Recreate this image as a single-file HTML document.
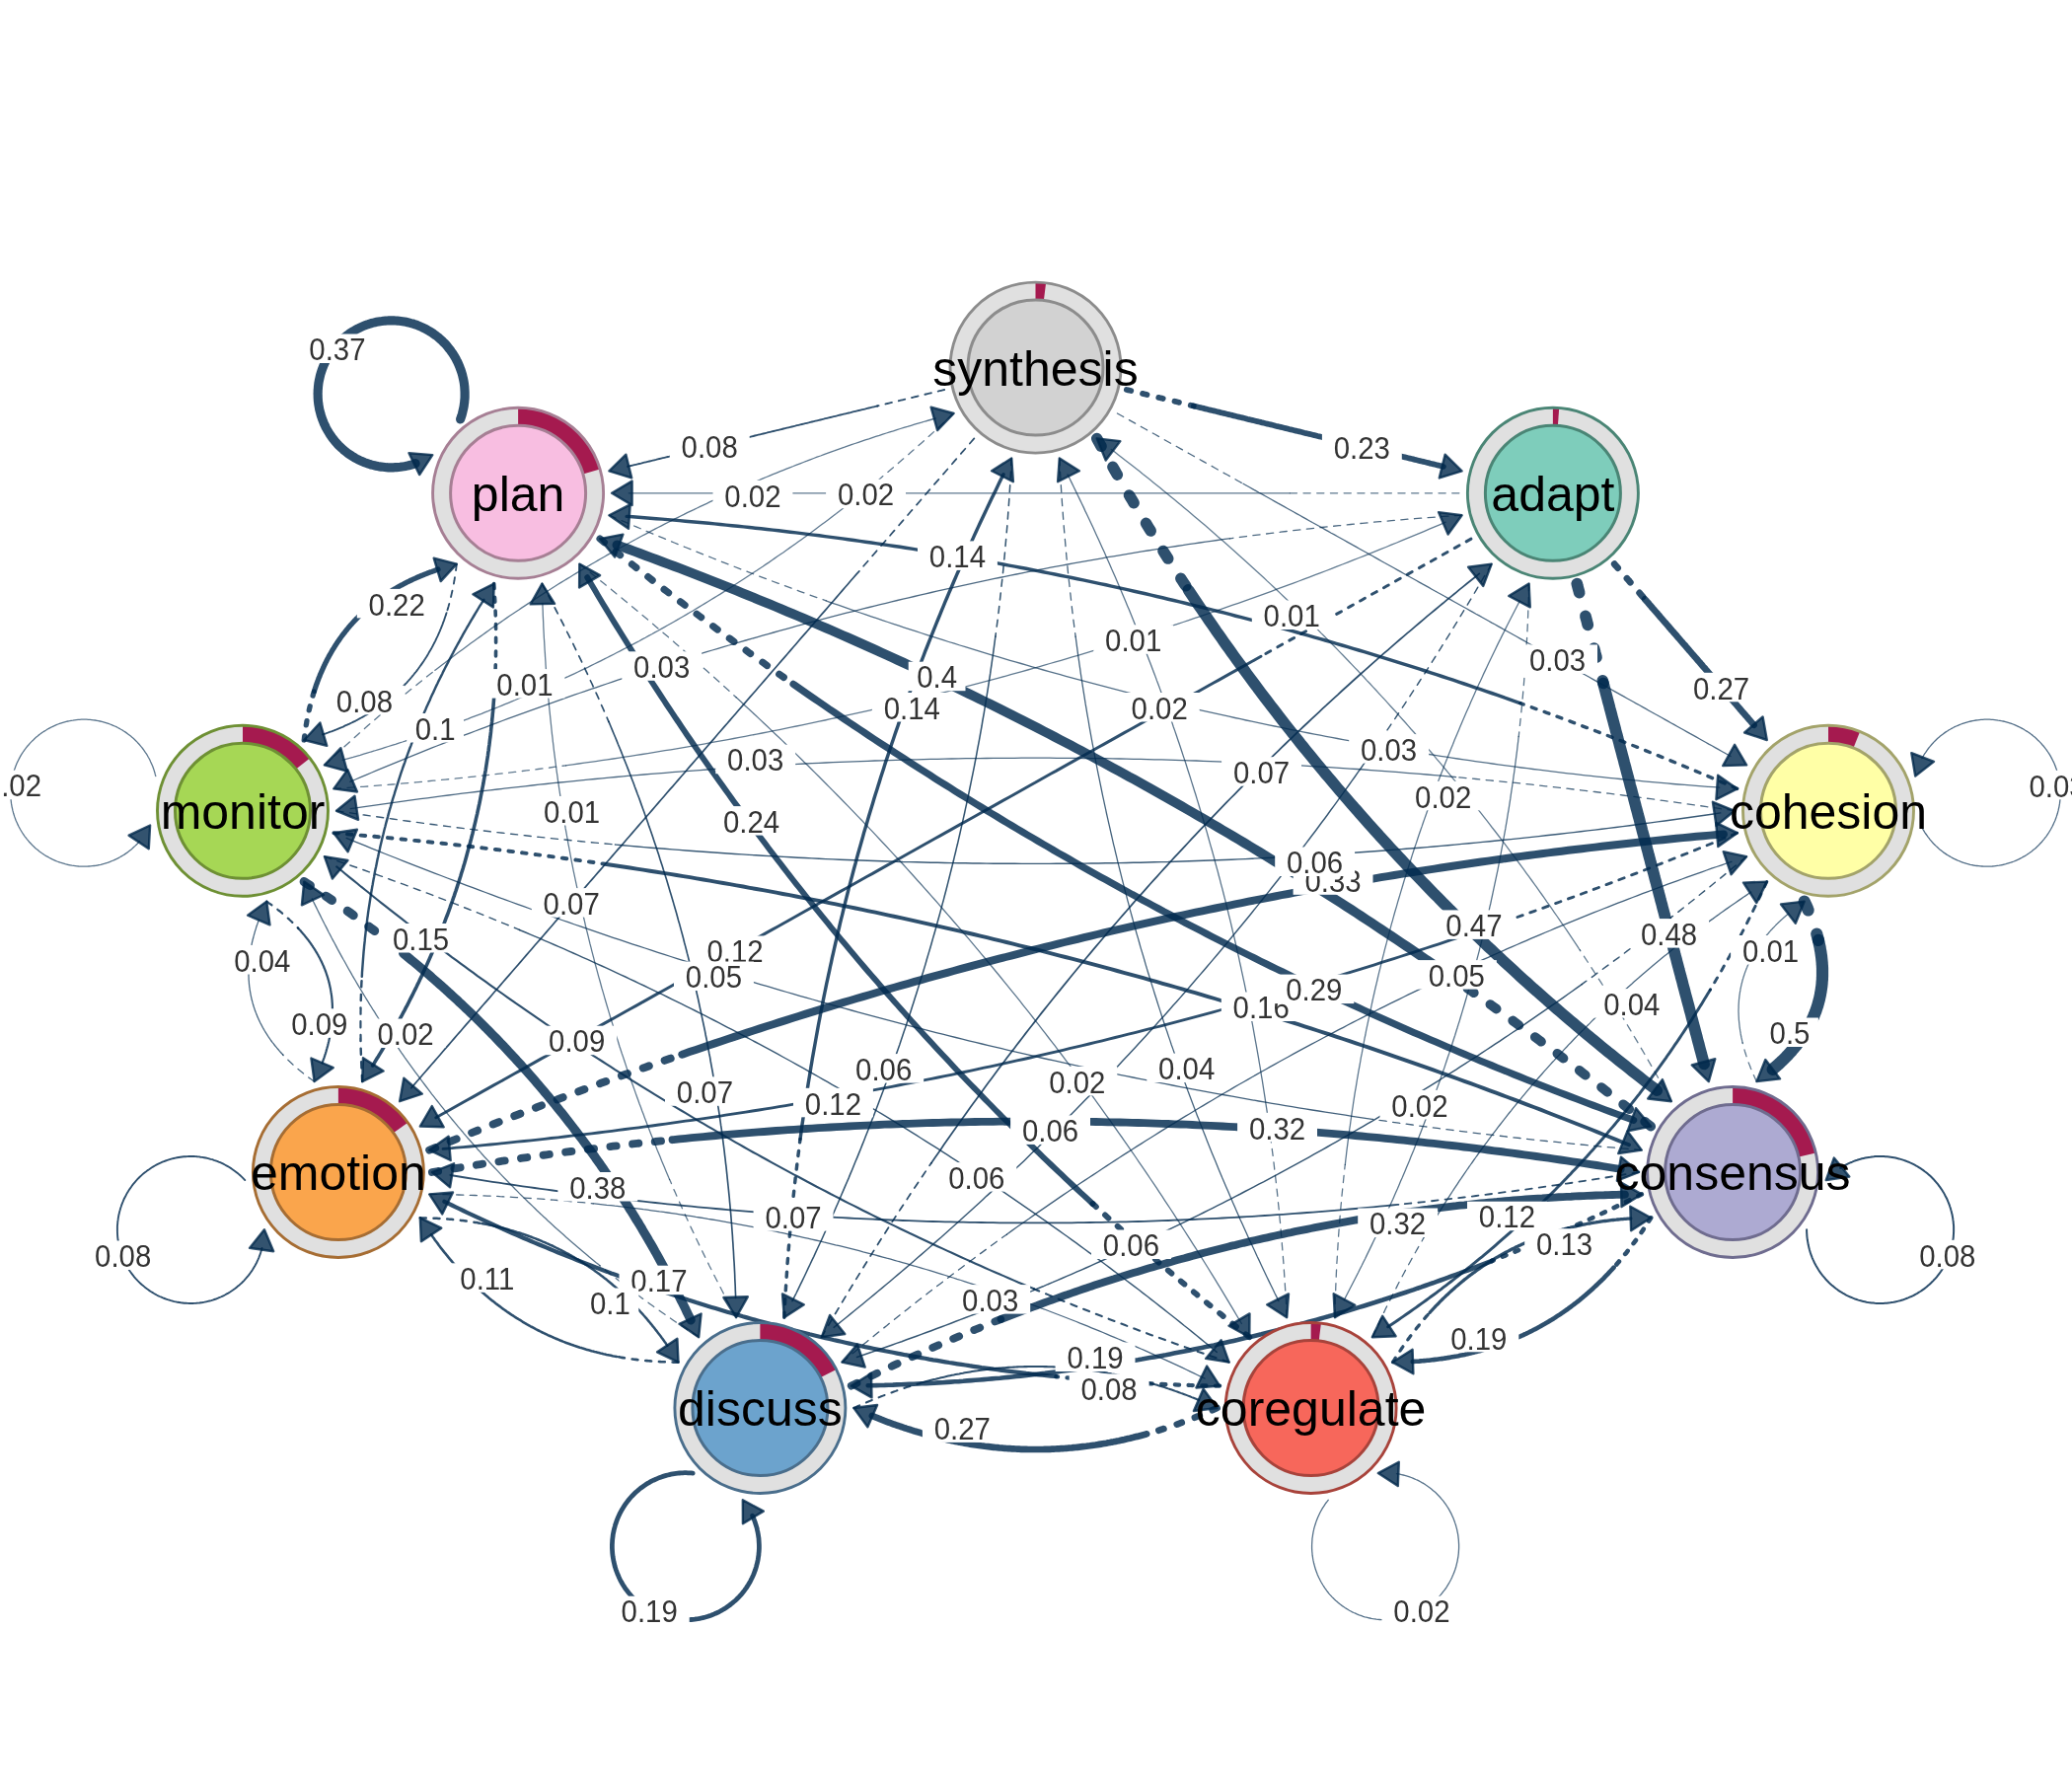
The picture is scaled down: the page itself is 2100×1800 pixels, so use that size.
<!DOCTYPE html>
<html><head><meta charset="utf-8"><title>TNA network</title>
<style>
html,body{margin:0;padding:0;background:#fff;width:2100px;height:1800px;overflow:hidden}
svg{display:block;will-change:transform}
.nl{font-family:"Liberation Sans",sans-serif;font-size:50px;fill:#000}
.el{font-family:"Liberation Sans",sans-serif;font-size:30px;fill:#333}
</style></head><body>
<svg xmlns="http://www.w3.org/2000/svg" width="2100" height="1800" viewBox="0 0 2100 1800"><rect width="100%" height="100%" fill="#fff"/><path d="M1693.9,1116.2 L1691.7,1112.2 L1689.5,1108.2 L1687.3,1104.3 L1685.1,1100.3 L1682.8,1096.3 L1680.6,1092.4 L1678.4,1088.5 L1676.1,1084.5 L1673.9,1080.6 L1671.6,1076.7 L1669.4,1072.7 L1667.1,1068.8 L1664.8,1064.9 L1662.5,1061.0 L1660.2,1057.1 L1657.9,1053.2 L1655.6,1049.4 L1653.3,1045.5 L1651.0,1041.6 L1648.7,1037.7 L1646.3,1033.9 L1644.0,1030.0 L1641.6,1026.2 L1639.3,1022.4 L1636.9,1018.5 L1634.5,1014.7 L1632.1,1010.9 L1629.8,1007.1 L1627.4,1003.3 L1625.0,999.5 L1622.6,995.7 L1620.1,991.9 L1617.7,988.1 L1615.3,984.3 L1612.8,980.6 L1610.4,976.8 L1607.9,973.0 L1605.5,969.3 L1603.0,965.5 L1601.3,962.9" fill="none" stroke="rgba(0,42,78,0.607)" stroke-width="1.30" stroke-linecap="round" stroke-dasharray="7.2 6.5"/><path d="M1601.3,962.9 L1600.5,961.8 L1598.1,958.1 L1595.6,954.4 L1593.1,950.6 L1590.6,946.9 L1588.1,943.2 L1585.6,939.5 L1583.0,935.8 L1580.5,932.1 L1578.0,928.5 L1575.4,924.8 L1572.9,921.1 L1570.3,917.4 L1567.7,913.8 L1565.2,910.1 L1562.6,906.5 L1560.0,902.9 L1557.4,899.2 L1554.8,895.6 L1552.2,892.0 L1549.6,888.4 L1546.9,884.8 L1544.3,881.2 L1541.7,877.6 L1539.0,874.0 L1536.4,870.4 L1533.7,866.8 L1531.0,863.3 L1528.3,859.7 L1525.7,856.1 L1523.0,852.6 L1520.3,849.0 L1517.6,845.5 L1514.9,842.0 L1512.1,838.5 L1509.4,834.9 L1506.7,831.4 L1503.9,827.9 L1501.2,824.4 L1498.4,820.9 L1495.7,817.4 L1492.9,814.0 L1490.1,810.5 L1487.3,807.0 L1484.5,803.5 L1481.7,800.1 L1478.9,796.6 L1476.1,793.2 L1473.3,789.8 L1470.5,786.3 L1467.6,782.9 L1464.8,779.5 L1462.0,776.1 L1459.1,772.7 L1456.2,769.3 L1453.4,765.9 L1450.5,762.5 L1447.6,759.1 L1444.7,755.7 L1441.8,752.4 L1438.9,749.0 L1436.0,745.6 L1433.1,742.3 L1430.1,739.0 L1427.2,735.6 L1424.3,732.3 L1421.3,729.0 L1418.3,725.6 L1415.4,722.3 L1412.4,719.0 L1409.4,715.7 L1406.4,712.4 L1403.5,709.1 L1400.4,705.9 L1397.4,702.6 L1394.4,699.3 L1391.4,696.1 L1388.4,692.8 L1385.3,689.6 L1382.3,686.3 L1379.2,683.1 L1376.2,679.8 L1373.1,676.6 L1370.0,673.4 L1367.0,670.2 L1363.9,667.0 L1360.8,663.8 L1357.7,660.6 L1354.6,657.4 L1351.5,654.2 L1348.3,651.1 L1345.2,647.9 L1342.1,644.7 L1338.9,641.6 L1335.8,638.4 L1332.6,635.3 L1329.4,632.1 L1326.3,629.0 L1323.1,625.9 L1319.9,622.8 L1316.7,619.7 L1313.5,616.5 L1310.3,613.4 L1307.1,610.4 L1303.8,607.3 L1300.6,604.2 L1297.4,601.1 L1294.1,598.0 L1290.9,595.0 L1287.6,591.9 L1284.3,588.9 L1281.1,585.8 L1277.8,582.8 L1274.5,579.8 L1271.2,576.7 L1267.9,573.7 L1264.6,570.7 L1261.3,567.7 L1257.9,564.7 L1254.6,561.7 L1251.3,558.7 L1247.9,555.7 L1244.6,552.8 L1241.2,549.8 L1237.8,546.8 L1234.4,543.9 L1231.1,540.9 L1227.7,538.0 L1224.3,535.1 L1220.9,532.1 L1217.5,529.2 L1214.0,526.3 L1210.6,523.4 L1207.2,520.5 L1203.7,517.6 L1200.3,514.7 L1196.8,511.8 L1193.4,508.9 L1189.9,506.0 L1186.4,503.2 L1182.9,500.3 L1179.4,497.5 L1175.9,494.6 L1172.4,491.8 L1168.9,488.9 L1165.4,486.1 L1161.9,483.3 L1158.3,480.5 L1154.8,477.6 L1151.2,474.8 L1147.7,472.0 L1144.1,469.2 L1140.5,466.5 L1137.0,463.7 L1133.4,460.9 L1129.8,458.1 L1126.2,455.4" fill="none" stroke="rgba(0,42,78,0.607)" stroke-width="1.30" stroke-linecap="round"/><path d="M338.3,799.4 L344.3,799.0 L350.2,798.6 L356.2,798.2 L362.1,797.7 L368.1,797.3 L374.0,796.9 L380.0,796.4 L385.9,795.9 L391.8,795.4 L397.8,795.0 L403.7,794.5 L409.6,793.9 L415.6,793.4 L421.5,792.9 L427.4,792.4 L433.3,791.8 L439.2,791.2 L445.2,790.7 L451.1,790.1 L457.0,789.5 L462.9,788.9 L468.8,788.3 L474.7,787.7 L480.6,787.1 L486.5,786.4 L492.4,785.8 L498.3,785.1 L504.2,784.4 L510.1,783.8 L515.9,783.1 L521.8,782.4 L527.7,781.7 L533.6,780.9 L539.5,780.2 L545.3,779.5 L551.2,778.7 L557.1,778.0 L562.9,777.2 L568.8,776.4 L573.6,775.8" fill="none" stroke="rgba(0,42,78,0.619)" stroke-width="1.30" stroke-linecap="round" stroke-dasharray="7.2 6.5"/><path d="M573.6,775.8 L574.7,775.6 L580.5,774.8 L586.4,774.0 L592.2,773.2 L598.1,772.4 L603.9,771.6 L609.8,770.7 L615.6,769.9 L621.5,769.0 L627.3,768.1 L633.2,767.2 L639.0,766.3 L644.8,765.4 L650.7,764.5 L656.5,763.6 L662.3,762.6 L668.1,761.7 L673.9,760.7 L679.8,759.8 L685.6,758.8 L691.4,757.8 L697.2,756.8 L703.0,755.8 L708.8,754.8 L714.6,753.8 L720.4,752.7 L726.2,751.7 L732.0,750.6 L737.8,749.6 L743.6,748.5 L749.4,747.4 L755.2,746.3 L761.0,745.2 L766.8,744.1 L772.5,743.0 L778.3,741.9 L784.1,740.7 L789.9,739.6 L795.6,738.4 L801.4,737.2 L807.2,736.0 L812.9,734.8 L818.7,733.6 L824.5,732.4 L830.2,731.2 L836.0,730.0 L841.7,728.7 L847.5,727.5 L853.2,726.2 L859.0,724.9 L864.7,723.7 L870.4,722.4 L876.2,721.1 L881.9,719.8 L887.6,718.4 L893.4,717.1 L899.1,715.8 L904.8,714.4 L910.5,713.0 L916.3,711.7 L922.0,710.3 L927.7,708.9 L933.4,707.5 L939.1,706.1 L944.8,704.7 L950.5,703.2 L956.2,701.8 L961.9,700.3 L967.6,698.9 L973.3,697.4 L979.0,695.9 L984.7,694.4 L990.4,692.9 L996.1,691.4 L1001.8,689.9 L1007.5,688.4 L1013.1,686.8 L1018.8,685.3 L1024.5,683.7 L1030.2,682.2 L1035.8,680.6 L1041.5,679.0 L1047.2,677.4 L1052.8,675.8 L1058.5,674.2 L1064.1,672.5 L1069.8,670.9 L1075.4,669.3 L1081.1,667.6 L1086.7,665.9 L1092.4,664.3 L1098.0,662.6 L1103.7,660.9 L1109.3,659.2 L1115.0,657.4 L1120.6,655.7 L1126.2,654.0 L1131.8,652.2 L1137.5,650.5 L1143.1,648.7 L1148.7,646.9 L1154.3,645.1 L1160.0,643.3 L1165.6,641.5 L1171.2,639.7 L1176.8,637.9 L1182.4,636.1 L1188.0,634.2 L1193.6,632.3 L1199.2,630.5 L1204.8,628.6 L1210.4,626.7 L1216.0,624.8 L1221.6,622.9 L1227.2,621.0 L1232.8,619.1 L1238.3,617.1 L1243.9,615.2 L1249.5,613.2 L1255.1,611.3 L1260.6,609.3 L1266.2,607.3 L1271.8,605.3 L1277.4,603.3 L1282.9,601.3 L1288.5,599.3 L1294.0,597.2 L1299.6,595.2 L1305.1,593.1 L1310.7,591.1 L1316.3,589.0 L1321.8,586.9 L1327.3,584.8 L1332.9,582.7 L1338.4,580.6 L1344.0,578.5 L1349.5,576.3 L1355.0,574.2 L1360.6,572.0 L1366.1,569.9 L1371.6,567.7 L1377.1,565.5 L1382.7,563.3 L1388.2,561.1 L1393.7,558.9 L1399.2,556.7 L1404.7,554.5 L1410.2,552.2 L1415.7,550.0 L1421.2,547.7 L1426.7,545.4 L1432.2,543.2 L1437.7,540.9 L1443.2,538.6 L1448.7,536.2 L1454.2,533.9 L1459.7,531.6 L1465.2,529.2" fill="none" stroke="rgba(0,42,78,0.619)" stroke-width="1.30" stroke-linecap="round"/><path d="M746.1,1335.2 L744.3,1331.7 L742.4,1328.2 L740.5,1324.7 L738.7,1321.2 L736.8,1317.7 L735.0,1314.2 L733.2,1310.7 L731.4,1307.2 L729.6,1303.7 L727.8,1300.2 L726.0,1296.7 L724.2,1293.2 L722.4,1289.7 L720.7,1286.2 L718.9,1282.7 L717.2,1279.2 L715.4,1275.7 L713.7,1272.1 L712.0,1268.6 L710.3,1265.1 L708.6,1261.6 L706.9,1258.0 L705.2,1254.5 L703.6,1251.0 L701.9,1247.4 L700.2,1243.9 L698.6,1240.3 L697.0,1236.8 L695.3,1233.2 L693.7,1229.7 L692.1,1226.1 L690.5,1222.6 L688.9,1219.0 L687.3,1215.5 L685.8,1211.9 L684.2,1208.3 L682.6,1204.8 L681.1,1201.2 L679.6,1197.6 L678.6,1195.4" fill="none" stroke="rgba(0,42,78,0.621)" stroke-width="1.30" stroke-linecap="round" stroke-dasharray="7.2 6.5"/><path d="M678.6,1195.4 L678.0,1194.1 L676.5,1190.5 L675.0,1186.9 L673.5,1183.3 L672.0,1179.7 L670.5,1176.2 L669.1,1172.6 L667.6,1169.0 L666.1,1165.4 L664.7,1161.8 L663.3,1158.2 L661.8,1154.6 L660.4,1151.0 L659.0,1147.4 L657.6,1143.8 L656.2,1140.2 L654.8,1136.6 L653.4,1132.9 L652.1,1129.3 L650.7,1125.7 L649.4,1122.1 L648.0,1118.5 L646.7,1114.8 L645.4,1111.2 L644.1,1107.6 L642.8,1103.9 L641.5,1100.3 L640.2,1096.7 L638.9,1093.0 L637.7,1089.4 L636.4,1085.7 L635.1,1082.1 L633.9,1078.4 L632.7,1074.8 L631.5,1071.1 L630.2,1067.5 L629.0,1063.8 L627.8,1060.2 L626.7,1056.5 L625.5,1052.8 L624.3,1049.2 L623.2,1045.5 L622.0,1041.8 L620.9,1038.1 L619.7,1034.5 L618.6,1030.8 L617.5,1027.1 L616.4,1023.4 L615.3,1019.7 L614.2,1016.0 L613.1,1012.3 L612.1,1008.6 L611.0,1004.9 L609.9,1001.2 L608.9,997.5 L607.9,993.8 L606.8,990.1 L605.8,986.4 L604.8,982.7 L603.8,979.0 L602.8,975.3 L601.9,971.6 L600.9,967.8 L599.9,964.1 L599.0,960.4 L598.0,956.7 L597.1,952.9 L596.2,949.2 L595.3,945.5 L594.3,941.7 L593.4,938.0 L592.6,934.2 L591.7,930.5 L590.8,926.7 L589.9,923.0 L589.1,919.2 L588.2,915.5 L587.4,911.7 L586.6,908.0 L585.8,904.2 L585.0,900.4 L584.2,896.7 L583.4,892.9 L582.6,889.1 L581.8,885.4 L581.0,881.6 L580.3,877.8 L579.5,874.0 L578.8,870.2 L578.1,866.5 L577.4,862.7 L576.7,858.9 L575.9,855.1 L575.3,851.3 L574.6,847.5 L573.9,843.7 L573.2,839.9 L572.6,836.1 L571.9,832.3 L571.3,828.5 L570.7,824.7 L570.0,820.8 L569.4,817.0 L568.8,813.2 L568.2,809.4 L567.7,805.6 L567.1,801.7 L566.5,797.9 L566.0,794.1 L565.4,790.3 L564.9,786.4 L564.3,782.6 L563.8,778.7 L563.3,774.9 L562.8,771.1 L562.3,767.2 L561.8,763.4 L561.3,759.5 L560.9,755.6 L560.4,751.8 L560.0,747.9 L559.5,744.1 L559.1,740.2 L558.7,736.3 L558.3,732.5 L557.9,728.6 L557.5,724.7 L557.1,720.9 L556.7,717.0 L556.3,713.1 L556.0,709.2 L555.6,705.3 L555.3,701.4 L554.9,697.5 L554.6,693.7 L554.3,689.8 L554.0,685.9 L553.7,682.0 L553.4,678.1 L553.1,674.2 L552.9,670.2 L552.6,666.3 L552.4,662.4 L552.1,658.5 L551.9,654.6 L551.7,650.7 L551.4,646.8 L551.2,642.8 L551.0,638.9 L550.8,635.0 L550.7,631.1 L550.5,627.1 L550.3,623.2 L550.2,619.2 L550.0,615.3 L549.9,611.4" fill="none" stroke="rgba(0,42,78,0.621)" stroke-width="1.30" stroke-linecap="round"/><path d="M966.6,419.0 L963.8,421.5 L961.1,424.1 L958.3,426.7 L955.6,429.2 L952.8,431.8 L950.1,434.3 L947.3,436.9 L944.5,439.4 L941.7,441.9 L939.0,444.4 L936.2,446.9 L933.4,449.4 L930.6,451.9 L927.8,454.4 L925.0,456.8 L922.2,459.3 L919.4,461.8 L916.5,464.2 L913.7,466.6 L910.9,469.1 L908.1,471.5 L905.2,473.9 L902.4,476.3 L899.5,478.7 L896.7,481.1 L893.8,483.5 L891.0,485.9 L888.1,488.2 L885.3,490.6 L882.4,492.9 L879.5,495.3 L876.6,497.6 L873.7,499.9 L870.9,502.2 L868.0,504.5 L865.1,506.8 L862.2,509.1 L859.3,511.4 L856.3,513.7 L854.6,515.1" fill="none" stroke="rgba(0,42,78,0.623)" stroke-width="1.30" stroke-linecap="round" stroke-dasharray="7.2 6.5"/><path d="M854.6,515.1 L853.4,516.0 L850.5,518.2 L847.6,520.5 L844.6,522.7 L841.7,525.0 L838.8,527.2 L835.8,529.4 L832.9,531.6 L829.9,533.8 L827.0,536.0 L824.0,538.2 L821.0,540.4 L818.1,542.6 L815.1,544.7 L812.1,546.9 L809.1,549.0 L806.1,551.2 L803.2,553.3 L800.2,555.4 L797.2,557.5 L794.2,559.7 L791.1,561.8 L788.1,563.8 L785.1,565.9 L782.1,568.0 L779.1,570.1 L776.0,572.1 L773.0,574.2 L769.9,576.2 L766.9,578.3 L763.8,580.3 L760.8,582.3 L757.7,584.3 L754.7,586.3 L751.6,588.3 L748.5,590.3 L745.4,592.3 L742.4,594.3 L739.3,596.2 L736.2,598.2 L733.1,600.1 L730.0,602.1 L726.9,604.0 L723.8,605.9 L720.7,607.8 L717.5,609.7 L714.4,611.6 L711.3,613.5 L708.2,615.4 L705.0,617.3 L701.9,619.2 L698.7,621.0 L695.6,622.9 L692.4,624.7 L689.3,626.5 L686.1,628.4 L682.9,630.2 L679.8,632.0 L676.6,633.8 L673.4,635.6 L670.2,637.4 L667.0,639.2 L663.8,640.9 L660.6,642.7 L657.4,644.4 L654.2,646.2 L651.0,647.9 L647.8,649.7 L644.6,651.4 L641.3,653.1 L638.1,654.8 L634.9,656.5 L631.6,658.2 L628.4,659.9 L625.1,661.5 L621.9,663.2 L618.6,664.9 L615.4,666.5 L612.1,668.2 L608.8,669.8 L605.6,671.4 L602.3,673.0 L599.0,674.6 L595.7,676.3 L592.4,677.8 L589.1,679.4 L585.8,681.0 L582.5,682.6 L579.2,684.1 L575.9,685.7 L572.5,687.2 L569.2,688.8 L565.9,690.3 L562.6,691.8 L559.2,693.3 L555.9,694.8 L552.5,696.3 L549.2,697.8 L545.8,699.3 L542.5,700.8 L539.1,702.2 L535.7,703.7 L532.3,705.2 L529.0,706.6 L525.6,708.0 L522.2,709.5 L518.8,710.9 L515.4,712.3 L512.0,713.7 L508.6,715.1 L505.2,716.5 L501.8,717.8 L498.3,719.2 L494.9,720.6 L491.5,721.9 L488.1,723.3 L484.6,724.6 L481.2,725.9 L477.7,727.2 L474.3,728.6 L470.8,729.9 L467.4,731.2 L463.9,732.4 L460.4,733.7 L457.0,735.0 L453.5,736.3 L450.0,737.5 L446.5,738.8 L443.0,740.0 L439.5,741.2 L436.0,742.5 L432.5,743.7 L429.0,744.9 L425.5,746.1 L422.0,747.3 L418.5,748.5 L414.9,749.6 L411.4,750.8 L407.9,752.0 L404.3,753.1 L400.8,754.3 L397.2,755.4 L393.7,756.5 L390.1,757.6 L386.5,758.8 L383.0,759.9 L379.4,761.0 L375.8,762.0 L372.2,763.1 L368.7,764.2 L365.1,765.3 L361.5,766.3 L357.9,767.4 L354.3,768.4 L350.7,769.4 L347.1,770.4" fill="none" stroke="rgba(0,42,78,0.623)" stroke-width="1.30" stroke-linecap="round"/><path d="M1780.4,1096.1 L1779.9,1095.0 L1779.3,1093.9 L1778.8,1092.8 L1778.3,1091.7 L1777.8,1090.6 L1777.3,1089.5 L1776.8,1088.4 L1776.4,1087.3 L1775.9,1086.2 L1775.4,1085.1 L1775.0,1084.0 L1774.5,1082.9 L1774.1,1081.8 L1773.7,1080.7 L1773.3,1079.6 L1772.8,1078.5 L1772.4,1077.4 L1772.0,1076.4 L1771.7,1075.3 L1771.3,1074.2 L1770.9,1073.1 L1770.5,1072.1 L1770.2,1071.0 L1769.8,1069.9 L1769.5,1068.8 L1769.1,1067.8 L1768.8,1066.7 L1768.5,1065.7 L1768.2,1064.6 L1767.9,1063.5 L1767.6,1062.5 L1767.3,1061.4 L1767.0,1060.4 L1766.7,1059.3 L1766.5,1058.3 L1766.2,1057.2 L1766.1,1056.8" fill="none" stroke="rgba(0,42,78,0.632)" stroke-width="1.30" stroke-linecap="round" stroke-dasharray="7.2 6.5"/><path d="M1766.1,1056.8 L1766.0,1056.2 L1765.7,1055.2 L1765.5,1054.1 L1765.3,1053.1 L1765.0,1052.0 L1764.8,1051.0 L1764.6,1050.0 L1764.4,1049.0 L1764.2,1047.9 L1764.1,1046.9 L1763.9,1045.9 L1763.7,1044.9 L1763.6,1043.8 L1763.4,1042.8 L1763.3,1041.8 L1763.1,1040.8 L1763.0,1039.8 L1762.9,1038.8 L1762.8,1037.8 L1762.7,1036.8 L1762.6,1035.8 L1762.5,1034.8 L1762.4,1033.8 L1762.3,1032.8 L1762.3,1031.8 L1762.2,1030.8 L1762.2,1029.8 L1762.1,1028.8 L1762.1,1027.8 L1762.1,1026.9 L1762.0,1025.9 L1762.0,1024.9 L1762.0,1023.9 L1762.0,1022.9 L1762.1,1022.0 L1762.1,1021.0 L1762.1,1020.0 L1762.1,1019.1 L1762.2,1018.1 L1762.2,1017.1 L1762.3,1016.2 L1762.4,1015.2 L1762.4,1014.3 L1762.5,1013.3 L1762.6,1012.3 L1762.7,1011.4 L1762.8,1010.4 L1762.9,1009.5 L1763.0,1008.6 L1763.2,1007.6 L1763.3,1006.7 L1763.5,1005.7 L1763.6,1004.8 L1763.8,1003.9 L1763.9,1002.9 L1764.1,1002.0 L1764.3,1001.1 L1764.5,1000.2 L1764.7,999.2 L1764.9,998.3 L1765.1,997.4 L1765.3,996.5 L1765.6,995.6 L1765.8,994.6 L1766.0,993.7 L1766.3,992.8 L1766.6,991.9 L1766.8,991.0 L1767.1,990.1 L1767.4,989.2 L1767.7,988.3 L1768.0,987.4 L1768.3,986.5 L1768.6,985.6 L1768.9,984.7 L1769.3,983.8 L1769.6,982.9 L1769.9,982.1 L1770.3,981.2 L1770.7,980.3 L1771.0,979.4 L1771.4,978.5 L1771.8,977.7 L1772.2,976.8 L1772.6,975.9 L1773.0,975.1 L1773.4,974.2 L1773.8,973.3 L1774.3,972.5 L1774.7,971.6 L1775.1,970.7 L1775.6,969.9 L1776.1,969.0 L1776.5,968.2 L1777.0,967.3 L1777.5,966.5 L1778.0,965.6 L1778.5,964.8 L1779.0,964.0 L1779.5,963.1 L1780.0,962.3 L1780.6,961.4 L1781.1,960.6 L1781.7,959.8 L1782.2,958.9 L1782.8,958.1 L1783.3,957.3 L1783.9,956.5 L1784.5,955.6 L1785.1,954.8 L1785.7,954.0 L1786.3,953.2 L1786.9,952.4 L1787.6,951.6 L1788.2,950.8 L1788.8,950.0 L1789.5,949.2 L1790.1,948.4 L1790.8,947.5 L1791.5,946.8 L1792.2,946.0 L1792.8,945.2 L1793.5,944.4 L1794.2,943.6 L1794.9,942.8 L1795.7,942.0 L1796.4,941.2 L1797.1,940.4 L1797.9,939.7 L1798.6,938.9 L1799.4,938.1 L1800.1,937.3 L1800.9,936.6 L1801.7,935.8 L1802.5,935.0 L1803.3,934.2 L1804.1,933.5 L1804.9,932.7 L1805.7,932.0 L1806.5,931.2 L1807.4,930.5 L1808.2,929.7 L1809.1,928.9 L1809.9,928.2 L1810.8,927.4 L1811.7,926.7 L1812.5,926.0" fill="none" stroke="rgba(0,42,78,0.632)" stroke-width="1.30" stroke-linecap="round"/><path d="M1478.9,499.8 L1474.7,499.8 L1470.4,499.8 L1466.1,499.8 L1461.8,499.8 L1457.5,499.8 L1453.2,499.8 L1448.9,499.8 L1444.6,499.8 L1440.3,499.8 L1436.0,499.8 L1431.7,499.8 L1427.4,499.8 L1423.1,499.8 L1418.8,499.8 L1414.5,499.8 L1410.2,499.8 L1405.9,499.8 L1401.6,499.8 L1397.4,499.8 L1393.1,499.8 L1388.8,499.8 L1384.5,499.8 L1380.2,499.8 L1375.9,499.8 L1371.6,499.8 L1367.3,499.8 L1363.0,499.8 L1358.7,499.8 L1354.4,499.8 L1350.1,499.8 L1345.8,499.8 L1341.5,499.8 L1337.2,499.8 L1332.9,499.8 L1328.6,499.8 L1324.3,499.8 L1320.1,499.8 L1315.8,499.8 L1311.5,499.8 L1307.2,499.8 L1307.2,499.8" fill="none" stroke="rgba(0,42,78,0.635)" stroke-width="1.30" stroke-linecap="round" stroke-dasharray="7.2 6.5"/><path d="M1307.2,499.8 L1302.9,499.8 L1298.6,499.8 L1294.3,499.8 L1290.0,499.8 L1285.7,499.8 L1281.4,499.8 L1277.1,499.8 L1272.8,499.8 L1268.5,499.8 L1264.2,499.8 L1259.9,499.8 L1255.6,499.8 L1251.3,499.8 L1247.0,499.8 L1242.8,499.8 L1238.5,499.8 L1234.2,499.8 L1229.9,499.8 L1225.6,499.8 L1221.3,499.8 L1217.0,499.8 L1212.7,499.8 L1208.4,499.8 L1204.1,499.8 L1199.8,499.8 L1195.5,499.8 L1191.2,499.8 L1186.9,499.8 L1182.6,499.8 L1178.3,499.8 L1174.0,499.8 L1169.7,499.8 L1165.5,499.8 L1161.2,499.8 L1156.9,499.8 L1152.6,499.8 L1148.3,499.8 L1144.0,499.8 L1139.7,499.8 L1135.4,499.8 L1131.1,499.8 L1126.8,499.8 L1122.5,499.8 L1118.2,499.8 L1113.9,499.8 L1109.6,499.8 L1105.3,499.8 L1101.0,499.8 L1096.7,499.8 L1092.4,499.8 L1088.2,499.8 L1083.9,499.8 L1079.6,499.8 L1075.3,499.8 L1071.0,499.8 L1066.7,499.8 L1062.4,499.8 L1058.1,499.8 L1053.8,499.8 L1049.5,499.8 L1045.2,499.8 L1040.9,499.8 L1036.6,499.8 L1032.3,499.8 L1028.0,499.8 L1023.7,499.8 L1019.4,499.8 L1015.1,499.8 L1010.8,499.8 L1006.6,499.8 L1002.3,499.8 L998.0,499.8 L993.7,499.8 L989.4,499.8 L985.1,499.8 L980.8,499.8 L976.5,499.8 L972.2,499.8 L967.9,499.8 L963.6,499.8 L959.3,499.8 L955.0,499.8 L950.7,499.8 L946.4,499.8 L942.1,499.8 L937.8,499.8 L933.5,499.8 L929.3,499.8 L925.0,499.8 L920.7,499.8 L916.4,499.8 L912.1,499.8 L907.8,499.8 L903.5,499.8 L899.2,499.8 L894.9,499.8 L890.6,499.8 L886.3,499.8 L882.0,499.8 L877.7,499.8 L873.4,499.8 L869.1,499.8 L864.8,499.8 L860.5,499.8 L856.2,499.8 L852.0,499.8 L847.7,499.8 L843.4,499.8 L839.1,499.8 L834.8,499.8 L830.5,499.8 L826.2,499.8 L821.9,499.8 L817.6,499.8 L813.3,499.8 L809.0,499.8 L804.7,499.8 L800.4,499.8 L796.1,499.8 L791.8,499.8 L787.5,499.8 L783.2,499.8 L778.9,499.8 L774.7,499.8 L770.4,499.8 L766.1,499.8 L761.8,499.8 L757.5,499.8 L753.2,499.8 L748.9,499.8 L744.6,499.8 L740.3,499.8 L736.0,499.8 L731.7,499.8 L727.4,499.8 L723.1,499.8 L718.8,499.8 L714.5,499.8 L710.2,499.8 L705.9,499.8 L701.6,499.8 L697.4,499.8 L693.1,499.8 L688.8,499.8 L684.5,499.8 L680.2,499.8 L675.9,499.8 L671.6,499.8 L667.3,499.8 L663.0,499.8 L658.7,499.8 L654.4,499.8 L650.1,499.8 L645.8,499.8 L641.5,499.8 L637.2,499.8" fill="none" stroke="rgba(0,42,78,0.635)" stroke-width="1.30" stroke-linecap="round"/><path d="M328.9,775.4 L331.7,772.9 L334.4,770.3 L337.2,767.7 L339.9,765.2 L342.7,762.6 L345.4,760.1 L348.2,757.5 L351.0,755.0 L353.8,752.5 L356.5,750.0 L359.3,747.5 L362.1,745.0 L364.9,742.5 L367.7,740.0 L370.5,737.6 L373.3,735.1 L376.1,732.6 L379.0,730.2 L381.8,727.8 L384.6,725.3 L387.4,722.9 L390.3,720.5 L393.1,718.1 L396.0,715.7 L398.8,713.3 L401.7,710.9 L404.5,708.5 L407.4,706.2 L410.2,703.8 L413.1,701.5 L416.0,699.1 L418.9,696.8 L421.8,694.5 L424.6,692.2 L427.5,689.9 L430.4,687.5 L433.3,685.3 L436.2,683.0 L439.2,680.7 L440.9,679.3" fill="none" stroke="rgba(0,42,78,0.636)" stroke-width="1.30" stroke-linecap="round" stroke-dasharray="7.2 6.5"/><path d="M440.9,679.3 L442.1,678.4 L445.0,676.2 L447.9,673.9 L450.9,671.7 L453.8,669.4 L456.7,667.2 L459.7,665.0 L462.6,662.8 L465.6,660.6 L468.5,658.4 L471.5,656.2 L474.5,654.0 L477.4,651.8 L480.4,649.7 L483.4,647.5 L486.4,645.4 L489.4,643.2 L492.3,641.1 L495.3,639.0 L498.3,636.8 L501.3,634.7 L504.4,632.6 L507.4,630.6 L510.4,628.5 L513.4,626.4 L516.4,624.3 L519.5,622.3 L522.5,620.2 L525.6,618.2 L528.6,616.1 L531.7,614.1 L534.7,612.1 L537.8,610.1 L540.8,608.1 L543.9,606.1 L547.0,604.1 L550.1,602.1 L553.1,600.1 L556.2,598.2 L559.3,596.2 L562.4,594.3 L565.5,592.3 L568.6,590.4 L571.7,588.5 L574.8,586.6 L578.0,584.7 L581.1,582.8 L584.2,580.9 L587.3,579.0 L590.5,577.1 L593.6,575.2 L596.8,573.4 L599.9,571.5 L603.1,569.7 L606.2,567.9 L609.4,566.0 L612.6,564.2 L615.7,562.4 L618.9,560.6 L622.1,558.8 L625.3,557.0 L628.5,555.2 L631.7,553.5 L634.9,551.7 L638.1,550.0 L641.3,548.2 L644.5,546.5 L647.7,544.7 L650.9,543.0 L654.2,541.3 L657.4,539.6 L660.6,537.9 L663.9,536.2 L667.1,534.5 L670.4,532.8 L673.6,531.2 L676.9,529.5 L680.1,527.9 L683.4,526.2 L686.7,524.6 L689.9,523.0 L693.2,521.4 L696.5,519.7 L699.8,518.1 L703.1,516.6 L706.4,515.0 L709.7,513.4 L713.0,511.8 L716.3,510.3 L719.6,508.7 L723.0,507.2 L726.3,505.6 L729.6,504.1 L732.9,502.6 L736.3,501.1 L739.6,499.6 L743.0,498.1 L746.3,496.6 L749.7,495.1 L753.0,493.6 L756.4,492.1 L759.8,490.7 L763.2,489.2 L766.5,487.8 L769.9,486.4 L773.3,484.9 L776.7,483.5 L780.1,482.1 L783.5,480.7 L786.9,479.3 L790.3,477.9 L793.7,476.6 L797.2,475.2 L800.6,473.8 L804.0,472.5 L807.4,471.1 L810.9,469.8 L814.3,468.5 L817.8,467.2 L821.2,465.8 L824.7,464.5 L828.1,463.2 L831.6,462.0 L835.1,460.7 L838.5,459.4 L842.0,458.1 L845.5,456.9 L849.0,455.6 L852.5,454.4 L856.0,453.2 L859.5,451.9 L863.0,450.7 L866.5,449.5 L870.0,448.3 L873.5,447.1 L877.0,445.9 L880.6,444.8 L884.1,443.6 L887.6,442.4 L891.2,441.3 L894.7,440.1 L898.3,439.0 L901.8,437.9 L905.4,436.8 L909.0,435.6 L912.5,434.5 L916.1,433.4 L919.7,432.4 L923.3,431.3 L926.8,430.2 L930.4,429.1 L934.0,428.1 L937.6,427.0 L941.2,426.0 L944.8,425.0 L948.4,424.0" fill="none" stroke="rgba(0,42,78,0.636)" stroke-width="1.30" stroke-linecap="round"/><path d="M1352.9,1335.2 L1352.9,1331.2 L1353.0,1327.3 L1353.2,1323.3 L1353.3,1319.4 L1353.4,1315.4 L1353.5,1311.5 L1353.7,1307.5 L1353.8,1303.6 L1354.0,1299.7 L1354.2,1295.7 L1354.3,1291.8 L1354.5,1287.9 L1354.7,1283.9 L1354.9,1280.0 L1355.2,1276.1 L1355.4,1272.2 L1355.6,1268.3 L1355.9,1264.3 L1356.1,1260.4 L1356.4,1256.5 L1356.6,1252.6 L1356.9,1248.7 L1357.2,1244.8 L1357.5,1240.9 L1357.8,1237.0 L1358.1,1233.1 L1358.4,1229.2 L1358.8,1225.3 L1359.1,1221.5 L1359.5,1217.6 L1359.8,1213.7 L1360.2,1209.8 L1360.6,1205.9 L1361.0,1202.0 L1361.4,1198.2 L1361.8,1194.3 L1362.2,1190.4 L1362.6,1186.6 L1363.0,1182.7 L1363.3,1180.3" fill="none" stroke="rgba(0,42,78,0.637)" stroke-width="1.30" stroke-linecap="round" stroke-dasharray="7.2 6.5"/><path d="M1363.3,1180.3 L1363.5,1178.8 L1363.9,1175.0 L1364.4,1171.1 L1364.8,1167.3 L1365.3,1163.4 L1365.8,1159.6 L1366.3,1155.7 L1366.8,1151.9 L1367.3,1148.0 L1367.8,1144.2 L1368.4,1140.4 L1368.9,1136.5 L1369.5,1132.7 L1370.0,1128.9 L1370.6,1125.0 L1371.2,1121.2 L1371.7,1117.4 L1372.3,1113.6 L1372.9,1109.7 L1373.5,1105.9 L1374.2,1102.1 L1374.8,1098.3 L1375.4,1094.5 L1376.1,1090.7 L1376.7,1086.9 L1377.4,1083.1 L1378.1,1079.3 L1378.8,1075.5 L1379.4,1071.7 L1380.2,1067.9 L1380.9,1064.1 L1381.6,1060.3 L1382.3,1056.5 L1383.0,1052.7 L1383.8,1049.0 L1384.5,1045.2 L1385.3,1041.4 L1386.1,1037.6 L1386.9,1033.9 L1387.7,1030.1 L1388.5,1026.3 L1389.3,1022.6 L1390.1,1018.8 L1390.9,1015.0 L1391.7,1011.3 L1392.6,1007.5 L1393.4,1003.8 L1394.3,1000.0 L1395.2,996.3 L1396.1,992.5 L1396.9,988.8 L1397.8,985.1 L1398.8,981.3 L1399.7,977.6 L1400.6,973.9 L1401.5,970.1 L1402.5,966.4 L1403.4,962.7 L1404.4,958.9 L1405.4,955.2 L1406.3,951.5 L1407.3,947.8 L1408.3,944.1 L1409.3,940.4 L1410.3,936.6 L1411.4,932.9 L1412.4,929.2 L1413.4,925.5 L1414.5,921.8 L1415.6,918.1 L1416.6,914.4 L1417.7,910.8 L1418.8,907.1 L1419.9,903.4 L1421.0,899.7 L1422.1,896.0 L1423.2,892.3 L1424.4,888.6 L1425.5,885.0 L1426.7,881.3 L1427.8,877.6 L1429.0,874.0 L1430.2,870.3 L1431.3,866.6 L1432.5,863.0 L1433.7,859.3 L1435.0,855.6 L1436.2,852.0 L1437.4,848.3 L1438.6,844.7 L1439.9,841.0 L1441.2,837.4 L1442.4,833.8 L1443.7,830.1 L1445.0,826.5 L1446.3,822.8 L1447.6,819.2 L1448.9,815.6 L1450.2,811.9 L1451.5,808.3 L1452.9,804.7 L1454.2,801.1 L1455.6,797.5 L1456.9,793.8 L1458.3,790.2 L1459.7,786.6 L1461.1,783.0 L1462.5,779.4 L1463.9,775.8 L1465.3,772.2 L1466.8,768.6 L1468.2,765.0 L1469.6,761.4 L1471.1,757.8 L1472.6,754.2 L1474.0,750.6 L1475.5,747.0 L1477.0,743.5 L1478.5,739.9 L1480.0,736.3 L1481.5,732.7 L1483.1,729.1 L1484.6,725.6 L1486.1,722.0 L1487.7,718.4 L1489.3,714.9 L1490.8,711.3 L1492.4,707.7 L1494.0,704.2 L1495.6,700.6 L1497.2,697.1 L1498.8,693.5 L1500.5,690.0 L1502.1,686.4 L1503.7,682.9 L1505.4,679.4 L1507.1,675.8 L1508.7,672.3 L1510.4,668.7 L1512.1,665.2 L1513.8,661.7 L1515.5,658.2 L1517.2,654.6 L1518.9,651.1 L1520.7,647.6 L1522.4,644.1 L1524.2,640.6 L1525.9,637.1 L1527.7,633.5 L1529.5,630.0 L1531.3,626.5 L1533.1,623.0 L1534.9,619.5 L1536.7,616.0 L1538.5,612.5 L1540.3,609.0" fill="none" stroke="rgba(0,42,78,0.637)" stroke-width="1.30" stroke-linecap="round"/><path d="M587.3,571.6 L591.4,574.8 L595.5,578.1 L599.7,581.4 L603.8,584.7 L607.9,588.0 L612.0,591.3 L616.1,594.6 L620.2,597.9 L624.2,601.3 L628.3,604.6 L632.4,607.9 L636.4,611.3 L640.5,614.6 L644.5,618.0 L648.6,621.4 L652.6,624.7 L656.6,628.1 L660.6,631.5 L664.6,634.9 L668.6,638.3 L672.6,641.7 L676.6,645.1 L680.6,648.5 L684.5,651.9 L688.5,655.4 L692.4,658.8 L696.4,662.2 L700.3,665.7 L704.2,669.2 L708.2,672.6 L712.1,676.1 L716.0,679.6 L719.9,683.0 L723.8,686.5 L727.7,690.0 L731.5,693.5 L735.4,697.0 L739.3,700.5 L743.1,704.1 L746.1,706.8" fill="none" stroke="rgba(0,42,78,0.641)" stroke-width="1.30" stroke-linecap="round" stroke-dasharray="7.2 6.5"/><path d="M746.1,706.8 L747.0,707.6 L750.8,711.1 L754.6,714.7 L758.5,718.2 L762.3,721.8 L766.1,725.3 L769.9,728.9 L773.7,732.5 L777.5,736.0 L781.3,739.6 L785.0,743.2 L788.8,746.8 L792.6,750.4 L796.3,754.0 L800.1,757.6 L803.8,761.3 L807.5,764.9 L811.2,768.5 L814.9,772.2 L818.7,775.8 L822.4,779.5 L826.0,783.1 L829.7,786.8 L833.4,790.5 L837.1,794.2 L840.7,797.9 L844.4,801.6 L848.0,805.3 L851.7,809.0 L855.3,812.7 L858.9,816.4 L862.5,820.1 L866.1,823.9 L869.7,827.6 L873.3,831.3 L876.9,835.1 L880.5,838.9 L884.1,842.6 L887.6,846.4 L891.2,850.2 L894.7,854.0 L898.3,857.8 L901.8,861.6 L905.3,865.4 L908.9,869.2 L912.4,873.0 L915.9,876.8 L919.4,880.6 L922.9,884.5 L926.3,888.3 L929.8,892.2 L933.3,896.0 L936.7,899.9 L940.2,903.8 L943.6,907.6 L947.1,911.5 L950.5,915.4 L953.9,919.3 L957.3,923.2 L960.7,927.1 L964.1,931.0 L967.5,935.0 L970.9,938.9 L974.3,942.8 L977.7,946.8 L981.0,950.7 L984.4,954.7 L987.7,958.6 L991.1,962.6 L994.4,966.6 L997.7,970.5 L1001.0,974.5 L1004.3,978.5 L1007.6,982.5 L1010.9,986.5 L1014.2,990.5 L1017.5,994.6 L1020.8,998.6 L1024.0,1002.6 L1027.3,1006.6 L1030.6,1010.7 L1033.8,1014.7 L1037.0,1018.8 L1040.3,1022.9 L1043.5,1026.9 L1046.7,1031.0 L1049.9,1035.1 L1053.1,1039.2 L1056.3,1043.3 L1059.5,1047.4 L1062.6,1051.5 L1065.8,1055.6 L1069.0,1059.7 L1072.1,1063.9 L1075.3,1068.0 L1078.4,1072.1 L1081.5,1076.3 L1084.7,1080.4 L1087.8,1084.6 L1090.9,1088.8 L1094.0,1092.9 L1097.1,1097.1 L1100.2,1101.3 L1103.2,1105.5 L1106.3,1109.7 L1109.4,1113.9 L1112.4,1118.1 L1115.5,1122.3 L1118.5,1126.6 L1121.5,1130.8 L1124.6,1135.0 L1127.6,1139.3 L1130.6,1143.5 L1133.6,1147.8 L1136.6,1152.0 L1139.6,1156.3 L1142.6,1160.6 L1145.5,1164.9 L1148.5,1169.2 L1151.5,1173.5 L1154.4,1177.8 L1157.4,1182.1 L1160.3,1186.4 L1163.2,1190.7 L1166.1,1195.0 L1169.1,1199.4 L1172.0,1203.7 L1174.9,1208.1 L1177.8,1212.4 L1180.6,1216.8 L1183.5,1221.2 L1186.4,1225.5 L1189.3,1229.9 L1192.1,1234.3 L1195.0,1238.7 L1197.8,1243.1 L1200.6,1247.5 L1203.4,1251.9 L1206.3,1256.3 L1209.1,1260.8 L1211.9,1265.2 L1214.7,1269.6 L1217.5,1274.1 L1220.2,1278.5 L1223.0,1283.0 L1225.8,1287.5 L1228.5,1291.9 L1231.3,1296.4 L1234.0,1300.9 L1236.8,1305.4 L1239.5,1309.9 L1242.2,1314.4 L1244.9,1318.9 L1247.6,1323.4 L1250.3,1327.9 L1253.0,1332.5 L1255.7,1337.0 L1258.4,1341.5" fill="none" stroke="rgba(0,42,78,0.641)" stroke-width="1.30" stroke-linecap="round"/><path d="M157.8,786.6 L157.3,784.9 L156.9,783.2 L156.4,781.6 L155.9,779.9 L155.3,778.3 L154.7,776.6 L154.0,775.0 L153.3,773.4 L152.6,771.9 L151.9,770.3 L151.1,768.8 L150.2,767.2 L149.4,765.7 L148.5,764.2 L147.5,762.8 L146.5,761.3 L145.5,759.9 L144.5,758.5 L143.4,757.2 L142.3,755.8 L141.2,754.5 L140.0,753.2 L138.8,751.9 L137.6,750.7 L136.4,749.5 L135.1,748.3 L133.8,747.2 L132.5,746.1 L131.1,745.0 L129.7,743.9 L128.3,742.9 L126.9,741.9 L125.4,741.0 L124.0,740.0 L122.5,739.2 L121.0,738.3 L119.4,737.5 L117.9,736.7 L116.3,736.0 L114.7,735.3 L113.1,734.6 L111.5,734.0 L109.9,733.4 L108.2,732.8 L106.6,732.3 L104.9,731.8 L103.2,731.4 L101.5,731.0 L99.8,730.6 L98.1,730.3 L96.4,730.0 L94.7,729.8 L92.9,729.6 L91.2,729.4 L89.5,729.3 L87.8,729.2 L86.0,729.2 L84.3,729.2 L82.5,729.2 L80.8,729.3 L79.1,729.4 L77.3,729.6 L75.6,729.8 L73.9,730.1 L72.2,730.3 L70.5,730.7 L68.8,731.0 L67.1,731.4 L65.4,731.9 L63.7,732.4 L62.1,732.9 L60.4,733.4 L58.8,734.0 L57.2,734.7 L55.6,735.4 L54.0,736.1 L52.4,736.8 L50.9,737.6 L49.4,738.4 L47.8,739.3 L46.4,740.2 L44.9,741.1 L43.4,742.0 L42.0,743.0 L40.6,744.1 L39.2,745.1 L37.9,746.2 L36.5,747.3 L35.2,748.5 L34.0,749.7 L32.7,750.9 L31.5,752.1 L30.3,753.4 L29.2,754.7 L28.0,756.0 L26.9,757.3 L25.9,758.7 L24.8,760.1 L23.8,761.5 L22.9,763.0 L21.9,764.4 L21.0,765.9 L20.2,767.4 L19.4,768.9 L18.6,770.5 L17.8,772.1 L17.1,773.6 L16.4,775.2 L15.8,776.8 L15.2,778.5 L14.6,780.1 L14.1,781.8 L13.6,783.4 L13.1,785.1 L12.7,786.8 L12.3,788.5 L12.0,790.2 L11.7,791.9 L11.4,793.6 L11.2,795.4 L11.0,797.1 L10.9,798.8 L10.8,800.5 L10.8,802.3 L10.8,804.0 L10.8,805.8 L10.9,807.5 L11.0,809.2 L11.1,811.0 L11.3,812.7 L11.5,814.4 L11.8,816.1 L12.1,817.8 L12.5,819.5 L12.8,821.2 L13.3,822.9 L13.7,824.6 L14.3,826.2 L14.8,827.9 L15.4,829.5 L16.0,831.2 L16.7,832.8 L17.4,834.3 L18.1,835.9 L18.9,837.5 L19.7,839.0 L20.5,840.5 L21.4,842.0 L22.3,843.5 L23.2,845.0 L24.2,846.4 L25.2,847.8 L26.3,849.2 L27.4,850.6 L28.5,851.9 L29.6,853.2 L30.8,854.5 L32.0,855.8 L33.2,857.0 L34.5,858.2 L35.7,859.4 L37.0,860.5 L38.4,861.6 L39.7,862.7 L41.1,863.7 L42.5,864.7 L44.0,865.7 L45.4,866.7 L46.9,867.6 L48.4,868.4 L49.9,869.3 L51.5,870.1 L53.0,870.9 L54.6,871.6 L56.2,872.3 L57.8,873.0 L59.4,873.6 L61.1,874.2 L62.7,874.7 L64.4,875.2 L66.0,875.7 L67.7,876.1 L69.4,876.5 L71.1,876.8 L72.8,877.2 L74.6,877.4 L76.3,877.6 L78.0,877.8 L79.7,878.0 L81.5,878.1 L83.2,878.2 L84.9,878.2 L86.7,878.2 L88.4,878.1 L90.1,878.0 L91.9,877.9 L93.6,877.7 L95.3,877.5 L97.0,877.3 L98.8,877.0 L100.5,876.6 L102.2,876.3 L103.8,875.8 L105.5,875.4 L107.2,874.9 L108.8,874.4 L110.5,873.8 L112.1,873.2 L113.7,872.5 L115.3,871.9 L116.9,871.1 L118.5,870.4 L120.0,869.6 L121.5,868.8 L123.0,867.9 L124.5,867.0 L126.0,866.1 L127.4,865.1 L128.9,864.1 L130.3,863.1 L131.6,862.0 L133.0,860.9 L134.3,859.8 L135.6,858.6 L136.9,857.4 L138.1,856.2 L139.3,855.0 L140.5,853.7 L141.6,852.4" fill="none" stroke="rgba(0,42,78,0.644)" stroke-width="1.30" stroke-linecap="round"/><path d="M1304.2,1335.2 L1304.0,1330.6 L1303.8,1326.0 L1303.5,1321.4 L1303.3,1316.8 L1303.0,1312.2 L1302.7,1307.6 L1302.4,1303.0 L1302.1,1298.5 L1301.8,1293.9 L1301.5,1289.3 L1301.2,1284.7 L1300.9,1280.2 L1300.5,1275.6 L1300.2,1271.0 L1299.8,1266.5 L1299.4,1261.9 L1299.1,1257.3 L1298.7,1252.8 L1298.3,1248.2 L1297.9,1243.7 L1297.5,1239.1 L1297.0,1234.6 L1296.6,1230.0 L1296.2,1225.5 L1295.7,1221.0 L1295.2,1216.4 L1294.8,1211.9 L1294.3,1207.4 L1293.8,1202.8 L1293.3,1198.3 L1292.8,1193.8 L1292.3,1189.3 L1291.7,1184.7 L1291.2,1180.2 L1290.7,1175.7 L1290.1,1171.2 L1289.5,1166.7 L1289.0,1162.2 L1288.4,1157.7 L1288.0,1154.5" fill="none" stroke="rgba(0,42,78,0.646)" stroke-width="1.30" stroke-linecap="round" stroke-dasharray="7.2 6.5"/><path d="M1288.0,1154.5 L1287.8,1153.2 L1287.2,1148.7 L1286.6,1144.2 L1286.0,1139.7 L1285.3,1135.2 L1284.7,1130.7 L1284.1,1126.2 L1283.4,1121.7 L1282.7,1117.2 L1282.1,1112.8 L1281.4,1108.3 L1280.7,1103.8 L1280.0,1099.3 L1279.3,1094.9 L1278.5,1090.4 L1277.8,1085.9 L1277.1,1081.5 L1276.3,1077.0 L1275.6,1072.6 L1274.8,1068.1 L1274.0,1063.6 L1273.2,1059.2 L1272.4,1054.8 L1271.6,1050.3 L1270.8,1045.9 L1270.0,1041.4 L1269.2,1037.0 L1268.3,1032.5 L1267.5,1028.1 L1266.6,1023.7 L1265.7,1019.3 L1264.9,1014.8 L1264.0,1010.4 L1263.1,1006.0 L1262.2,1001.6 L1261.3,997.1 L1260.3,992.7 L1259.4,988.3 L1258.4,983.9 L1257.5,979.5 L1256.5,975.1 L1255.6,970.7 L1254.6,966.3 L1253.6,961.9 L1252.6,957.5 L1251.6,953.1 L1250.6,948.7 L1249.5,944.3 L1248.5,940.0 L1247.5,935.6 L1246.4,931.2 L1245.3,926.8 L1244.3,922.5 L1243.2,918.1 L1242.1,913.7 L1241.0,909.3 L1239.9,905.0 L1238.8,900.6 L1237.6,896.3 L1236.5,891.9 L1235.3,887.5 L1234.2,883.2 L1233.0,878.8 L1231.8,874.5 L1230.7,870.1 L1229.5,865.8 L1228.3,861.5 L1227.0,857.1 L1225.8,852.8 L1224.6,848.5 L1223.4,844.1 L1222.1,839.8 L1220.8,835.5 L1219.6,831.2 L1218.3,826.8 L1217.0,822.5 L1215.7,818.2 L1214.4,813.9 L1213.1,809.6 L1211.8,805.3 L1210.4,801.0 L1209.1,796.7 L1207.7,792.4 L1206.4,788.1 L1205.0,783.8 L1203.6,779.5 L1202.3,775.2 L1200.9,770.9 L1199.4,766.6 L1198.0,762.3 L1196.6,758.0 L1195.2,753.8 L1193.7,749.5 L1192.3,745.2 L1190.8,740.9 L1189.3,736.7 L1187.9,732.4 L1186.4,728.1 L1184.9,723.9 L1183.4,719.6 L1181.8,715.4 L1180.3,711.1 L1178.8,706.9 L1177.2,702.6 L1175.7,698.4 L1174.1,694.1 L1172.5,689.9 L1171.0,685.6 L1169.4,681.4 L1167.8,677.2 L1166.2,672.9 L1164.5,668.7 L1162.9,664.5 L1161.3,660.2 L1159.6,656.0 L1158.0,651.8 L1156.3,647.6 L1154.6,643.4 L1152.9,639.2 L1151.2,634.9 L1149.5,630.7 L1147.8,626.5 L1146.1,622.3 L1144.4,618.1 L1142.6,613.9 L1140.9,609.7 L1139.1,605.5 L1137.4,601.4 L1135.6,597.2 L1133.8,593.0 L1132.0,588.8 L1130.2,584.6 L1128.4,580.4 L1126.5,576.3 L1124.7,572.1 L1122.9,567.9 L1121.0,563.7 L1119.2,559.6 L1117.3,555.4 L1115.4,551.3 L1113.5,547.1 L1111.6,542.9 L1109.7,538.8 L1107.8,534.6 L1105.9,530.5 L1103.9,526.3 L1102.0,522.2 L1100.0,518.1 L1098.1,513.9 L1096.1,509.8 L1094.1,505.6 L1092.1,501.5 L1090.1,497.4 L1088.1,493.3 L1086.1,489.1 L1084.1,485.0 L1082.0,480.9" fill="none" stroke="rgba(0,42,78,0.646)" stroke-width="1.30" stroke-linecap="round"/><path d="M1549.6,591.6 L1549.6,595.6 L1549.5,599.5 L1549.3,603.5 L1549.2,607.4 L1549.1,611.4 L1549.0,615.3 L1548.8,619.2 L1548.7,623.2 L1548.5,627.1 L1548.3,631.1 L1548.2,635.0 L1548.0,638.9 L1547.8,642.8 L1547.6,646.8 L1547.3,650.7 L1547.1,654.6 L1546.9,658.5 L1546.6,662.4 L1546.4,666.3 L1546.1,670.2 L1545.9,674.2 L1545.6,678.1 L1545.3,682.0 L1545.0,685.9 L1544.7,689.8 L1544.4,693.7 L1544.1,697.5 L1543.7,701.4 L1543.4,705.3 L1543.0,709.2 L1542.7,713.1 L1542.3,717.0 L1541.9,720.9 L1541.5,724.7 L1541.1,728.6 L1540.7,732.5 L1540.3,736.3 L1539.9,740.2 L1539.5,744.1 L1539.2,746.5" fill="none" stroke="rgba(0,42,78,0.656)" stroke-width="1.30" stroke-linecap="round" stroke-dasharray="7.2 6.5"/><path d="M1539.2,746.5 L1539.0,747.9 L1538.6,751.8 L1538.1,755.6 L1537.7,759.5 L1537.2,763.4 L1536.7,767.2 L1536.2,771.1 L1535.7,774.9 L1535.2,778.7 L1534.7,782.6 L1534.1,786.4 L1533.6,790.3 L1533.0,794.1 L1532.5,797.9 L1531.9,801.7 L1531.3,805.6 L1530.8,809.4 L1530.2,813.2 L1529.6,817.0 L1529.0,820.8 L1528.3,824.7 L1527.7,828.5 L1527.1,832.3 L1526.4,836.1 L1525.8,839.9 L1525.1,843.7 L1524.4,847.5 L1523.7,851.3 L1523.1,855.1 L1522.3,858.9 L1521.6,862.7 L1520.9,866.5 L1520.2,870.2 L1519.5,874.0 L1518.7,877.8 L1518.0,881.6 L1517.2,885.4 L1516.4,889.1 L1515.6,892.9 L1514.8,896.7 L1514.0,900.4 L1513.2,904.2 L1512.4,908.0 L1511.6,911.7 L1510.8,915.5 L1509.9,919.2 L1509.1,923.0 L1508.2,926.7 L1507.3,930.5 L1506.4,934.2 L1505.6,938.0 L1504.7,941.7 L1503.7,945.5 L1502.8,949.2 L1501.9,952.9 L1501.0,956.7 L1500.0,960.4 L1499.1,964.1 L1498.1,967.8 L1497.1,971.6 L1496.2,975.3 L1495.2,979.0 L1494.2,982.7 L1493.2,986.4 L1492.2,990.1 L1491.1,993.8 L1490.1,997.5 L1489.1,1001.2 L1488.0,1004.9 L1486.9,1008.6 L1485.9,1012.3 L1484.8,1016.0 L1483.7,1019.7 L1482.6,1023.4 L1481.5,1027.1 L1480.4,1030.8 L1479.3,1034.5 L1478.1,1038.1 L1477.0,1041.8 L1475.8,1045.5 L1474.7,1049.2 L1473.5,1052.8 L1472.3,1056.5 L1471.2,1060.2 L1470.0,1063.8 L1468.8,1067.5 L1467.5,1071.1 L1466.3,1074.8 L1465.1,1078.4 L1463.9,1082.1 L1462.6,1085.7 L1461.3,1089.4 L1460.1,1093.0 L1458.8,1096.7 L1457.5,1100.3 L1456.2,1103.9 L1454.9,1107.6 L1453.6,1111.2 L1452.3,1114.8 L1451.0,1118.5 L1449.6,1122.1 L1448.3,1125.7 L1446.9,1129.3 L1445.6,1132.9 L1444.2,1136.6 L1442.8,1140.2 L1441.4,1143.8 L1440.0,1147.4 L1438.6,1151.0 L1437.2,1154.6 L1435.7,1158.2 L1434.3,1161.8 L1432.9,1165.4 L1431.4,1169.0 L1429.9,1172.6 L1428.5,1176.2 L1427.0,1179.7 L1425.5,1183.3 L1424.0,1186.9 L1422.5,1190.5 L1421.0,1194.1 L1419.4,1197.6 L1417.9,1201.2 L1416.4,1204.8 L1414.8,1208.3 L1413.2,1211.9 L1411.7,1215.5 L1410.1,1219.0 L1408.5,1222.6 L1406.9,1226.1 L1405.3,1229.7 L1403.7,1233.2 L1402.0,1236.8 L1400.4,1240.3 L1398.8,1243.9 L1397.1,1247.4 L1395.4,1251.0 L1393.8,1254.5 L1392.1,1258.0 L1390.4,1261.6 L1388.7,1265.1 L1387.0,1268.6 L1385.3,1272.1 L1383.6,1275.7 L1381.8,1279.2 L1380.1,1282.7 L1378.3,1286.2 L1376.6,1289.7 L1374.8,1293.2 L1373.0,1296.7 L1371.2,1300.2 L1369.4,1303.7 L1367.6,1307.2 L1365.8,1310.7 L1364.0,1314.2 L1362.2,1317.7" fill="none" stroke="rgba(0,42,78,0.656)" stroke-width="1.30" stroke-linecap="round"/><path d="M708.2,1355.2 L705.6,1353.5 L702.9,1351.7 L700.2,1350.0 L697.6,1348.3 L694.9,1346.5 L692.3,1344.8 L689.7,1343.0 L687.0,1341.2 L684.4,1339.5 L681.8,1337.7 L679.2,1335.9 L676.6,1334.1 L674.0,1332.3 L671.4,1330.5 L668.9,1328.7 L666.3,1326.9 L663.7,1325.1 L661.2,1323.3 L658.6,1321.4 L656.1,1319.6 L653.5,1317.7 L651.0,1315.9 L648.5,1314.0 L646.0,1312.2 L643.4,1310.3 L640.9,1308.4 L638.4,1306.6 L636.0,1304.7 L633.5,1302.8 L631.0,1300.9 L628.5,1299.0 L626.1,1297.1 L623.6,1295.2 L621.2,1293.3 L618.7,1291.3 L616.3,1289.4 L613.8,1287.5 L611.4,1285.5 L609.0,1283.6 L607.9,1282.7" fill="none" stroke="rgba(0,42,78,0.658)" stroke-width="1.30" stroke-linecap="round" stroke-dasharray="7.2 6.5"/><path d="M607.9,1282.7 L606.6,1281.6 L604.2,1279.7 L601.8,1277.7 L599.4,1275.7 L597.0,1273.8 L594.7,1271.8 L592.3,1269.8 L589.9,1267.8 L587.6,1265.8 L585.2,1263.8 L582.9,1261.8 L580.5,1259.7 L578.2,1257.7 L575.9,1255.7 L573.6,1253.7 L571.3,1251.6 L569.0,1249.6 L566.7,1247.5 L564.4,1245.5 L562.1,1243.4 L559.8,1241.3 L557.6,1239.2 L555.3,1237.2 L553.1,1235.1 L550.8,1233.0 L548.6,1230.9 L546.3,1228.8 L544.1,1226.7 L541.9,1224.5 L539.7,1222.4 L537.5,1220.3 L535.3,1218.2 L533.1,1216.0 L530.9,1213.9 L528.7,1211.7 L526.5,1209.6 L524.4,1207.4 L522.2,1205.2 L520.1,1203.0 L517.9,1200.9 L515.8,1198.7 L513.7,1196.5 L511.5,1194.3 L509.4,1192.1 L507.3,1189.9 L505.2,1187.6 L503.1,1185.4 L501.0,1183.2 L498.9,1181.0 L496.8,1178.7 L494.8,1176.5 L492.7,1174.2 L490.6,1172.0 L488.6,1169.7 L486.6,1167.4 L484.5,1165.2 L482.5,1162.9 L480.5,1160.6 L478.4,1158.3 L476.4,1156.0 L474.4,1153.7 L472.4,1151.4 L470.4,1149.1 L468.5,1146.7 L466.5,1144.4 L464.5,1142.1 L462.5,1139.7 L460.6,1137.4 L458.6,1135.0 L456.7,1132.7 L454.8,1130.3 L452.8,1127.9 L450.9,1125.6 L449.0,1123.2 L447.1,1120.8 L445.2,1118.4 L443.3,1116.0 L441.4,1113.6 L439.5,1111.2 L437.6,1108.8 L435.8,1106.4 L433.9,1103.9 L432.1,1101.5 L430.2,1099.0 L428.4,1096.6 L426.5,1094.2 L424.7,1091.7 L422.9,1089.2 L421.1,1086.8 L419.3,1084.3 L417.5,1081.8 L415.7,1079.3 L413.9,1076.8 L412.1,1074.3 L410.3,1071.8 L408.6,1069.3 L406.8,1066.8 L405.1,1064.3 L403.3,1061.7 L401.6,1059.2 L399.8,1056.7 L398.1,1054.1 L396.4,1051.6 L394.7,1049.0 L393.0,1046.5 L391.3,1043.9 L389.6,1041.3 L387.9,1038.7 L386.2,1036.1 L384.5,1033.6 L382.9,1031.0 L381.2,1028.4 L379.6,1025.7 L377.9,1023.1 L376.3,1020.5 L374.6,1017.9 L373.0,1015.2 L371.4,1012.6 L369.8,1010.0 L368.2,1007.3 L366.6,1004.7 L365.0,1002.0 L363.4,999.3 L361.8,996.7 L360.3,994.0 L358.7,991.3 L357.1,988.6 L355.6,985.9 L354.0,983.2 L352.5,980.5 L351.0,977.8 L349.5,975.0 L347.9,972.3 L346.4,969.6 L344.9,966.9 L343.4,964.1 L341.9,961.4 L340.5,958.6 L339.0,955.8 L337.5,953.1 L336.0,950.3 L334.6,947.5 L333.1,944.7 L331.7,941.9 L330.3,939.1 L328.8,936.3 L327.4,933.5 L326.0,930.7 L324.6,927.9 L323.2,925.1 L321.8,922.2 L320.4,919.4 L319.0,916.6 L317.6,913.7 L316.3,910.8" fill="none" stroke="rgba(0,42,78,0.658)" stroke-width="1.30" stroke-linecap="round"/><path d="M1346.2,1520.3 L1345.2,1521.7 L1344.1,1523.0 L1343.1,1524.4 L1342.2,1525.8 L1341.2,1527.3 L1340.3,1528.7 L1339.5,1530.2 L1338.6,1531.7 L1337.8,1533.2 L1337.1,1534.7 L1336.4,1536.2 L1335.7,1537.8 L1335.0,1539.4 L1334.4,1541.0 L1333.8,1542.6 L1333.3,1544.2 L1332.8,1545.8 L1332.3,1547.4 L1331.8,1549.1 L1331.5,1550.7 L1331.1,1552.4 L1330.8,1554.1 L1330.5,1555.8 L1330.3,1557.5 L1330.0,1559.1 L1329.9,1560.8 L1329.8,1562.5 L1329.7,1564.2 L1329.6,1566.0 L1329.6,1567.7 L1329.6,1569.4 L1329.7,1571.1 L1329.8,1572.8 L1330.0,1574.5 L1330.1,1576.2 L1330.4,1577.8 L1330.6,1579.5 L1330.9,1581.2 L1331.3,1582.9 L1331.6,1584.5 L1332.1,1586.2 L1332.5,1587.8 L1333.0,1589.5 L1333.5,1591.1 L1334.1,1592.7 L1334.7,1594.3 L1335.3,1595.9 L1336.0,1597.4 L1336.7,1599.0 L1337.5,1600.5 L1338.2,1602.0 L1339.0,1603.5 L1339.9,1605.0 L1340.8,1606.5 L1341.7,1607.9 L1342.6,1609.3 L1343.6,1610.7 L1344.6,1612.1 L1345.7,1613.5 L1346.7,1614.8 L1347.8,1616.1 L1349.0,1617.4 L1350.1,1618.6 L1351.3,1619.8 L1352.5,1621.0 L1353.8,1622.2 L1355.1,1623.3 L1356.4,1624.4 L1357.7,1625.5 L1359.0,1626.5 L1360.4,1627.6 L1361.8,1628.5 L1363.2,1629.5 L1364.6,1630.4 L1366.1,1631.3 L1367.6,1632.2 L1369.1,1633.0 L1370.6,1633.8 L1372.1,1634.5 L1373.7,1635.2 L1375.2,1635.9 L1376.8,1636.6 L1378.4,1637.2 L1380.0,1637.7 L1381.6,1638.3 L1383.2,1638.8 L1384.9,1639.2 L1386.5,1639.6 L1388.2,1640.0 L1389.9,1640.4 L1391.5,1640.7 L1393.2,1640.9 L1394.9,1641.2 L1396.6,1641.4 L1398.3,1641.5 L1400.0,1641.6 L1401.7,1641.7 L1403.4,1641.7 L1405.1,1641.7 L1406.8,1641.7 L1408.5,1641.6 L1410.2,1641.5 L1411.9,1641.3 L1413.6,1641.1 L1415.3,1640.9 L1417.0,1640.6 L1418.7,1640.3 L1420.3,1639.9 L1422.0,1639.6 L1423.6,1639.1 L1425.3,1638.7 L1426.9,1638.2 L1428.5,1637.6 L1430.1,1637.0 L1431.7,1636.4 L1433.3,1635.8 L1434.9,1635.1 L1436.4,1634.4 L1437.9,1633.6 L1439.4,1632.8 L1440.9,1632.0 L1442.4,1631.1 L1443.9,1630.2 L1445.3,1629.3 L1446.7,1628.4 L1448.1,1627.4 L1449.4,1626.3 L1450.8,1625.3 L1452.1,1624.2 L1453.4,1623.1 L1454.7,1622.0 L1455.9,1620.8 L1457.1,1619.6 L1458.3,1618.4 L1459.5,1617.1 L1460.6,1615.8 L1461.7,1614.5 L1462.7,1613.2 L1463.8,1611.8 L1464.8,1610.5 L1465.8,1609.1 L1466.7,1607.6 L1467.6,1606.2 L1468.5,1604.7 L1469.3,1603.3 L1470.1,1601.8 L1470.9,1600.2 L1471.6,1598.7 L1472.3,1597.1 L1473.0,1595.6 L1473.6,1594.0 L1474.2,1592.4 L1474.8,1590.8 L1475.3,1589.2 L1475.8,1587.5 L1476.2,1585.9 L1476.6,1584.2 L1477.0,1582.6 L1477.3,1580.9 L1477.6,1579.2 L1477.9,1577.5 L1478.1,1575.8 L1478.3,1574.1 L1478.4,1572.4 L1478.5,1570.7 L1478.6,1569.0 L1478.6,1567.3 L1478.6,1565.6 L1478.5,1563.9 L1478.4,1562.2 L1478.3,1560.5 L1478.1,1558.8 L1477.9,1557.1 L1477.7,1555.4 L1477.4,1553.8 L1477.0,1552.1 L1476.7,1550.4 L1476.3,1548.8 L1475.8,1547.1 L1475.4,1545.5 L1474.8,1543.9 L1474.3,1542.3 L1473.7,1540.7 L1473.1,1539.1 L1472.4,1537.5 L1471.7,1535.9 L1471.0,1534.4 L1470.2,1532.9 L1469.4,1531.4 L1468.6,1529.9 L1467.7,1528.4 L1466.8,1527.0 L1465.9,1525.6 L1464.9,1524.2 L1463.9,1522.8 L1462.9,1521.4 L1461.8,1520.1 L1460.7,1518.8 L1459.6,1517.5 L1458.4,1516.2 L1457.2,1515.0 L1456.0,1513.8 L1454.8,1512.6 L1453.5,1511.5 L1452.2,1510.4 L1450.9,1509.3 L1449.6,1508.2 L1448.2,1507.2 L1446.8,1506.2 L1445.4,1505.3 L1444.0,1504.3 L1442.6,1503.4 L1441.1,1502.6 L1439.6,1501.7 L1438.1,1500.9 L1436.6,1500.2 L1435.0,1499.5 L1433.5,1498.8 L1431.9,1498.1 L1430.3,1497.5 L1428.7,1496.9 L1427.1,1496.4 L1425.5,1495.9 L1423.8,1495.4 L1422.2,1495.0 L1420.5,1494.6 L1418.8,1494.2 L1417.2,1493.9 L1415.5,1493.6" fill="none" stroke="rgba(0,42,78,0.662)" stroke-width="1.30" stroke-linecap="round"/><path d="M617.4,522.2 L622.9,524.5 L628.3,526.9 L633.8,529.2 L639.3,531.6 L644.8,533.9 L650.3,536.2 L655.8,538.6 L661.3,540.9 L666.8,543.2 L672.3,545.4 L677.8,547.7 L683.3,550.0 L688.8,552.2 L694.3,554.5 L699.8,556.7 L705.3,558.9 L710.8,561.1 L716.3,563.3 L721.9,565.5 L727.4,567.7 L732.9,569.9 L738.4,572.0 L744.0,574.2 L749.5,576.3 L755.0,578.5 L760.6,580.6 L766.1,582.7 L771.7,584.8 L777.2,586.9 L782.7,589.0 L788.3,591.1 L793.9,593.1 L799.4,595.2 L805.0,597.2 L810.5,599.3 L816.1,601.3 L821.6,603.3 L827.2,605.3 L832.8,607.3 L837.3,608.9" fill="none" stroke="rgba(0,42,78,0.668)" stroke-width="1.30" stroke-linecap="round" stroke-dasharray="7.2 6.5"/><path d="M837.3,608.9 L838.4,609.3 L843.9,611.3 L849.5,613.2 L855.1,615.2 L860.7,617.1 L866.2,619.1 L871.8,621.0 L877.4,622.9 L883.0,624.8 L888.6,626.7 L894.2,628.6 L899.8,630.5 L905.4,632.3 L911.0,634.2 L916.6,636.1 L922.2,637.9 L927.8,639.7 L933.4,641.5 L939.0,643.3 L944.7,645.1 L950.3,646.9 L955.9,648.7 L961.5,650.5 L967.2,652.2 L972.8,654.0 L978.4,655.7 L984.0,657.4 L989.7,659.2 L995.3,660.9 L1001.0,662.6 L1006.6,664.3 L1012.3,665.9 L1017.9,667.6 L1023.6,669.3 L1029.2,670.9 L1034.9,672.5 L1040.5,674.2 L1046.2,675.8 L1051.8,677.4 L1057.5,679.0 L1063.2,680.6 L1068.8,682.2 L1074.5,683.7 L1080.2,685.3 L1085.9,686.8 L1091.5,688.4 L1097.2,689.9 L1102.9,691.4 L1108.6,692.9 L1114.3,694.4 L1120.0,695.9 L1125.7,697.4 L1131.4,698.9 L1137.1,700.3 L1142.8,701.8 L1148.5,703.2 L1154.2,704.7 L1159.9,706.1 L1165.6,707.5 L1171.3,708.9 L1177.0,710.3 L1182.7,711.7 L1188.5,713.0 L1194.2,714.4 L1199.9,715.8 L1205.6,717.1 L1211.4,718.4 L1217.1,719.8 L1222.8,721.1 L1228.6,722.4 L1234.3,723.7 L1240.0,724.9 L1245.8,726.2 L1251.5,727.5 L1257.3,728.7 L1263.0,730.0 L1268.8,731.2 L1274.5,732.4 L1280.3,733.6 L1286.1,734.8 L1291.8,736.0 L1297.6,737.2 L1303.4,738.4 L1309.1,739.6 L1314.9,740.7 L1320.7,741.9 L1326.5,743.0 L1332.2,744.1 L1338.0,745.2 L1343.8,746.3 L1349.6,747.4 L1355.4,748.5 L1361.2,749.6 L1367.0,750.6 L1372.8,751.7 L1378.6,752.7 L1384.4,753.8 L1390.2,754.8 L1396.0,755.8 L1401.8,756.8 L1407.6,757.8 L1413.4,758.8 L1419.2,759.8 L1425.1,760.7 L1430.9,761.7 L1436.7,762.6 L1442.5,763.6 L1448.3,764.5 L1454.2,765.4 L1460.0,766.3 L1465.8,767.2 L1471.7,768.1 L1477.5,769.0 L1483.4,769.9 L1489.2,770.7 L1495.1,771.6 L1500.9,772.4 L1506.8,773.2 L1512.6,774.0 L1518.5,774.8 L1524.3,775.6 L1530.2,776.4 L1536.1,777.2 L1541.9,778.0 L1547.8,778.7 L1553.7,779.5 L1559.5,780.2 L1565.4,780.9 L1571.3,781.7 L1577.2,782.4 L1583.1,783.1 L1588.9,783.8 L1594.8,784.4 L1600.7,785.1 L1606.6,785.8 L1612.5,786.4 L1618.4,787.1 L1624.3,787.7 L1630.2,788.3 L1636.1,788.9 L1642.0,789.5 L1647.9,790.1 L1653.8,790.7 L1659.8,791.2 L1665.7,791.8 L1671.6,792.4 L1677.5,792.9 L1683.4,793.4 L1689.4,793.9 L1695.3,794.5 L1701.2,795.0 L1707.2,795.4 L1713.1,795.9 L1719.0,796.4 L1725.0,796.9 L1730.9,797.3 L1736.9,797.7 L1742.8,798.2" fill="none" stroke="rgba(0,42,78,0.668)" stroke-width="1.30" stroke-linecap="round"/><path d="M1946.9,836.5 L1947.6,838.0 L1948.5,839.6 L1949.3,841.1 L1950.2,842.6 L1951.1,844.1 L1952.1,845.5 L1953.1,846.9 L1954.1,848.3 L1955.2,849.7 L1956.2,851.1 L1957.4,852.4 L1958.5,853.7 L1959.7,855.0 L1960.9,856.2 L1962.1,857.4 L1963.4,858.6 L1964.7,859.8 L1966.0,860.9 L1967.4,862.0 L1968.7,863.1 L1970.1,864.1 L1971.6,865.1 L1973.0,866.1 L1974.5,867.0 L1976.0,867.9 L1977.5,868.8 L1979.0,869.6 L1980.5,870.4 L1982.1,871.1 L1983.7,871.9 L1985.3,872.5 L1986.9,873.2 L1988.5,873.8 L1990.2,874.4 L1991.8,874.9 L1993.5,875.4 L1995.2,875.8 L1996.8,876.3 L1998.5,876.6 L2000.2,877.0 L2002.0,877.3 L2003.7,877.5 L2005.4,877.7 L2007.1,877.9 L2008.9,878.0 L2010.6,878.1 L2012.3,878.2 L2014.1,878.2 L2015.8,878.2 L2017.5,878.1 L2019.3,878.0 L2021.0,877.8 L2022.7,877.6 L2024.4,877.4 L2026.2,877.2 L2027.9,876.8 L2029.6,876.5 L2031.3,876.1 L2033.0,875.7 L2034.6,875.2 L2036.3,874.7 L2037.9,874.2 L2039.6,873.6 L2041.2,873.0 L2042.8,872.3 L2044.4,871.6 L2046.0,870.9 L2047.5,870.1 L2049.1,869.3 L2050.6,868.4 L2052.1,867.6 L2053.6,866.7 L2055.0,865.7 L2056.5,864.7 L2057.9,863.7 L2059.3,862.7 L2060.6,861.6 L2062.0,860.5 L2063.3,859.4 L2064.5,858.2 L2065.8,857.0 L2067.0,855.8 L2068.2,854.5 L2069.4,853.2 L2070.5,851.9 L2071.6,850.6 L2072.7,849.2 L2073.8,847.8 L2074.8,846.4 L2075.8,845.0 L2076.7,843.5 L2077.6,842.0 L2078.5,840.5 L2079.3,839.0 L2080.1,837.5 L2080.9,835.9 L2081.6,834.3 L2082.3,832.8 L2083.0,831.2 L2083.6,829.5 L2084.2,827.9 L2084.7,826.2 L2085.3,824.6 L2085.7,822.9 L2086.2,821.2 L2086.5,819.5 L2086.9,817.8 L2087.2,816.1 L2087.5,814.4 L2087.7,812.7 L2087.9,811.0 L2088.0,809.2 L2088.1,807.5 L2088.2,805.8 L2088.2,804.0 L2088.2,802.3 L2088.2,800.5 L2088.1,798.8 L2088.0,797.1 L2087.8,795.4 L2087.6,793.6 L2087.3,791.9 L2087.0,790.2 L2086.7,788.5 L2086.3,786.8 L2085.9,785.1 L2085.4,783.4 L2084.9,781.8 L2084.4,780.1 L2083.8,778.5 L2083.2,776.8 L2082.6,775.2 L2081.9,773.6 L2081.2,772.1 L2080.4,770.5 L2079.6,768.9 L2078.8,767.4 L2078.0,765.9 L2077.1,764.4 L2076.1,763.0 L2075.2,761.5 L2074.2,760.1 L2073.1,758.7 L2072.1,757.3 L2071.0,756.0 L2069.8,754.7 L2068.7,753.4 L2067.5,752.1 L2066.3,750.9 L2065.0,749.7 L2063.8,748.5 L2062.5,747.3 L2061.1,746.2 L2059.8,745.1 L2058.4,744.1 L2057.0,743.0 L2055.6,742.0 L2054.1,741.1 L2052.6,740.2 L2051.2,739.3 L2049.6,738.4 L2048.1,737.6 L2046.6,736.8 L2045.0,736.1 L2043.4,735.4 L2041.8,734.7 L2040.2,734.0 L2038.6,733.4 L2036.9,732.9 L2035.3,732.4 L2033.6,731.9 L2031.9,731.4 L2030.2,731.0 L2028.5,730.7 L2026.8,730.3 L2025.1,730.1 L2023.4,729.8 L2021.7,729.6 L2019.9,729.4 L2018.2,729.3 L2016.5,729.2 L2014.7,729.2 L2013.0,729.2 L2011.2,729.2 L2009.5,729.3 L2007.8,729.4 L2006.1,729.6 L2004.3,729.8 L2002.6,730.0 L2000.9,730.3 L1999.2,730.6 L1997.5,731.0 L1995.8,731.4 L1994.1,731.8 L1992.4,732.3 L1990.8,732.8 L1989.1,733.4 L1987.5,734.0 L1985.9,734.6 L1984.3,735.3 L1982.7,736.0 L1981.1,736.7 L1979.6,737.5 L1978.0,738.3 L1976.5,739.2 L1975.0,740.0 L1973.6,741.0 L1972.1,741.9 L1970.7,742.9 L1969.3,743.9 L1967.9,745.0 L1966.5,746.1 L1965.2,747.2 L1963.9,748.3 L1962.6,749.5 L1961.4,750.7 L1960.2,751.9 L1959.0,753.2 L1957.8,754.5 L1956.7,755.8 L1955.6,757.2 L1954.5,758.5 L1953.5,759.9 L1952.5,761.3 L1951.5,762.8 L1950.5,764.2 L1949.6,765.7 L1948.8,767.2 L1947.9,768.8" fill="none" stroke="rgba(0,42,78,0.675)" stroke-width="1.30" stroke-linecap="round"/><path d="M1758.0,821.8 L1750.9,820.7 L1743.8,819.7 L1736.7,818.6 L1729.7,817.6 L1722.6,816.6 L1715.5,815.6 L1708.4,814.6 L1701.3,813.6 L1694.2,812.6 L1687.2,811.6 L1680.1,810.7 L1673.0,809.7 L1665.9,808.8 L1658.8,807.8 L1651.7,806.9 L1644.6,806.0 L1637.6,805.1 L1630.5,804.2 L1623.4,803.4 L1616.3,802.5 L1609.2,801.7 L1602.1,800.8 L1595.0,800.0 L1588.0,799.2 L1580.9,798.4 L1573.8,797.6 L1566.7,796.8 L1559.6,796.0 L1552.5,795.2 L1545.4,794.5 L1538.4,793.7 L1531.3,793.0 L1524.2,792.3 L1517.1,791.6 L1510.0,790.9 L1502.9,790.2 L1495.9,789.5 L1488.8,788.8 L1481.7,788.2 L1475.6,787.6" fill="none" stroke="rgba(0,42,78,0.696)" stroke-width="1.30" stroke-linecap="round" stroke-dasharray="7.2 6.5"/><path d="M1475.6,787.6 L1474.6,787.5 L1467.5,786.9 L1460.4,786.2 L1453.3,785.6 L1446.3,785.0 L1439.2,784.4 L1432.1,783.8 L1425.0,783.3 L1417.9,782.7 L1410.8,782.1 L1403.8,781.6 L1396.7,781.1 L1389.6,780.6 L1382.5,780.0 L1375.4,779.5 L1368.3,779.1 L1361.2,778.6 L1354.2,778.1 L1347.1,777.7 L1340.0,777.2 L1332.9,776.8 L1325.8,776.4 L1318.7,775.9 L1311.6,775.5 L1304.6,775.2 L1297.5,774.8 L1290.4,774.4 L1283.3,774.0 L1276.2,773.7 L1269.1,773.4 L1262.1,773.0 L1255.0,772.7 L1247.9,772.4 L1240.8,772.1 L1233.7,771.8 L1226.6,771.6 L1219.5,771.3 L1212.5,771.0 L1205.4,770.8 L1198.3,770.6 L1191.2,770.4 L1184.1,770.1 L1177.0,769.9 L1169.9,769.8 L1162.9,769.6 L1155.8,769.4 L1148.7,769.3 L1141.6,769.1 L1134.5,769.0 L1127.4,768.9 L1120.4,768.7 L1113.3,768.6 L1106.2,768.6 L1099.1,768.5 L1092.0,768.4 L1084.9,768.3 L1077.8,768.3 L1070.8,768.3 L1063.7,768.2 L1056.6,768.2 L1049.5,768.2 L1042.4,768.2 L1035.3,768.2 L1028.2,768.3 L1021.2,768.3 L1014.1,768.3 L1007.0,768.4 L999.9,768.5 L992.8,768.6 L985.7,768.6 L978.6,768.7 L971.6,768.9 L964.5,769.0 L957.4,769.1 L950.3,769.3 L943.2,769.4 L936.1,769.6 L929.1,769.8 L922.0,769.9 L914.9,770.1 L907.8,770.4 L900.7,770.6 L893.6,770.8 L886.5,771.0 L879.5,771.3 L872.4,771.6 L865.3,771.8 L858.2,772.1 L851.1,772.4 L844.0,772.7 L836.9,773.0 L829.9,773.4 L822.8,773.7 L815.7,774.0 L808.6,774.4 L801.5,774.8 L794.4,775.2 L787.4,775.5 L780.3,775.9 L773.2,776.4 L766.1,776.8 L759.0,777.2 L751.9,777.7 L744.8,778.1 L737.8,778.6 L730.7,779.1 L723.6,779.5 L716.5,780.0 L709.4,780.6 L702.3,781.1 L695.2,781.6 L688.2,782.1 L681.1,782.7 L674.0,783.3 L666.9,783.8 L659.8,784.4 L652.7,785.0 L645.7,785.6 L638.6,786.2 L631.5,786.9 L624.4,787.5 L617.3,788.2 L610.2,788.8 L603.1,789.5 L596.1,790.2 L589.0,790.9 L581.9,791.6 L574.8,792.3 L567.7,793.0 L560.6,793.7 L553.5,794.5 L546.5,795.2 L539.4,796.0 L532.3,796.8 L525.2,797.6 L518.1,798.4 L511.0,799.2 L504.0,800.0 L496.9,800.8 L489.8,801.7 L482.7,802.5 L475.6,803.4 L468.5,804.2 L461.4,805.1 L454.4,806.0 L447.3,806.9 L440.2,807.8 L433.1,808.8 L426.0,809.7 L418.9,810.7 L411.8,811.6 L404.8,812.6 L397.7,813.6 L390.6,814.6 L383.5,815.6 L376.4,816.6 L369.3,817.6 L362.3,818.6 L355.2,819.7" fill="none" stroke="rgba(0,42,78,0.696)" stroke-width="1.30" stroke-linecap="round"/><path d="M1481.6,522.2 L1475.7,522.6 L1469.7,523.0 L1463.8,523.4 L1457.8,523.8 L1451.9,524.3 L1445.9,524.7 L1440.0,525.2 L1434.0,525.7 L1428.1,526.1 L1422.2,526.6 L1416.2,527.1 L1410.3,527.6 L1404.4,528.2 L1398.5,528.7 L1392.5,529.2 L1386.6,529.8 L1380.7,530.3 L1374.8,530.9 L1368.9,531.5 L1363.0,532.1 L1357.1,532.7 L1351.2,533.3 L1345.3,533.9 L1339.4,534.5 L1333.5,535.2 L1327.6,535.8 L1321.7,536.5 L1315.8,537.1 L1309.9,537.8 L1304.0,538.5 L1298.1,539.2 L1292.2,539.9 L1286.4,540.6 L1280.5,541.4 L1274.6,542.1 L1268.7,542.8 L1262.9,543.6 L1257.0,544.4 L1251.1,545.1 L1246.4,545.8" fill="none" stroke="rgba(0,42,78,0.697)" stroke-width="1.30" stroke-linecap="round" stroke-dasharray="7.2 6.5"/><path d="M1246.4,545.8 L1245.3,545.9 L1239.4,546.7 L1233.6,547.5 L1227.7,548.4 L1221.9,549.2 L1216.0,550.0 L1210.2,550.9 L1204.3,551.7 L1198.5,552.6 L1192.6,553.5 L1186.8,554.3 L1181.0,555.2 L1175.1,556.1 L1169.3,557.1 L1163.5,558.0 L1157.6,558.9 L1151.8,559.9 L1146.0,560.8 L1140.2,561.8 L1134.4,562.8 L1128.5,563.8 L1122.7,564.7 L1116.9,565.8 L1111.1,566.8 L1105.3,567.8 L1099.5,568.8 L1093.7,569.9 L1087.9,570.9 L1082.1,572.0 L1076.3,573.1 L1070.5,574.1 L1064.8,575.2 L1059.0,576.3 L1053.2,577.5 L1047.4,578.6 L1041.6,579.7 L1035.9,580.9 L1030.1,582.0 L1024.3,583.2 L1018.5,584.4 L1012.8,585.5 L1007.0,586.7 L1001.3,587.9 L995.5,589.1 L989.7,590.4 L984.0,591.6 L978.2,592.8 L972.5,594.1 L966.7,595.4 L961.0,596.6 L955.3,597.9 L949.5,599.2 L943.8,600.5 L938.0,601.8 L932.3,603.1 L926.6,604.5 L920.9,605.8 L915.1,607.2 L909.4,608.5 L903.7,609.9 L898.0,611.3 L892.3,612.7 L886.5,614.1 L880.8,615.5 L875.1,616.9 L869.4,618.3 L863.7,619.8 L858.0,621.2 L852.3,622.7 L846.6,624.2 L840.9,625.6 L835.2,627.1 L829.5,628.6 L823.9,630.1 L818.2,631.7 L812.5,633.2 L806.8,634.7 L801.1,636.3 L795.5,637.8 L789.8,639.4 L784.1,641.0 L778.5,642.6 L772.8,644.2 L767.1,645.8 L761.5,647.4 L755.8,649.0 L750.2,650.7 L744.5,652.3 L738.8,654.0 L733.2,655.6 L727.6,657.3 L721.9,659.0 L716.3,660.7 L710.6,662.4 L705.0,664.1 L699.4,665.9 L693.7,667.6 L688.1,669.3 L682.5,671.1 L676.9,672.9 L671.2,674.7 L665.6,676.4 L660.0,678.2 L654.4,680.0 L648.8,681.9 L643.2,683.7 L637.6,685.5 L631.9,687.4 L626.3,689.2 L620.7,691.1 L615.1,693.0 L609.5,694.9 L604.0,696.8 L598.4,698.7 L592.8,700.6 L587.2,702.5 L581.6,704.4 L576.0,706.4 L570.5,708.3 L564.9,710.3 L559.3,712.3 L553.7,714.3 L548.2,716.3 L542.6,718.3 L537.0,720.3 L531.5,722.3 L525.9,724.3 L520.4,726.4 L514.8,728.4 L509.2,730.5 L503.7,732.6 L498.1,734.7 L492.6,736.8 L487.1,738.9 L481.5,741.0 L476.0,743.1 L470.4,745.2 L464.9,747.4 L459.4,749.5 L453.9,751.7 L448.3,753.9 L442.8,756.0 L437.3,758.2 L431.8,760.4 L426.3,762.7 L420.7,764.9 L415.2,767.1 L409.7,769.4 L404.2,771.6 L398.7,773.9 L393.2,776.1 L387.7,778.4 L382.2,780.7 L376.7,783.0 L371.2,785.3 L365.7,787.7 L360.2,790.0 L354.8,792.3" fill="none" stroke="rgba(0,42,78,0.697)" stroke-width="1.30" stroke-linecap="round"/><path d="M1132.4,419.0 L1135.6,420.7 L1138.8,422.5 L1142.0,424.3 L1145.2,426.1 L1148.4,427.9 L1151.6,429.7 L1154.7,431.4 L1157.9,433.2 L1161.1,435.0 L1164.3,436.8 L1167.5,438.6 L1170.7,440.3 L1173.9,442.1 L1177.1,443.9 L1180.2,445.7 L1183.4,447.5 L1186.6,449.3 L1189.8,451.0 L1193.0,452.8 L1196.2,454.6 L1199.4,456.4 L1202.6,458.2 L1205.8,460.0 L1208.9,461.7 L1212.1,463.5 L1215.3,465.3 L1218.5,467.1 L1221.7,468.9 L1224.9,470.6 L1228.1,472.4 L1231.3,474.2 L1234.4,476.0 L1237.6,477.8 L1240.8,479.6 L1244.0,481.3 L1247.2,483.1 L1250.4,484.9 L1253.6,486.7 L1256.8,488.5 L1260.0,490.3" fill="none" stroke="rgba(0,42,78,0.698)" stroke-width="1.30" stroke-linecap="round" stroke-dasharray="7.2 6.5"/><path d="M1260.0,490.3 L1260.0,490.3 L1263.1,492.0 L1266.3,493.8 L1269.5,495.6 L1272.7,497.4 L1275.9,499.2 L1279.1,500.9 L1282.3,502.7 L1285.5,504.5 L1288.6,506.3 L1291.8,508.1 L1295.0,509.9 L1298.2,511.6 L1301.4,513.4 L1304.6,515.2 L1307.8,517.0 L1311.0,518.8 L1314.2,520.6 L1317.3,522.3 L1320.5,524.1 L1323.7,525.9 L1326.9,527.7 L1330.1,529.5 L1333.3,531.2 L1336.5,533.0 L1339.7,534.8 L1342.8,536.6 L1346.0,538.4 L1349.2,540.2 L1352.4,541.9 L1355.6,543.7 L1358.8,545.5 L1362.0,547.3 L1365.2,549.1 L1368.4,550.9 L1371.5,552.6 L1374.7,554.4 L1377.9,556.2 L1381.1,558.0 L1384.3,559.8 L1387.5,561.6 L1390.7,563.3 L1393.9,565.1 L1397.0,566.9 L1400.2,568.7 L1403.4,570.5 L1406.6,572.2 L1409.8,574.0 L1413.0,575.8 L1416.2,577.6 L1419.4,579.4 L1422.6,581.2 L1425.7,582.9 L1428.9,584.7 L1432.1,586.5 L1435.3,588.3 L1438.5,590.1 L1441.7,591.9 L1444.9,593.6 L1448.1,595.4 L1451.2,597.2 L1454.4,599.0 L1457.6,600.8 L1460.8,602.5 L1464.0,604.3 L1467.2,606.1 L1470.4,607.9 L1473.6,609.7 L1476.8,611.5 L1479.9,613.2 L1483.1,615.0 L1486.3,616.8 L1489.5,618.6 L1492.7,620.4 L1495.9,622.2 L1499.1,623.9 L1502.3,625.7 L1505.5,627.5 L1508.6,629.3 L1511.8,631.1 L1515.0,632.8 L1518.2,634.6 L1521.4,636.4 L1524.6,638.2 L1527.8,640.0 L1531.0,641.8 L1534.1,643.5 L1537.3,645.3 L1540.5,647.1 L1543.7,648.9 L1546.9,650.7 L1550.1,652.5 L1553.3,654.2 L1556.5,656.0 L1559.7,657.8 L1562.8,659.6 L1566.0,661.4 L1569.2,663.1 L1572.4,664.9 L1575.6,666.7 L1578.8,668.5 L1582.0,670.3 L1585.2,672.1 L1588.3,673.8 L1591.5,675.6 L1594.7,677.4 L1597.9,679.2 L1601.1,681.0 L1604.3,682.8 L1607.5,684.5 L1610.7,686.3 L1613.9,688.1 L1617.0,689.9 L1620.2,691.7 L1623.4,693.4 L1626.6,695.2 L1629.8,697.0 L1633.0,698.8 L1636.2,700.6 L1639.4,702.4 L1642.5,704.1 L1645.7,705.9 L1648.9,707.7 L1652.1,709.5 L1655.3,711.3 L1658.5,713.1 L1661.7,714.8 L1664.9,716.6 L1668.1,718.4 L1671.2,720.2 L1674.4,722.0 L1677.6,723.8 L1680.8,725.5 L1684.0,727.3 L1687.2,729.1 L1690.4,730.9 L1693.6,732.7 L1696.7,734.4 L1699.9,736.2 L1703.1,738.0 L1706.3,739.8 L1709.5,741.6 L1712.7,743.4 L1715.9,745.1 L1719.1,746.9 L1722.3,748.7 L1725.4,750.5 L1728.6,752.3 L1731.8,754.1 L1735.0,755.8 L1738.2,757.6 L1741.4,759.4 L1744.6,761.2 L1747.8,763.0 L1750.9,764.7 L1754.1,766.5" fill="none" stroke="rgba(0,42,78,0.698)" stroke-width="1.30" stroke-linecap="round"/><path d="M435.2,1210.4 L439.5,1210.4 L443.7,1210.5 L447.9,1210.6 L452.1,1210.7 L456.3,1210.8 L460.6,1210.9 L464.8,1211.0 L469.0,1211.1 L473.2,1211.3 L477.4,1211.4 L481.6,1211.5 L485.8,1211.7 L490.0,1211.9 L494.2,1212.1 L498.4,1212.2 L502.6,1212.4 L506.8,1212.7 L511.0,1212.9 L515.1,1213.1 L519.3,1213.3 L523.5,1213.6 L527.7,1213.8 L531.9,1214.1 L536.0,1214.4 L540.2,1214.6 L544.4,1214.9 L548.6,1215.2 L552.7,1215.5 L556.9,1215.9 L561.0,1216.2 L565.2,1216.5 L569.4,1216.9 L573.5,1217.2 L577.7,1217.6 L581.8,1218.0 L586.0,1218.3 L590.1,1218.7 L594.3,1219.1 L598.4,1219.5 L601.2,1219.8" fill="none" stroke="rgba(0,42,78,0.700)" stroke-width="1.30" stroke-linecap="round" stroke-dasharray="7.2 6.5"/><path d="M601.2,1219.8 L602.5,1219.9 L606.7,1220.4 L610.8,1220.8 L614.9,1221.3 L619.1,1221.7 L623.2,1222.2 L627.3,1222.6 L631.4,1223.1 L635.6,1223.6 L639.7,1224.1 L643.8,1224.6 L647.9,1225.1 L652.0,1225.7 L656.1,1226.2 L660.3,1226.8 L664.4,1227.3 L668.5,1227.9 L672.6,1228.4 L676.7,1229.0 L680.8,1229.6 L684.9,1230.2 L688.9,1230.8 L693.0,1231.5 L697.1,1232.1 L701.2,1232.7 L705.3,1233.4 L709.4,1234.0 L713.5,1234.7 L717.5,1235.4 L721.6,1236.0 L725.7,1236.7 L729.7,1237.4 L733.8,1238.1 L737.9,1238.9 L741.9,1239.6 L746.0,1240.3 L750.1,1241.1 L754.1,1241.8 L758.2,1242.6 L762.2,1243.4 L766.3,1244.2 L770.3,1245.0 L774.4,1245.8 L778.4,1246.6 L782.5,1247.4 L786.5,1248.2 L790.5,1249.1 L794.6,1249.9 L798.6,1250.8 L802.6,1251.6 L806.7,1252.5 L810.7,1253.4 L814.7,1254.3 L818.7,1255.2 L822.8,1256.1 L826.8,1257.0 L830.8,1257.9 L834.8,1258.9 L838.8,1259.8 L842.8,1260.8 L846.8,1261.8 L850.8,1262.7 L854.8,1263.7 L858.8,1264.7 L862.8,1265.7 L866.8,1266.7 L870.8,1267.7 L874.8,1268.8 L878.8,1269.8 L882.8,1270.9 L886.8,1271.9 L890.7,1273.0 L894.7,1274.1 L898.7,1275.2 L902.7,1276.2 L906.6,1277.3 L910.6,1278.5 L914.6,1279.6 L918.6,1280.7 L922.5,1281.9 L926.5,1283.0 L930.4,1284.2 L934.4,1285.3 L938.4,1286.5 L942.3,1287.7 L946.3,1288.9 L950.2,1290.1 L954.2,1291.3 L958.1,1292.5 L962.0,1293.8 L966.0,1295.0 L969.9,1296.3 L973.8,1297.5 L977.8,1298.8 L981.7,1300.1 L985.6,1301.3 L989.6,1302.6 L993.5,1303.9 L997.4,1305.3 L1001.3,1306.6 L1005.2,1307.9 L1009.2,1309.3 L1013.1,1310.6 L1017.0,1312.0 L1020.9,1313.3 L1024.8,1314.7 L1028.7,1316.1 L1032.6,1317.5 L1036.5,1318.9 L1040.4,1320.3 L1044.3,1321.7 L1048.2,1323.2 L1052.1,1324.6 L1056.0,1326.1 L1059.9,1327.5 L1063.7,1329.0 L1067.6,1330.5 L1071.5,1332.0 L1075.4,1333.5 L1079.3,1335.0 L1083.1,1336.5 L1087.0,1338.0 L1090.9,1339.5 L1094.7,1341.1 L1098.6,1342.6 L1102.5,1344.2 L1106.3,1345.8 L1110.2,1347.4 L1114.0,1348.9 L1117.9,1350.5 L1121.7,1352.1 L1125.6,1353.8 L1129.4,1355.4 L1133.3,1357.0 L1137.1,1358.7 L1141.0,1360.3 L1144.8,1362.0 L1148.6,1363.7 L1152.5,1365.3 L1156.3,1367.0 L1160.1,1368.7 L1163.9,1370.4 L1167.8,1372.1 L1171.6,1373.9 L1175.4,1375.6 L1179.2,1377.4 L1183.0,1379.1 L1186.9,1380.9 L1190.7,1382.6 L1194.5,1384.4 L1198.3,1386.2 L1202.1,1388.0 L1205.9,1389.8 L1209.7,1391.6 L1213.5,1393.5 L1217.3,1395.3 L1221.1,1397.1" fill="none" stroke="rgba(0,42,78,0.700)" stroke-width="1.30" stroke-linecap="round"/><path d="M1390.8,1355.2 L1392.1,1352.3 L1393.4,1349.4 L1394.8,1346.6 L1396.1,1343.7 L1397.5,1340.8 L1398.8,1337.9 L1400.2,1335.1 L1401.6,1332.2 L1403.0,1329.4 L1404.3,1326.6 L1405.7,1323.7 L1407.1,1320.9 L1408.6,1318.1 L1410.0,1315.3 L1411.4,1312.5 L1412.8,1309.7 L1414.3,1306.9 L1415.7,1304.1 L1417.1,1301.3 L1418.6,1298.5 L1420.1,1295.7 L1421.5,1293.0 L1423.0,1290.2 L1424.5,1287.4 L1426.0,1284.7 L1427.5,1281.9 L1429.0,1279.2 L1430.5,1276.5 L1432.0,1273.7 L1433.5,1271.0 L1435.1,1268.3 L1436.6,1265.6 L1438.1,1262.9 L1439.7,1260.2 L1441.3,1257.5 L1442.8,1254.8 L1444.4,1252.1 L1446.0,1249.5 L1447.6,1246.8 L1448.3,1245.6" fill="none" stroke="rgba(0,42,78,0.706)" stroke-width="1.30" stroke-linecap="round" stroke-dasharray="7.2 6.5"/><path d="M1448.3,1245.6 L1449.1,1244.1 L1450.7,1241.5 L1452.3,1238.8 L1454.0,1236.2 L1455.6,1233.5 L1457.2,1230.9 L1458.8,1228.3 L1460.5,1225.7 L1462.1,1223.1 L1463.8,1220.4 L1465.4,1217.8 L1467.1,1215.2 L1468.8,1212.6 L1470.4,1210.1 L1472.1,1207.5 L1473.8,1204.9 L1475.5,1202.3 L1477.2,1199.8 L1478.9,1197.2 L1480.7,1194.7 L1482.4,1192.1 L1484.1,1189.6 L1485.9,1187.0 L1487.6,1184.5 L1489.4,1182.0 L1491.1,1179.5 L1492.9,1177.0 L1494.7,1174.5 L1496.4,1172.0 L1498.2,1169.5 L1500.0,1167.0 L1501.8,1164.5 L1503.6,1162.0 L1505.4,1159.6 L1507.3,1157.1 L1509.1,1154.6 L1510.9,1152.2 L1512.8,1149.7 L1514.6,1147.3 L1516.5,1144.9 L1518.3,1142.4 L1520.2,1140.0 L1522.1,1137.6 L1524.0,1135.2 L1525.8,1132.8 L1527.7,1130.4 L1529.6,1128.0 L1531.6,1125.6 L1533.5,1123.2 L1535.4,1120.9 L1537.3,1118.5 L1539.3,1116.1 L1541.2,1113.8 L1543.1,1111.4 L1545.1,1109.1 L1547.1,1106.7 L1549.0,1104.4 L1551.0,1102.1 L1553.0,1099.7 L1555.0,1097.4 L1557.0,1095.1 L1559.0,1092.8 L1561.0,1090.5 L1563.0,1088.2 L1565.0,1085.9 L1567.1,1083.6 L1569.1,1081.4 L1571.1,1079.1 L1573.2,1076.8 L1575.3,1074.6 L1577.3,1072.3 L1579.4,1070.1 L1581.5,1067.8 L1583.6,1065.6 L1585.6,1063.4 L1587.7,1061.2 L1589.8,1058.9 L1592.0,1056.7 L1594.1,1054.5 L1596.2,1052.3 L1598.3,1050.1 L1600.5,1047.9 L1602.6,1045.8 L1604.8,1043.6 L1606.9,1041.4 L1609.1,1039.2 L1611.3,1037.1 L1613.4,1034.9 L1615.6,1032.8 L1617.8,1030.6 L1620.0,1028.5 L1622.2,1026.4 L1624.4,1024.3 L1626.7,1022.1 L1628.9,1020.0 L1631.1,1017.9 L1633.4,1015.8 L1635.6,1013.7 L1637.9,1011.6 L1640.1,1009.6 L1642.4,1007.5 L1644.7,1005.4 L1646.9,1003.3 L1649.2,1001.3 L1651.5,999.2 L1653.8,997.2 L1656.1,995.1 L1658.5,993.1 L1660.8,991.1 L1663.1,989.0 L1665.4,987.0 L1667.8,985.0 L1670.1,983.0 L1672.5,981.0 L1674.8,979.0 L1677.2,977.0 L1679.6,975.0 L1682.0,973.1 L1684.4,971.1 L1686.8,969.1 L1689.2,967.2 L1691.6,965.2 L1694.0,963.3 L1696.4,961.3 L1698.8,959.4 L1701.3,957.5 L1703.7,955.5 L1706.2,953.6 L1708.6,951.7 L1711.1,949.8 L1713.5,947.9 L1716.0,946.0 L1718.5,944.1 L1721.0,942.2 L1723.5,940.4 L1726.0,938.5 L1728.5,936.6 L1731.0,934.8 L1733.5,932.9 L1736.1,931.1 L1738.6,929.2 L1741.2,927.4 L1743.7,925.5 L1746.3,923.7 L1748.8,921.9 L1751.4,920.1 L1754.0,918.3 L1756.6,916.5 L1759.2,914.7 L1761.8,912.9 L1764.4,911.1 L1767.0,909.3 L1769.6,907.6 L1772.2,905.8 L1774.9,904.0" fill="none" stroke="rgba(0,42,78,0.706)" stroke-width="1.30" stroke-linecap="round"/><path d="M318.6,1096.1 L317.6,1095.4 L316.6,1094.7 L315.6,1094.0 L314.6,1093.3 L313.6,1092.6 L312.6,1091.9 L311.7,1091.1 L310.7,1090.4 L309.8,1089.7 L308.8,1089.0 L307.9,1088.2 L307.0,1087.5 L306.1,1086.8 L305.1,1086.0 L304.2,1085.3 L303.3,1084.6 L302.4,1083.8 L301.6,1083.1 L300.7,1082.3 L299.8,1081.6 L299.0,1080.8 L298.1,1080.1 L297.3,1079.3 L296.4,1078.6 L295.6,1077.8 L294.8,1077.1 L294.0,1076.3 L293.2,1075.5 L292.4,1074.8 L291.6,1074.0 L290.8,1073.2 L290.1,1072.5 L289.3,1071.7 L288.5,1070.9 L287.8,1070.1 L287.0,1069.4 L286.8,1069.0" fill="none" stroke="rgba(0,42,78,0.707)" stroke-width="1.30" stroke-linecap="round" stroke-dasharray="7.2 6.5"/><path d="M286.8,1069.0 L286.3,1068.6 L285.6,1067.8 L284.9,1067.0 L284.2,1066.2 L283.4,1065.4 L282.8,1064.6 L282.1,1063.8 L281.4,1063.0 L280.7,1062.2 L280.1,1061.4 L279.4,1060.6 L278.7,1059.8 L278.1,1059.0 L277.5,1058.2 L276.9,1057.4 L276.2,1056.6 L275.6,1055.8 L275.0,1055.0 L274.4,1054.1 L273.8,1053.3 L273.3,1052.5 L272.7,1051.7 L272.1,1050.8 L271.6,1050.0 L271.0,1049.2 L270.5,1048.3 L270.0,1047.5 L269.4,1046.7 L268.9,1045.8 L268.4,1045.0 L267.9,1044.1 L267.4,1043.3 L266.9,1042.4 L266.4,1041.6 L266.0,1040.7 L265.5,1039.9 L265.1,1039.0 L264.6,1038.2 L264.2,1037.3 L263.7,1036.5 L263.3,1035.6 L262.9,1034.7 L262.5,1033.9 L262.1,1033.0 L261.7,1032.1 L261.3,1031.2 L260.9,1030.4 L260.6,1029.5 L260.2,1028.6 L259.9,1027.7 L259.5,1026.8 L259.2,1025.9 L258.8,1025.1 L258.5,1024.2 L258.2,1023.3 L257.9,1022.4 L257.6,1021.5 L257.3,1020.6 L257.0,1019.7 L256.7,1018.8 L256.5,1017.9 L256.2,1017.0 L256.0,1016.1 L255.7,1015.1 L255.5,1014.2 L255.2,1013.3 L255.0,1012.4 L254.8,1011.5 L254.6,1010.6 L254.4,1009.6 L254.2,1008.7 L254.0,1007.8 L253.9,1006.8 L253.7,1005.9 L253.5,1005.0 L253.4,1004.0 L253.2,1003.1 L253.1,1002.2 L253.0,1001.2 L252.8,1000.3 L252.7,999.3 L252.6,998.4 L252.5,997.4 L252.4,996.5 L252.4,995.5 L252.3,994.6 L252.2,993.6 L252.1,992.7 L252.1,991.7 L252.1,990.7 L252.0,989.8 L252.0,988.8 L252.0,987.8 L252.0,986.8 L252.0,985.9 L252.0,984.9 L252.0,983.9 L252.0,982.9 L252.0,981.9 L252.0,981.0 L252.1,980.0 L252.1,979.0 L252.2,978.0 L252.3,977.0 L252.3,976.0 L252.4,975.0 L252.5,974.0 L252.6,973.0 L252.7,972.0 L252.8,971.0 L252.9,970.0 L253.0,969.0 L253.2,968.0 L253.3,967.0 L253.5,965.9 L253.6,964.9 L253.8,963.9 L254.0,962.9 L254.2,961.9 L254.3,960.8 L254.5,959.8 L254.7,958.8 L255.0,957.7 L255.2,956.7 L255.4,955.7 L255.6,954.6 L255.9,953.6 L256.1,952.5 L256.4,951.5 L256.7,950.5 L256.9,949.4 L257.2,948.4 L257.5,947.3 L257.8,946.2 L258.1,945.2 L258.4,944.1 L258.7,943.1 L259.1,942.0 L259.4,940.9 L259.7,939.9 L260.1,938.8 L260.4,937.7 L260.8,936.7 L261.2,935.6 L261.6,934.5 L262.0,933.4 L262.4,932.3" fill="none" stroke="rgba(0,42,78,0.707)" stroke-width="1.30" stroke-linecap="round"/><path d="M1073.8,464.4 L1074.0,469.0 L1074.3,473.6 L1074.5,478.2 L1074.8,482.8 L1075.1,487.4 L1075.3,492.0 L1075.6,496.6 L1075.9,501.1 L1076.2,505.7 L1076.5,510.3 L1076.9,514.9 L1077.2,519.4 L1077.5,524.0 L1077.9,528.6 L1078.2,533.1 L1078.6,537.7 L1079.0,542.3 L1079.4,546.8 L1079.8,551.4 L1080.2,555.9 L1080.6,560.5 L1081.0,565.0 L1081.5,569.6 L1081.9,574.1 L1082.3,578.6 L1082.8,583.2 L1083.3,587.7 L1083.8,592.2 L1084.3,596.8 L1084.8,601.3 L1085.3,605.8 L1085.8,610.3 L1086.3,614.9 L1086.8,619.4 L1087.4,623.9 L1087.9,628.4 L1088.5,632.9 L1089.1,637.4 L1089.7,641.9 L1090.1,645.1" fill="none" stroke="rgba(0,42,78,0.734)" stroke-width="1.30" stroke-linecap="round" stroke-dasharray="7.2 6.5"/><path d="M1090.1,645.1 L1090.3,646.4 L1090.9,650.9 L1091.5,655.4 L1092.1,659.9 L1092.7,664.4 L1093.4,668.9 L1094.0,673.4 L1094.7,677.9 L1095.3,682.4 L1096.0,686.8 L1096.7,691.3 L1097.4,695.8 L1098.1,700.3 L1098.8,704.7 L1099.5,709.2 L1100.2,713.7 L1101.0,718.1 L1101.7,722.6 L1102.5,727.0 L1103.3,731.5 L1104.0,736.0 L1104.8,740.4 L1105.6,744.8 L1106.4,749.3 L1107.2,753.7 L1108.1,758.2 L1108.9,762.6 L1109.7,767.1 L1110.6,771.5 L1111.4,775.9 L1112.3,780.3 L1113.2,784.8 L1114.1,789.2 L1115.0,793.6 L1115.9,798.0 L1116.8,802.5 L1117.7,806.9 L1118.7,811.3 L1119.6,815.7 L1120.6,820.1 L1121.5,824.5 L1122.5,828.9 L1123.5,833.3 L1124.5,837.7 L1125.5,842.1 L1126.5,846.5 L1127.5,850.9 L1128.5,855.3 L1129.6,859.6 L1130.6,864.0 L1131.7,868.4 L1132.7,872.8 L1133.8,877.1 L1134.9,881.5 L1136.0,885.9 L1137.1,890.3 L1138.2,894.6 L1139.3,899.0 L1140.4,903.3 L1141.6,907.7 L1142.7,912.1 L1143.9,916.4 L1145.0,920.8 L1146.2,925.1 L1147.4,929.5 L1148.6,933.8 L1149.8,938.1 L1151.0,942.5 L1152.2,946.8 L1153.5,951.1 L1154.7,955.5 L1155.9,959.8 L1157.2,964.1 L1158.5,968.4 L1159.8,972.8 L1161.0,977.1 L1162.3,981.4 L1163.6,985.7 L1165.0,990.0 L1166.3,994.3 L1167.6,998.6 L1169.0,1002.9 L1170.3,1007.2 L1171.7,1011.5 L1173.0,1015.8 L1174.4,1020.1 L1175.8,1024.4 L1177.2,1028.7 L1178.6,1033.0 L1180.0,1037.3 L1181.4,1041.6 L1182.9,1045.8 L1184.3,1050.1 L1185.8,1054.4 L1187.2,1058.7 L1188.7,1062.9 L1190.2,1067.2 L1191.7,1071.5 L1193.2,1075.7 L1194.7,1080.0 L1196.2,1084.2 L1197.7,1088.5 L1199.3,1092.7 L1200.8,1097.0 L1202.4,1101.2 L1203.9,1105.5 L1205.5,1109.7 L1207.1,1114.0 L1208.7,1118.2 L1210.3,1122.4 L1211.9,1126.7 L1213.5,1130.9 L1215.2,1135.1 L1216.8,1139.4 L1218.4,1143.6 L1220.1,1147.8 L1221.8,1152.0 L1223.4,1156.2 L1225.1,1160.4 L1226.8,1164.7 L1228.5,1168.9 L1230.2,1173.1 L1232.0,1177.3 L1233.7,1181.5 L1235.4,1185.7 L1237.2,1189.9 L1238.9,1194.1 L1240.7,1198.2 L1242.5,1202.4 L1244.3,1206.6 L1246.1,1210.8 L1247.9,1215.0 L1249.7,1219.2 L1251.5,1223.3 L1253.3,1227.5 L1255.2,1231.7 L1257.0,1235.9 L1258.9,1240.0 L1260.8,1244.2 L1262.6,1248.3 L1264.5,1252.5 L1266.4,1256.7 L1268.3,1260.8 L1270.3,1265.0 L1272.2,1269.1 L1274.1,1273.3 L1276.1,1277.4 L1278.0,1281.5 L1280.0,1285.7 L1281.9,1289.8 L1283.9,1294.0 L1285.9,1298.1 L1287.9,1302.2 L1289.9,1306.3 L1291.9,1310.5 L1294.0,1314.6 L1296.0,1318.7" fill="none" stroke="rgba(0,42,78,0.734)" stroke-width="1.30" stroke-linecap="round"/><path d="M1663.8,1165.6 L1656.9,1165.0 L1650.0,1164.4 L1643.1,1163.8 L1636.3,1163.2 L1629.4,1162.6 L1622.5,1162.0 L1615.7,1161.3 L1608.8,1160.7 L1602.0,1160.0 L1595.1,1159.3 L1588.3,1158.6 L1581.4,1157.9 L1574.6,1157.2 L1567.7,1156.5 L1560.9,1155.8 L1554.0,1155.1 L1547.2,1154.3 L1540.4,1153.5 L1533.5,1152.8 L1526.7,1152.0 L1519.9,1151.2 L1513.1,1150.4 L1506.3,1149.6 L1499.4,1148.8 L1492.6,1148.0 L1485.8,1147.1 L1479.0,1146.3 L1472.2,1145.4 L1465.4,1144.5 L1458.6,1143.7 L1451.8,1142.8 L1445.0,1141.9 L1438.2,1141.0 L1431.4,1140.0 L1424.6,1139.1 L1417.8,1138.2 L1411.0,1137.2 L1404.2,1136.2 L1397.5,1135.3 L1391.7,1134.4" fill="none" stroke="rgba(0,42,78,0.743)" stroke-width="1.30" stroke-linecap="round" stroke-dasharray="7.2 6.5"/><path d="M1391.7,1134.4 L1390.7,1134.3 L1383.9,1133.3 L1377.1,1132.3 L1370.4,1131.3 L1363.6,1130.2 L1356.8,1129.2 L1350.1,1128.2 L1343.3,1127.1 L1336.5,1126.0 L1329.8,1125.0 L1323.0,1123.9 L1316.3,1122.8 L1309.5,1121.7 L1302.8,1120.6 L1296.0,1119.4 L1289.3,1118.3 L1282.6,1117.1 L1275.8,1116.0 L1269.1,1114.8 L1262.4,1113.6 L1255.6,1112.4 L1248.9,1111.2 L1242.2,1110.0 L1235.5,1108.8 L1228.7,1107.6 L1222.0,1106.3 L1215.3,1105.1 L1208.6,1103.8 L1201.9,1102.6 L1195.2,1101.3 L1188.5,1100.0 L1181.8,1098.7 L1175.1,1097.4 L1168.4,1096.0 L1161.7,1094.7 L1155.0,1093.4 L1148.3,1092.0 L1141.6,1090.6 L1135.0,1089.3 L1128.3,1087.9 L1121.6,1086.5 L1114.9,1085.1 L1108.2,1083.7 L1101.6,1082.2 L1094.9,1080.8 L1088.2,1079.3 L1081.6,1077.9 L1074.9,1076.4 L1068.3,1074.9 L1061.6,1073.5 L1054.9,1072.0 L1048.3,1070.4 L1041.6,1068.9 L1035.0,1067.4 L1028.4,1065.9 L1021.7,1064.3 L1015.1,1062.7 L1008.4,1061.2 L1001.8,1059.6 L995.2,1058.0 L988.6,1056.4 L981.9,1054.8 L975.3,1053.2 L968.7,1051.5 L962.1,1049.9 L955.4,1048.2 L948.8,1046.6 L942.2,1044.9 L935.6,1043.2 L929.0,1041.5 L922.4,1039.8 L915.8,1038.1 L909.2,1036.4 L902.6,1034.6 L896.0,1032.9 L889.4,1031.1 L882.8,1029.4 L876.3,1027.6 L869.7,1025.8 L863.1,1024.0 L856.5,1022.2 L849.9,1020.4 L843.4,1018.6 L836.8,1016.7 L830.2,1014.9 L823.7,1013.0 L817.1,1011.1 L810.5,1009.3 L804.0,1007.4 L797.4,1005.5 L790.9,1003.6 L784.3,1001.6 L777.8,999.7 L771.2,997.8 L764.7,995.8 L758.1,993.8 L751.6,991.9 L745.1,989.9 L738.5,987.9 L732.0,985.9 L725.5,983.9 L718.9,981.9 L712.4,979.8 L705.9,977.8 L699.4,975.7 L692.9,973.7 L686.3,971.6 L679.8,969.5 L673.3,967.4 L666.8,965.3 L660.3,963.2 L653.8,961.0 L647.3,958.9 L640.8,956.8 L634.3,954.6 L627.8,952.4 L621.3,950.3 L614.9,948.1 L608.4,945.9 L601.9,943.7 L595.4,941.4 L588.9,939.2 L582.5,937.0 L576.0,934.7 L569.5,932.5 L563.1,930.2 L556.6,927.9 L550.1,925.6 L543.7,923.3 L537.2,921.0 L530.8,918.7 L524.3,916.3 L517.9,914.0 L511.4,911.6 L505.0,909.3 L498.5,906.9 L492.1,904.5 L485.7,902.1 L479.2,899.7 L472.8,897.3 L466.4,894.9 L459.9,892.4 L453.5,890.0 L447.1,887.5 L440.7,885.1 L434.3,882.6 L427.9,880.1 L421.4,877.6 L415.0,875.1 L408.6,872.6 L402.2,870.0 L395.8,867.5 L389.4,865.0 L383.0,862.4 L376.6,859.8 L370.2,857.2 L363.9,854.7 L357.5,852.1 L351.1,849.4" fill="none" stroke="rgba(0,42,78,0.743)" stroke-width="1.30" stroke-linecap="round"/><path d="M853.4,1380.6 L857.5,1377.2 L861.6,1373.8 L865.7,1370.4 L869.8,1367.0 L873.9,1363.6 L878.1,1360.2 L882.2,1356.9 L886.3,1353.5 L890.5,1350.1 L894.6,1346.8 L898.8,1343.5 L902.9,1340.1 L907.1,1336.8 L911.2,1333.5 L915.4,1330.2 L919.6,1326.9 L923.8,1323.6 L928.0,1320.3 L932.1,1317.1 L936.3,1313.8 L940.5,1310.6 L944.7,1307.3 L948.9,1304.1 L953.2,1300.9 L957.4,1297.7 L961.6,1294.5 L965.8,1291.3 L970.1,1288.1 L974.3,1284.9 L978.5,1281.7 L982.8,1278.5 L987.0,1275.4 L991.3,1272.2 L995.6,1269.1 L999.8,1266.0 L1004.1,1262.9 L1008.4,1259.7 L1012.7,1256.6 L1016.9,1253.5 L1020.3,1251.2" fill="none" stroke="rgba(0,42,78,0.747)" stroke-width="1.30" stroke-linecap="round" stroke-dasharray="7.2 6.5"/><path d="M1020.3,1251.2 L1021.2,1250.5 L1025.5,1247.4 L1029.8,1244.3 L1034.1,1241.3 L1038.4,1238.2 L1042.8,1235.2 L1047.1,1232.1 L1051.4,1229.1 L1055.7,1226.1 L1060.1,1223.1 L1064.4,1220.1 L1068.8,1217.1 L1073.1,1214.1 L1077.5,1211.1 L1081.8,1208.2 L1086.2,1205.2 L1090.5,1202.3 L1094.9,1199.3 L1099.3,1196.4 L1103.7,1193.5 L1108.1,1190.6 L1112.5,1187.7 L1116.9,1184.8 L1121.3,1181.9 L1125.7,1179.0 L1130.1,1176.1 L1134.5,1173.3 L1138.9,1170.4 L1143.3,1167.6 L1147.8,1164.7 L1152.2,1161.9 L1156.7,1159.1 L1161.1,1156.3 L1165.6,1153.5 L1170.0,1150.7 L1174.5,1147.9 L1178.9,1145.1 L1183.4,1142.4 L1187.9,1139.6 L1192.4,1136.9 L1196.8,1134.1 L1201.3,1131.4 L1205.8,1128.7 L1210.3,1126.0 L1214.8,1123.3 L1219.3,1120.6 L1223.8,1117.9 L1228.4,1115.2 L1232.9,1112.5 L1237.4,1109.9 L1241.9,1107.2 L1246.5,1104.6 L1251.0,1101.9 L1255.6,1099.3 L1260.1,1096.7 L1264.7,1094.1 L1269.2,1091.5 L1273.8,1088.9 L1278.4,1086.3 L1283.0,1083.7 L1287.5,1081.1 L1292.1,1078.6 L1296.7,1076.0 L1301.3,1073.5 L1305.9,1071.0 L1310.5,1068.4 L1315.1,1065.9 L1319.7,1063.4 L1324.4,1060.9 L1329.0,1058.4 L1333.6,1056.0 L1338.3,1053.5 L1342.9,1051.0 L1347.5,1048.6 L1352.2,1046.1 L1356.8,1043.7 L1361.5,1041.3 L1366.2,1038.8 L1370.8,1036.4 L1375.5,1034.0 L1380.2,1031.6 L1384.9,1029.2 L1389.6,1026.9 L1394.2,1024.5 L1398.9,1022.1 L1403.6,1019.8 L1408.4,1017.4 L1413.1,1015.1 L1417.8,1012.8 L1422.5,1010.5 L1427.2,1008.2 L1432.0,1005.9 L1436.7,1003.6 L1441.4,1001.3 L1446.2,999.0 L1450.9,996.8 L1455.7,994.5 L1460.4,992.3 L1465.2,990.0 L1470.0,987.8 L1474.8,985.6 L1479.5,983.4 L1484.3,981.2 L1489.1,979.0 L1493.9,976.8 L1498.7,974.6 L1503.5,972.4 L1508.3,970.3 L1513.1,968.1 L1517.9,966.0 L1522.8,963.8 L1527.6,961.7 L1532.4,959.6 L1537.3,957.5 L1542.1,955.4 L1547.0,953.3 L1551.8,951.2 L1556.7,949.1 L1561.5,947.1 L1566.4,945.0 L1571.3,943.0 L1576.1,940.9 L1581.0,938.9 L1585.9,936.9 L1590.8,934.9 L1595.7,932.9 L1600.6,930.9 L1605.5,928.9 L1610.4,926.9 L1615.3,924.9 L1620.2,923.0 L1625.2,921.0 L1630.1,919.1 L1635.0,917.1 L1640.0,915.2 L1644.9,913.3 L1649.9,911.4 L1654.8,909.5 L1659.8,907.6 L1664.7,905.7 L1669.7,903.8 L1674.7,902.0 L1679.7,900.1 L1684.6,898.3 L1689.6,896.4 L1694.6,894.6 L1699.6,892.8 L1704.6,891.0 L1709.6,889.1 L1714.6,887.3 L1719.6,885.6 L1724.7,883.8 L1729.7,882.0 L1734.7,880.2 L1739.8,878.5 L1744.8,876.8 L1749.8,875.0 L1754.9,873.3" fill="none" stroke="rgba(0,42,78,0.747)" stroke-width="1.30" stroke-linecap="round"/><path d="M341.0,821.8 L348.1,822.9 L355.2,823.9 L362.3,825.0 L369.3,826.0 L376.4,827.0 L383.5,828.0 L390.6,829.0 L397.7,830.0 L404.8,831.0 L411.8,832.0 L418.9,832.9 L426.0,833.9 L433.1,834.8 L440.2,835.8 L447.3,836.7 L454.4,837.6 L461.4,838.5 L468.5,839.4 L475.6,840.2 L482.7,841.1 L489.8,841.9 L496.9,842.8 L504.0,843.6 L511.0,844.4 L518.1,845.2 L525.2,846.0 L532.3,846.8 L539.4,847.6 L546.5,848.4 L553.5,849.1 L560.6,849.9 L567.7,850.6 L574.8,851.3 L581.9,852.0 L589.0,852.7 L596.1,853.4 L603.1,854.1 L610.2,854.8 L617.3,855.4 L623.4,856.0" fill="none" stroke="rgba(0,42,78,0.775)" stroke-width="1.37" stroke-linecap="round" stroke-dasharray="7.1 6.6"/><path d="M623.4,856.0 L624.4,856.1 L631.5,856.7 L638.6,857.4 L645.7,858.0 L652.7,858.6 L659.8,859.2 L666.9,859.8 L674.0,860.3 L681.1,860.9 L688.2,861.4 L695.2,862.0 L702.3,862.5 L709.4,863.0 L716.5,863.5 L723.6,864.0 L730.7,864.5 L737.8,865.0 L744.8,865.5 L751.9,865.9 L759.0,866.4 L766.1,866.8 L773.2,867.2 L780.3,867.6 L787.4,868.0 L794.4,868.4 L801.5,868.8 L808.6,869.2 L815.7,869.5 L822.8,869.9 L829.9,870.2 L836.9,870.6 L844.0,870.9 L851.1,871.2 L858.2,871.5 L865.3,871.8 L872.4,872.0 L879.5,872.3 L886.5,872.5 L893.6,872.8 L900.7,873.0 L907.8,873.2 L914.9,873.5 L922.0,873.6 L929.1,873.8 L936.1,874.0 L943.2,874.2 L950.3,874.3 L957.4,874.5 L964.5,874.6 L971.6,874.7 L978.6,874.8 L985.7,875.0 L992.8,875.0 L999.9,875.1 L1007.0,875.2 L1014.1,875.3 L1021.2,875.3 L1028.2,875.3 L1035.3,875.4 L1042.4,875.4 L1049.5,875.4 L1056.6,875.4 L1063.7,875.4 L1070.8,875.3 L1077.8,875.3 L1084.9,875.3 L1092.0,875.2 L1099.1,875.1 L1106.2,875.0 L1113.3,875.0 L1120.3,874.8 L1127.4,874.7 L1134.5,874.6 L1141.6,874.5 L1148.7,874.3 L1155.8,874.2 L1162.9,874.0 L1169.9,873.8 L1177.0,873.6 L1184.1,873.5 L1191.2,873.2 L1198.3,873.0 L1205.4,872.8 L1212.5,872.5 L1219.5,872.3 L1226.6,872.0 L1233.7,871.8 L1240.8,871.5 L1247.9,871.2 L1255.0,870.9 L1262.1,870.6 L1269.1,870.2 L1276.2,869.9 L1283.3,869.5 L1290.4,869.2 L1297.5,868.8 L1304.6,868.4 L1311.6,868.0 L1318.7,867.6 L1325.8,867.2 L1332.9,866.8 L1340.0,866.4 L1347.1,865.9 L1354.2,865.5 L1361.2,865.0 L1368.3,864.5 L1375.4,864.0 L1382.5,863.5 L1389.6,863.0 L1396.7,862.5 L1403.8,862.0 L1410.8,861.4 L1417.9,860.9 L1425.0,860.3 L1432.1,859.8 L1439.2,859.2 L1446.3,858.6 L1453.3,858.0 L1460.4,857.4 L1467.5,856.7 L1474.6,856.1 L1481.7,855.4 L1488.8,854.8 L1495.9,854.1 L1502.9,853.4 L1510.0,852.7 L1517.1,852.0 L1524.2,851.3 L1531.3,850.6 L1538.4,849.9 L1545.5,849.1 L1552.5,848.4 L1559.6,847.6 L1566.7,846.8 L1573.8,846.0 L1580.9,845.2 L1588.0,844.4 L1595.0,843.6 L1602.1,842.8 L1609.2,841.9 L1616.3,841.1 L1623.4,840.2 L1630.5,839.4 L1637.6,838.5 L1644.6,837.6 L1651.7,836.7 L1658.8,835.8 L1665.9,834.8 L1673.0,833.9 L1680.1,832.9 L1687.2,832.0 L1694.2,831.0 L1701.3,830.0 L1708.4,829.0 L1715.5,828.0 L1722.6,827.0 L1729.7,826.0 L1736.7,825.0 L1743.8,823.9" fill="none" stroke="rgba(0,42,78,0.775)" stroke-width="1.37" stroke-linecap="round"/><path d="M328.9,868.2 L334.0,869.9 L339.0,871.6 L344.1,873.3 L349.2,875.0 L354.2,876.8 L359.2,878.5 L364.3,880.2 L369.3,882.0 L374.3,883.8 L379.4,885.6 L384.4,887.3 L389.4,889.1 L394.4,891.0 L399.4,892.8 L404.4,894.6 L409.4,896.4 L414.4,898.3 L419.3,900.1 L424.3,902.0 L429.3,903.8 L434.3,905.7 L439.2,907.6 L444.2,909.5 L449.1,911.4 L454.1,913.3 L459.0,915.2 L464.0,917.1 L468.9,919.1 L473.8,921.0 L478.8,923.0 L483.7,924.9 L488.6,926.9 L493.5,928.9 L498.4,930.9 L503.3,932.9 L508.2,934.9 L513.1,936.9 L518.0,938.9 L522.9,940.9 L526.6,942.5" fill="none" stroke="rgba(0,42,78,0.783)" stroke-width="1.42" stroke-linecap="round" stroke-dasharray="7.1 6.6"/><path d="M526.6,942.5 L527.7,943.0 L532.6,945.0 L537.5,947.1 L542.3,949.1 L547.2,951.2 L552.0,953.3 L556.9,955.4 L561.7,957.5 L566.6,959.6 L571.4,961.7 L576.2,963.8 L581.1,966.0 L585.9,968.1 L590.7,970.3 L595.5,972.4 L600.3,974.6 L605.1,976.8 L609.9,979.0 L614.7,981.2 L619.5,983.4 L624.2,985.6 L629.0,987.8 L633.8,990.0 L638.6,992.3 L643.3,994.5 L648.1,996.8 L652.8,999.0 L657.6,1001.3 L662.3,1003.6 L667.0,1005.9 L671.8,1008.2 L676.5,1010.5 L681.2,1012.8 L685.9,1015.1 L690.6,1017.4 L695.4,1019.8 L700.1,1022.1 L704.8,1024.5 L709.4,1026.9 L714.1,1029.2 L718.8,1031.6 L723.5,1034.0 L728.2,1036.4 L732.8,1038.8 L737.5,1041.3 L742.2,1043.7 L746.8,1046.1 L751.5,1048.6 L756.1,1051.0 L760.7,1053.5 L765.4,1056.0 L770.0,1058.4 L774.6,1060.9 L779.3,1063.4 L783.9,1065.9 L788.5,1068.4 L793.1,1071.0 L797.7,1073.5 L802.3,1076.0 L806.9,1078.6 L811.5,1081.1 L816.0,1083.7 L820.6,1086.3 L825.2,1088.9 L829.8,1091.5 L834.3,1094.1 L838.9,1096.7 L843.4,1099.3 L848.0,1101.9 L852.5,1104.6 L857.1,1107.2 L861.6,1109.9 L866.1,1112.5 L870.6,1115.2 L875.2,1117.9 L879.7,1120.6 L884.2,1123.3 L888.7,1126.0 L893.2,1128.7 L897.7,1131.4 L902.2,1134.1 L906.6,1136.9 L911.1,1139.6 L915.6,1142.4 L920.1,1145.1 L924.5,1147.9 L929.0,1150.7 L933.4,1153.5 L937.9,1156.3 L942.3,1159.1 L946.8,1161.9 L951.2,1164.7 L955.7,1167.6 L960.1,1170.4 L964.5,1173.3 L968.9,1176.1 L973.3,1179.0 L977.7,1181.9 L982.1,1184.8 L986.5,1187.7 L990.9,1190.6 L995.3,1193.5 L999.7,1196.4 L1004.1,1199.3 L1008.5,1202.3 L1012.8,1205.2 L1017.2,1208.2 L1021.5,1211.1 L1025.9,1214.1 L1030.2,1217.1 L1034.6,1220.1 L1038.9,1223.1 L1043.3,1226.1 L1047.6,1229.1 L1051.9,1232.1 L1056.2,1235.2 L1060.6,1238.2 L1064.9,1241.3 L1069.2,1244.3 L1073.5,1247.4 L1077.8,1250.5 L1082.1,1253.5 L1086.3,1256.6 L1090.6,1259.7 L1094.9,1262.9 L1099.2,1266.0 L1103.4,1269.1 L1107.7,1272.2 L1112.0,1275.4 L1116.2,1278.5 L1120.5,1281.7 L1124.7,1284.9 L1128.9,1288.1 L1133.2,1291.3 L1137.4,1294.5 L1141.6,1297.7 L1145.8,1300.9 L1150.1,1304.1 L1154.3,1307.3 L1158.5,1310.6 L1162.7,1313.8 L1166.9,1317.1 L1171.0,1320.3 L1175.2,1323.6 L1179.4,1326.9 L1183.6,1330.2 L1187.8,1333.5 L1191.9,1336.8 L1196.1,1340.1 L1200.2,1343.5 L1204.4,1346.8 L1208.5,1350.1 L1212.7,1353.5 L1216.8,1356.9 L1220.9,1360.2 L1225.1,1363.6 L1229.2,1367.0 L1233.3,1370.4" fill="none" stroke="rgba(0,42,78,0.783)" stroke-width="1.42" stroke-linecap="round"/><path d="M1511.7,571.6 L1509.1,576.1 L1506.4,580.7 L1503.8,585.2 L1501.1,589.8 L1498.4,594.3 L1495.7,598.8 L1493.0,603.4 L1490.3,607.9 L1487.6,612.4 L1484.9,616.9 L1482.1,621.4 L1479.4,625.9 L1476.7,630.4 L1473.9,634.9 L1471.2,639.3 L1468.4,643.8 L1465.6,648.2 L1462.8,652.7 L1460.1,657.1 L1457.3,661.6 L1454.5,666.0 L1451.7,670.4 L1448.8,674.9 L1446.0,679.3 L1443.2,683.7 L1440.3,688.1 L1437.5,692.5 L1434.6,696.9 L1431.8,701.2 L1428.9,705.6 L1426.0,710.0 L1423.2,714.3 L1420.3,718.7 L1417.4,723.0 L1414.5,727.4 L1411.5,731.7 L1408.6,736.1 L1405.7,740.4 L1402.8,744.7 L1400.5,748.0" fill="none" stroke="rgba(0,42,78,0.786)" stroke-width="1.44" stroke-linecap="round" stroke-dasharray="7.0 6.7"/><path d="M1400.5,748.0 L1399.8,749.0 L1396.9,753.3 L1393.9,757.6 L1390.9,761.9 L1388.0,766.2 L1385.0,770.5 L1382.0,774.7 L1379.0,779.0 L1376.0,783.2 L1373.0,787.5 L1370.0,791.7 L1366.9,796.0 L1363.9,800.2 L1360.9,804.4 L1357.8,808.7 L1354.8,812.9 L1351.7,817.1 L1348.6,821.3 L1345.6,825.5 L1342.5,829.7 L1339.4,833.8 L1336.3,838.0 L1333.2,842.2 L1330.1,846.3 L1326.9,850.5 L1323.8,854.6 L1320.7,858.8 L1317.5,862.9 L1314.4,867.0 L1311.2,871.2 L1308.0,875.3 L1304.9,879.4 L1301.7,883.5 L1298.5,887.6 L1295.3,891.7 L1292.1,895.8 L1288.9,899.8 L1285.7,903.9 L1282.4,908.0 L1279.2,912.0 L1275.9,916.1 L1272.7,920.1 L1269.4,924.2 L1266.2,928.2 L1262.9,932.2 L1259.6,936.2 L1256.3,940.3 L1253.0,944.3 L1249.7,948.3 L1246.4,952.3 L1243.1,956.2 L1239.8,960.2 L1236.5,964.2 L1233.1,968.2 L1229.8,972.1 L1226.4,976.1 L1223.1,980.0 L1219.7,984.0 L1216.3,987.9 L1212.9,991.8 L1209.5,995.7 L1206.1,999.7 L1202.7,1003.6 L1199.3,1007.5 L1195.9,1011.4 L1192.5,1015.3 L1189.0,1019.1 L1185.6,1023.0 L1182.1,1026.9 L1178.7,1030.7 L1175.2,1034.6 L1171.7,1038.5 L1168.3,1042.3 L1164.8,1046.1 L1161.3,1050.0 L1157.8,1053.8 L1154.3,1057.6 L1150.7,1061.4 L1147.2,1065.2 L1143.7,1069.0 L1140.1,1072.8 L1136.6,1076.6 L1133.0,1080.4 L1129.5,1084.2 L1125.9,1087.9 L1122.3,1091.7 L1118.7,1095.4 L1115.1,1099.2 L1111.5,1102.9 L1107.9,1106.6 L1104.3,1110.4 L1100.7,1114.1 L1097.1,1117.8 L1093.4,1121.5 L1089.8,1125.2 L1086.1,1128.9 L1082.5,1132.6 L1078.8,1136.3 L1075.1,1140.0 L1071.4,1143.6 L1067.7,1147.3 L1064.0,1150.9 L1060.3,1154.6 L1056.6,1158.2 L1052.9,1161.9 L1049.2,1165.5 L1045.4,1169.1 L1041.7,1172.8 L1038.0,1176.4 L1034.2,1180.0 L1030.4,1183.6 L1026.7,1187.2 L1022.9,1190.7 L1019.1,1194.3 L1015.3,1197.9 L1011.5,1201.5 L1007.7,1205.0 L1003.9,1208.6 L1000.0,1212.1 L996.2,1215.7 L992.4,1219.2 L988.5,1222.7 L984.7,1226.2 L980.8,1229.7 L976.9,1233.3 L973.1,1236.8 L969.2,1240.2 L965.3,1243.7 L961.4,1247.2 L957.5,1250.7 L953.6,1254.2 L949.6,1257.6 L945.7,1261.1 L941.8,1264.5 L937.8,1268.0 L933.9,1271.4 L929.9,1274.8 L926.0,1278.3 L922.0,1281.7 L918.0,1285.1 L914.0,1288.5 L910.0,1291.9 L906.0,1295.3 L902.0,1298.7 L898.0,1302.0 L894.0,1305.4 L889.9,1308.8 L885.9,1312.1 L881.8,1315.5 L877.8,1318.8 L873.7,1322.2 L869.6,1325.5 L865.6,1328.8 L861.5,1332.1 L857.4,1335.5 L853.3,1338.8 L849.2,1342.1 L845.1,1345.4" fill="none" stroke="rgba(0,42,78,0.786)" stroke-width="1.44" stroke-linecap="round"/><path d="M1770.1,868.2 L1766.0,871.6 L1761.9,875.0 L1757.8,878.4 L1753.6,881.8 L1749.5,885.2 L1745.4,888.6 L1741.3,891.9 L1737.1,895.3 L1733.0,898.7 L1728.8,902.0 L1724.7,905.3 L1720.5,908.7 L1716.4,912.0 L1712.2,915.3 L1708.0,918.6 L1703.9,921.9 L1699.7,925.2 L1695.5,928.4 L1691.3,931.7 L1687.1,935.0 L1682.9,938.2 L1678.7,941.5 L1674.5,944.7 L1670.3,947.9 L1666.1,951.1 L1661.8,954.3 L1657.6,957.5 L1653.4,960.7 L1649.1,963.9 L1644.9,967.1 L1640.7,970.3 L1636.4,973.4 L1632.1,976.6 L1627.9,979.7 L1623.6,982.8 L1619.3,985.9 L1615.1,989.1 L1610.8,992.2 L1606.5,995.2 L1603.2,997.6" fill="none" stroke="rgba(0,42,78,0.789)" stroke-width="1.46" stroke-linecap="round" stroke-dasharray="7.0 6.7"/><path d="M1603.2,997.6 L1602.2,998.3 L1597.9,1001.4 L1593.6,1004.5 L1589.3,1007.5 L1585.0,1010.6 L1580.7,1013.6 L1576.4,1016.7 L1572.0,1019.7 L1567.7,1022.7 L1563.4,1025.7 L1559.0,1028.7 L1554.7,1031.7 L1550.3,1034.7 L1546.0,1037.7 L1541.6,1040.6 L1537.3,1043.6 L1532.9,1046.5 L1528.5,1049.5 L1524.1,1052.4 L1519.8,1055.3 L1515.4,1058.2 L1511.0,1061.1 L1506.6,1064.0 L1502.2,1066.9 L1497.8,1069.8 L1493.4,1072.7 L1488.9,1075.5 L1484.5,1078.4 L1480.1,1081.2 L1475.7,1084.1 L1471.2,1086.9 L1466.8,1089.7 L1462.3,1092.5 L1457.9,1095.3 L1453.4,1098.1 L1449.0,1100.9 L1444.5,1103.7 L1440.0,1106.4 L1435.6,1109.2 L1431.1,1111.9 L1426.6,1114.7 L1422.1,1117.4 L1417.6,1120.1 L1413.1,1122.8 L1408.6,1125.5 L1404.1,1128.2 L1399.6,1130.9 L1395.1,1133.6 L1390.6,1136.3 L1386.0,1138.9 L1381.5,1141.6 L1377.0,1144.2 L1372.4,1146.9 L1367.9,1149.5 L1363.3,1152.1 L1358.8,1154.7 L1354.2,1157.3 L1349.6,1159.9 L1345.1,1162.5 L1340.5,1165.1 L1335.9,1167.7 L1331.3,1170.2 L1326.7,1172.8 L1322.1,1175.3 L1317.5,1177.8 L1312.9,1180.4 L1308.3,1182.9 L1303.7,1185.4 L1299.1,1187.9 L1294.5,1190.4 L1289.8,1192.8 L1285.2,1195.3 L1280.6,1197.8 L1275.9,1200.2 L1271.3,1202.7 L1266.6,1205.1 L1261.9,1207.5 L1257.3,1210.0 L1252.6,1212.4 L1247.9,1214.8 L1243.3,1217.2 L1238.6,1219.6 L1233.9,1221.9 L1229.2,1224.3 L1224.5,1226.7 L1219.8,1229.0 L1215.1,1231.4 L1210.4,1233.7 L1205.7,1236.0 L1200.9,1238.3 L1196.2,1240.6 L1191.5,1242.9 L1186.8,1245.2 L1182.0,1247.5 L1177.3,1249.8 L1172.5,1252.0 L1167.8,1254.3 L1163.0,1256.5 L1158.2,1258.8 L1153.5,1261.0 L1148.7,1263.2 L1143.9,1265.4 L1139.1,1267.6 L1134.3,1269.8 L1129.5,1272.0 L1124.7,1274.2 L1119.9,1276.4 L1115.1,1278.5 L1110.3,1280.7 L1105.5,1282.8 L1100.7,1285.0 L1095.9,1287.1 L1091.0,1289.2 L1086.2,1291.3 L1081.3,1293.4 L1076.5,1295.5 L1071.6,1297.6 L1066.8,1299.7 L1061.9,1301.7 L1057.1,1303.8 L1052.2,1305.8 L1047.3,1307.9 L1042.4,1309.9 L1037.5,1311.9 L1032.7,1313.9 L1027.8,1315.9 L1022.9,1317.9 L1018.0,1319.9 L1013.0,1321.9 L1008.1,1323.9 L1003.2,1325.8 L998.3,1327.8 L993.4,1329.7 L988.4,1331.7 L983.5,1333.6 L978.5,1335.5 L973.6,1337.4 L968.6,1339.3 L963.7,1341.2 L958.7,1343.1 L953.7,1345.0 L948.8,1346.8 L943.8,1348.7 L938.8,1350.5 L933.8,1352.4 L928.8,1354.2 L923.8,1356.0 L918.8,1357.8 L913.8,1359.7 L908.8,1361.4 L903.8,1363.2 L898.8,1365.0 L893.8,1366.8 L888.7,1368.5 L883.7,1370.3 L878.6,1372.0 L873.6,1373.8 L868.5,1375.5" fill="none" stroke="rgba(0,42,78,0.789)" stroke-width="1.46" stroke-linecap="round"/><path d="M1025.2,464.4 L1025.0,469.0 L1024.7,473.6 L1024.5,478.2 L1024.2,482.8 L1023.9,487.4 L1023.7,492.0 L1023.4,496.6 L1023.1,501.1 L1022.8,505.7 L1022.5,510.3 L1022.1,514.9 L1021.8,519.4 L1021.5,524.0 L1021.1,528.6 L1020.8,533.1 L1020.4,537.7 L1020.0,542.3 L1019.6,546.8 L1019.2,551.4 L1018.8,555.9 L1018.4,560.5 L1018.0,565.0 L1017.5,569.6 L1017.1,574.1 L1016.7,578.6 L1016.2,583.2 L1015.7,587.7 L1015.2,592.2 L1014.7,596.8 L1014.2,601.3 L1013.7,605.8 L1013.2,610.3 L1012.7,614.9 L1012.2,619.4 L1011.6,623.9 L1011.1,628.4 L1010.5,632.9 L1009.9,637.4 L1009.3,641.9 L1008.9,645.1" fill="none" stroke="rgba(0,42,78,0.800)" stroke-width="1.54" stroke-linecap="round" stroke-dasharray="7.0 6.7"/><path d="M1008.9,645.1 L1008.7,646.4 L1008.1,650.9 L1007.5,655.4 L1006.9,659.9 L1006.3,664.4 L1005.6,668.9 L1005.0,673.4 L1004.3,677.9 L1003.7,682.4 L1003.0,686.8 L1002.3,691.3 L1001.6,695.8 L1000.9,700.3 L1000.2,704.7 L999.5,709.2 L998.8,713.7 L998.0,718.1 L997.3,722.6 L996.5,727.0 L995.7,731.5 L995.0,736.0 L994.2,740.4 L993.4,744.8 L992.6,749.3 L991.8,753.7 L990.9,758.2 L990.1,762.6 L989.3,767.1 L988.4,771.5 L987.6,775.9 L986.7,780.3 L985.8,784.8 L984.9,789.2 L984.0,793.6 L983.1,798.0 L982.2,802.5 L981.3,806.9 L980.3,811.3 L979.4,815.7 L978.4,820.1 L977.5,824.5 L976.5,828.9 L975.5,833.3 L974.5,837.7 L973.5,842.1 L972.5,846.5 L971.5,850.9 L970.5,855.3 L969.4,859.6 L968.4,864.0 L967.3,868.4 L966.3,872.8 L965.2,877.1 L964.1,881.5 L963.0,885.9 L961.9,890.3 L960.8,894.6 L959.7,899.0 L958.6,903.3 L957.4,907.7 L956.3,912.1 L955.1,916.4 L954.0,920.8 L952.8,925.1 L951.6,929.5 L950.4,933.8 L949.2,938.1 L948.0,942.5 L946.8,946.8 L945.5,951.1 L944.3,955.5 L943.1,959.8 L941.8,964.1 L940.5,968.4 L939.2,972.8 L938.0,977.1 L936.7,981.4 L935.4,985.7 L934.0,990.0 L932.7,994.3 L931.4,998.6 L930.0,1002.9 L928.7,1007.2 L927.3,1011.5 L926.0,1015.8 L924.6,1020.1 L923.2,1024.4 L921.8,1028.7 L920.4,1033.0 L919.0,1037.3 L917.6,1041.6 L916.1,1045.8 L914.7,1050.1 L913.2,1054.4 L911.8,1058.7 L910.3,1062.9 L908.8,1067.2 L907.3,1071.5 L905.8,1075.7 L904.3,1080.0 L902.8,1084.2 L901.3,1088.5 L899.7,1092.7 L898.2,1097.0 L896.6,1101.2 L895.1,1105.5 L893.5,1109.7 L891.9,1114.0 L890.3,1118.2 L888.7,1122.4 L887.1,1126.7 L885.5,1130.9 L883.8,1135.1 L882.2,1139.4 L880.6,1143.6 L878.9,1147.8 L877.2,1152.0 L875.6,1156.2 L873.9,1160.4 L872.2,1164.7 L870.5,1168.9 L868.8,1173.1 L867.0,1177.3 L865.3,1181.5 L863.6,1185.7 L861.8,1189.9 L860.1,1194.1 L858.3,1198.2 L856.5,1202.4 L854.7,1206.6 L852.9,1210.8 L851.1,1215.0 L849.3,1219.2 L847.5,1223.3 L845.7,1227.5 L843.8,1231.7 L842.0,1235.9 L840.1,1240.0 L838.2,1244.2 L836.4,1248.3 L834.5,1252.5 L832.6,1256.7 L830.7,1260.8 L828.7,1265.0 L826.8,1269.1 L824.9,1273.3 L822.9,1277.4 L821.0,1281.5 L819.0,1285.7 L817.1,1289.8 L815.1,1294.0 L813.1,1298.1 L811.1,1302.2 L809.1,1306.3 L807.1,1310.5 L805.0,1314.6 L803.0,1318.7" fill="none" stroke="rgba(0,42,78,0.800)" stroke-width="1.54" stroke-linecap="round"/><path d="M549.4,591.6 L551.2,595.1 L553.1,598.6 L555.0,602.1 L556.8,605.6 L558.7,609.0 L560.5,612.5 L562.3,616.0 L564.1,619.5 L565.9,623.0 L567.7,626.5 L569.5,630.0 L571.3,633.5 L573.1,637.1 L574.8,640.6 L576.6,644.1 L578.3,647.6 L580.1,651.1 L581.8,654.6 L583.5,658.2 L585.2,661.7 L586.9,665.2 L588.6,668.7 L590.3,672.3 L591.9,675.8 L593.6,679.4 L595.3,682.9 L596.9,686.4 L598.5,690.0 L600.2,693.5 L601.8,697.1 L603.4,700.6 L605.0,704.2 L606.6,707.7 L608.2,711.3 L609.7,714.9 L611.3,718.4 L612.9,722.0 L614.4,725.6 L615.9,729.1 L616.9,731.4" fill="none" stroke="rgba(0,42,78,0.817)" stroke-width="1.66" stroke-linecap="round" stroke-dasharray="6.8 6.9"/><path d="M616.9,731.4 L617.5,732.7 L619.0,736.3 L620.5,739.9 L622.0,743.5 L623.5,747.0 L625.0,750.6 L626.4,754.2 L627.9,757.8 L629.4,761.4 L630.8,765.0 L632.2,768.6 L633.7,772.2 L635.1,775.8 L636.5,779.4 L637.9,783.0 L639.3,786.6 L640.7,790.2 L642.1,793.8 L643.4,797.5 L644.8,801.1 L646.1,804.7 L647.5,808.3 L648.8,811.9 L650.1,815.6 L651.4,819.2 L652.7,822.8 L654.0,826.5 L655.3,830.1 L656.6,833.8 L657.8,837.4 L659.1,841.0 L660.4,844.7 L661.6,848.3 L662.8,852.0 L664.0,855.6 L665.3,859.3 L666.5,863.0 L667.7,866.6 L668.8,870.3 L670.0,874.0 L671.2,877.6 L672.3,881.3 L673.5,885.0 L674.6,888.6 L675.8,892.3 L676.9,896.0 L678.0,899.7 L679.1,903.4 L680.2,907.1 L681.3,910.8 L682.4,914.4 L683.4,918.1 L684.5,921.8 L685.6,925.5 L686.6,929.2 L687.6,932.9 L688.7,936.6 L689.7,940.4 L690.7,944.1 L691.7,947.8 L692.7,951.5 L693.6,955.2 L694.6,958.9 L695.6,962.7 L696.5,966.4 L697.5,970.1 L698.4,973.9 L699.3,977.6 L700.2,981.3 L701.2,985.1 L702.1,988.8 L702.9,992.5 L703.8,996.3 L704.7,1000.0 L705.6,1003.8 L706.4,1007.5 L707.3,1011.3 L708.1,1015.0 L708.9,1018.8 L709.7,1022.6 L710.5,1026.3 L711.3,1030.1 L712.1,1033.9 L712.9,1037.6 L713.7,1041.4 L714.5,1045.2 L715.2,1049.0 L716.0,1052.7 L716.7,1056.5 L717.4,1060.3 L718.1,1064.1 L718.8,1067.9 L719.6,1071.7 L720.2,1075.5 L720.9,1079.3 L721.6,1083.1 L722.3,1086.9 L722.9,1090.7 L723.6,1094.5 L724.2,1098.3 L724.8,1102.1 L725.5,1105.9 L726.1,1109.7 L726.7,1113.6 L727.3,1117.4 L727.8,1121.2 L728.4,1125.0 L729.0,1128.9 L729.5,1132.7 L730.1,1136.5 L730.6,1140.4 L731.2,1144.2 L731.7,1148.0 L732.2,1151.9 L732.7,1155.7 L733.2,1159.6 L733.7,1163.4 L734.2,1167.3 L734.6,1171.1 L735.1,1175.0 L735.5,1178.8 L736.0,1182.7 L736.4,1186.6 L736.8,1190.4 L737.2,1194.3 L737.6,1198.2 L738.0,1202.0 L738.4,1205.9 L738.8,1209.8 L739.2,1213.7 L739.5,1217.6 L739.9,1221.5 L740.2,1225.3 L740.6,1229.2 L740.9,1233.1 L741.2,1237.0 L741.5,1240.9 L741.8,1244.8 L742.1,1248.7 L742.4,1252.6 L742.6,1256.5 L742.9,1260.4 L743.1,1264.3 L743.4,1268.3 L743.6,1272.2 L743.8,1276.1 L744.1,1280.0 L744.3,1283.9 L744.5,1287.9 L744.7,1291.8 L744.8,1295.7 L745.0,1299.7 L745.2,1303.6 L745.3,1307.5 L745.5,1311.5 L745.6,1315.4" fill="none" stroke="rgba(0,42,78,0.817)" stroke-width="1.66" stroke-linecap="round"/><path d="M987.3,444.4 L984.4,447.8 L981.5,451.1 L978.6,454.5 L975.6,457.8 L972.7,461.2 L969.8,464.5 L966.9,467.9 L964.0,471.3 L961.1,474.6 L958.2,478.0 L955.3,481.3 L952.4,484.7 L949.4,488.1 L946.5,491.4 L943.6,494.8 L940.7,498.1 L937.8,501.5 L934.9,504.9 L932.0,508.2 L929.1,511.6 L926.2,514.9 L923.2,518.3 L920.3,521.7 L917.4,525.0 L914.5,528.4 L911.6,531.7 L908.7,535.1 L905.8,538.4 L902.9,541.8 L900.0,545.2 L897.1,548.5 L894.1,551.9 L891.2,555.2 L888.3,558.6 L885.4,562.0 L882.5,565.3 L879.6,568.7 L876.7,572.0 L873.8,575.4 L870.9,578.8" fill="none" stroke="rgba(0,42,78,0.820)" stroke-width="1.73" stroke-linecap="round" stroke-dasharray="6.8 6.9"/><path d="M870.9,578.8 L870.9,578.8 L867.9,582.1 L865.0,585.5 L862.1,588.8 L859.2,592.2 L856.3,595.5 L853.4,598.9 L850.5,602.3 L847.6,605.6 L844.7,609.0 L841.7,612.3 L838.8,615.7 L835.9,619.1 L833.0,622.4 L830.1,625.8 L827.2,629.1 L824.3,632.5 L821.4,635.9 L818.5,639.2 L815.5,642.6 L812.6,645.9 L809.7,649.3 L806.8,652.7 L803.9,656.0 L801.0,659.4 L798.1,662.7 L795.2,666.1 L792.3,669.4 L789.4,672.8 L786.4,676.2 L783.5,679.5 L780.6,682.9 L777.7,686.2 L774.8,689.6 L771.9,693.0 L769.0,696.3 L766.1,699.7 L763.2,703.0 L760.2,706.4 L757.3,709.8 L754.4,713.1 L751.5,716.5 L748.6,719.8 L745.7,723.2 L742.8,726.5 L739.9,729.9 L737.0,733.3 L734.0,736.6 L731.1,740.0 L728.2,743.3 L725.3,746.7 L722.4,750.1 L719.5,753.4 L716.6,756.8 L713.7,760.1 L710.8,763.5 L707.9,766.9 L704.9,770.2 L702.0,773.6 L699.1,776.9 L696.2,780.3 L693.3,783.7 L690.4,787.0 L687.5,790.4 L684.6,793.7 L681.7,797.1 L678.7,800.4 L675.8,803.8 L672.9,807.2 L670.0,810.5 L667.1,813.9 L664.2,817.2 L661.3,820.6 L658.4,824.0 L655.5,827.3 L652.5,830.7 L649.6,834.0 L646.7,837.4 L643.8,840.8 L640.9,844.1 L638.0,847.5 L635.1,850.8 L632.2,854.2 L629.3,857.6 L626.3,860.9 L623.4,864.3 L620.5,867.6 L617.6,871.0 L614.7,874.3 L611.8,877.7 L608.9,881.1 L606.0,884.4 L603.1,887.8 L600.2,891.1 L597.2,894.5 L594.3,897.9 L591.4,901.2 L588.5,904.6 L585.6,907.9 L582.7,911.3 L579.8,914.7 L576.9,918.0 L574.0,921.4 L571.0,924.7 L568.1,928.1 L565.2,931.4 L562.3,934.8 L559.4,938.2 L556.5,941.5 L553.6,944.9 L550.7,948.2 L547.8,951.6 L544.8,955.0 L541.9,958.3 L539.0,961.7 L536.1,965.0 L533.2,968.4 L530.3,971.8 L527.4,975.1 L524.5,978.5 L521.6,981.8 L518.6,985.2 L515.7,988.6 L512.8,991.9 L509.9,995.3 L507.0,998.6 L504.1,1002.0 L501.2,1005.3 L498.3,1008.7 L495.4,1012.1 L492.5,1015.4 L489.5,1018.8 L486.6,1022.1 L483.7,1025.5 L480.8,1028.9 L477.9,1032.2 L475.0,1035.6 L472.1,1038.9 L469.2,1042.3 L466.3,1045.7 L463.3,1049.0 L460.4,1052.4 L457.5,1055.7 L454.6,1059.1 L451.7,1062.4 L448.8,1065.8 L445.9,1069.2 L443.0,1072.5 L440.1,1075.9 L437.1,1079.2 L434.2,1082.6 L431.3,1086.0 L428.4,1089.3 L425.5,1092.7 L422.6,1096.0 L419.7,1099.4 L416.8,1102.8" fill="none" stroke="rgba(0,42,78,0.820)" stroke-width="1.73" stroke-linecap="round"/><path d="M832.7,1355.2 L835.3,1350.6 L838.0,1346.1 L840.6,1341.5 L843.3,1337.0 L846.0,1332.5 L848.7,1327.9 L851.4,1323.4 L854.1,1318.9 L856.8,1314.4 L859.5,1309.9 L862.2,1305.4 L865.0,1300.9 L867.7,1296.4 L870.5,1291.9 L873.2,1287.5 L876.0,1283.0 L878.8,1278.5 L881.5,1274.1 L884.3,1269.6 L887.1,1265.2 L889.9,1260.8 L892.7,1256.3 L895.6,1251.9 L898.4,1247.5 L901.2,1243.1 L904.0,1238.7 L906.9,1234.3 L909.7,1229.9 L912.6,1225.5 L915.5,1221.2 L918.4,1216.8 L921.2,1212.4 L924.1,1208.1 L927.0,1203.7 L929.9,1199.4 L932.9,1195.0 L935.8,1190.7 L938.7,1186.4 L941.6,1182.1 L943.9,1178.8" fill="none" stroke="rgba(0,42,78,0.820)" stroke-width="1.75" stroke-linecap="round" stroke-dasharray="6.7 7.0"/><path d="M943.9,1178.8 L944.6,1177.8 L947.5,1173.5 L950.5,1169.2 L953.5,1164.9 L956.4,1160.6 L959.4,1156.3 L962.4,1152.0 L965.4,1147.8 L968.4,1143.5 L971.4,1139.3 L974.4,1135.0 L977.5,1130.8 L980.5,1126.6 L983.5,1122.3 L986.6,1118.1 L989.6,1113.9 L992.7,1109.7 L995.8,1105.5 L998.8,1101.3 L1001.9,1097.1 L1005.0,1092.9 L1008.1,1088.8 L1011.2,1084.6 L1014.3,1080.4 L1017.5,1076.3 L1020.6,1072.1 L1023.7,1068.0 L1026.9,1063.9 L1030.0,1059.7 L1033.2,1055.6 L1036.4,1051.5 L1039.5,1047.4 L1042.7,1043.3 L1045.9,1039.2 L1049.1,1035.1 L1052.3,1031.0 L1055.5,1026.9 L1058.7,1022.9 L1062.0,1018.8 L1065.2,1014.7 L1068.4,1010.7 L1071.7,1006.6 L1075.0,1002.6 L1078.2,998.6 L1081.5,994.6 L1084.8,990.5 L1088.1,986.5 L1091.4,982.5 L1094.7,978.5 L1098.0,974.5 L1101.3,970.5 L1104.6,966.6 L1107.9,962.6 L1111.3,958.6 L1114.6,954.7 L1118.0,950.7 L1121.3,946.8 L1124.7,942.8 L1128.1,938.9 L1131.5,935.0 L1134.9,931.0 L1138.3,927.1 L1141.7,923.2 L1145.1,919.3 L1148.5,915.4 L1151.9,911.5 L1155.4,907.6 L1158.8,903.8 L1162.3,899.9 L1165.7,896.0 L1169.2,892.2 L1172.7,888.3 L1176.1,884.5 L1179.6,880.6 L1183.1,876.8 L1186.6,873.0 L1190.1,869.2 L1193.7,865.4 L1197.2,861.6 L1200.7,857.8 L1204.3,854.0 L1207.8,850.2 L1211.4,846.4 L1214.9,842.6 L1218.5,838.9 L1222.1,835.1 L1225.7,831.3 L1229.3,827.6 L1232.9,823.9 L1236.5,820.1 L1240.1,816.4 L1243.7,812.7 L1247.3,809.0 L1251.0,805.3 L1254.6,801.6 L1258.3,797.9 L1261.9,794.2 L1265.6,790.5 L1269.3,786.8 L1273.0,783.1 L1276.6,779.5 L1280.3,775.8 L1284.1,772.2 L1287.8,768.5 L1291.5,764.9 L1295.2,761.3 L1298.9,757.6 L1302.7,754.0 L1306.4,750.4 L1310.2,746.8 L1314.0,743.2 L1317.7,739.6 L1321.5,736.0 L1325.3,732.5 L1329.1,728.9 L1332.9,725.3 L1336.7,721.8 L1340.5,718.2 L1344.4,714.7 L1348.2,711.1 L1352.0,707.6 L1355.9,704.1 L1359.7,700.5 L1363.6,697.0 L1367.5,693.5 L1371.3,690.0 L1375.2,686.5 L1379.1,683.0 L1383.0,679.6 L1386.9,676.1 L1390.8,672.6 L1394.8,669.2 L1398.7,665.7 L1402.6,662.2 L1406.6,658.8 L1410.5,655.4 L1414.5,651.9 L1418.4,648.5 L1422.4,645.1 L1426.4,641.7 L1430.4,638.3 L1434.4,634.9 L1438.4,631.5 L1442.4,628.1 L1446.4,624.7 L1450.4,621.4 L1454.5,618.0 L1458.5,614.6 L1462.6,611.3 L1466.6,607.9 L1470.7,604.6 L1474.8,601.3 L1478.8,597.9 L1482.9,594.6 L1487.0,591.3 L1491.1,588.0 L1495.2,584.7 L1499.3,581.4" fill="none" stroke="rgba(0,42,78,0.820)" stroke-width="1.75" stroke-linecap="round"/><path d="M1661.1,1188.0 L1655.0,1189.0 L1648.9,1190.0 L1642.7,1191.0 L1636.6,1192.0 L1630.5,1193.0 L1624.4,1194.0 L1618.3,1194.9 L1612.2,1195.9 L1606.0,1196.8 L1599.9,1197.8 L1593.8,1198.7 L1587.7,1199.6 L1581.6,1200.5 L1575.5,1201.4 L1569.3,1202.3 L1563.2,1203.1 L1557.1,1204.0 L1551.0,1204.8 L1544.9,1205.7 L1538.8,1206.5 L1532.7,1207.3 L1526.5,1208.1 L1520.4,1208.9 L1514.3,1209.7 L1508.2,1210.5 L1502.1,1211.3 L1496.0,1212.0 L1489.8,1212.8 L1483.7,1213.5 L1477.6,1214.2 L1471.5,1214.9 L1465.4,1215.6 L1459.3,1216.3 L1453.1,1217.0 L1447.0,1217.7 L1440.9,1218.4 L1434.8,1219.0 L1428.7,1219.7 L1422.6,1220.3 L1417.5,1220.8" fill="none" stroke="rgba(0,42,78,0.820)" stroke-width="1.78" stroke-linecap="round" stroke-dasharray="6.7 7.0"/><path d="M1417.5,1220.8 L1416.5,1220.9 L1410.3,1221.5 L1404.2,1222.1 L1398.1,1222.7 L1392.0,1223.3 L1385.9,1223.9 L1379.8,1224.4 L1373.6,1225.0 L1367.5,1225.5 L1361.4,1226.1 L1355.3,1226.6 L1349.2,1227.1 L1343.1,1227.6 L1336.9,1228.1 L1330.8,1228.6 L1324.7,1229.0 L1318.6,1229.5 L1312.5,1229.9 L1306.4,1230.4 L1300.3,1230.8 L1294.1,1231.2 L1288.0,1231.6 L1281.9,1232.0 L1275.8,1232.4 L1269.7,1232.8 L1263.6,1233.1 L1257.4,1233.5 L1251.3,1233.8 L1245.2,1234.2 L1239.1,1234.5 L1233.0,1234.8 L1226.9,1235.1 L1220.7,1235.4 L1214.6,1235.7 L1208.5,1236.0 L1202.4,1236.2 L1196.3,1236.5 L1190.2,1236.7 L1184.0,1237.0 L1177.9,1237.2 L1171.8,1237.4 L1165.7,1237.6 L1159.6,1237.8 L1153.5,1238.0 L1147.4,1238.1 L1141.2,1238.3 L1135.1,1238.4 L1129.0,1238.6 L1122.9,1238.7 L1116.8,1238.8 L1110.7,1238.9 L1104.5,1239.0 L1098.4,1239.1 L1092.3,1239.2 L1086.2,1239.3 L1080.1,1239.3 L1074.0,1239.4 L1067.8,1239.4 L1061.7,1239.4 L1055.6,1239.4 L1049.5,1239.4 L1043.4,1239.4 L1037.3,1239.4 L1031.2,1239.4 L1025.0,1239.4 L1018.9,1239.3 L1012.8,1239.3 L1006.7,1239.2 L1000.6,1239.1 L994.5,1239.0 L988.3,1238.9 L982.2,1238.8 L976.1,1238.7 L970.0,1238.6 L963.9,1238.4 L957.8,1238.3 L951.6,1238.1 L945.5,1238.0 L939.4,1237.8 L933.3,1237.6 L927.2,1237.4 L921.1,1237.2 L915.0,1237.0 L908.8,1236.7 L902.7,1236.5 L896.6,1236.2 L890.5,1236.0 L884.4,1235.7 L878.3,1235.4 L872.1,1235.1 L866.0,1234.8 L859.9,1234.5 L853.8,1234.2 L847.7,1233.8 L841.6,1233.5 L835.4,1233.1 L829.3,1232.8 L823.2,1232.4 L817.1,1232.0 L811.0,1231.6 L804.9,1231.2 L798.7,1230.8 L792.6,1230.4 L786.5,1229.9 L780.4,1229.5 L774.3,1229.0 L768.2,1228.6 L762.1,1228.1 L755.9,1227.6 L749.8,1227.1 L743.7,1226.6 L737.6,1226.1 L731.5,1225.5 L725.4,1225.0 L719.2,1224.4 L713.1,1223.9 L707.0,1223.3 L700.9,1222.7 L694.8,1222.1 L688.7,1221.5 L682.5,1220.9 L676.4,1220.3 L670.3,1219.7 L664.2,1219.0 L658.1,1218.4 L652.0,1217.7 L645.9,1217.0 L639.7,1216.3 L633.6,1215.6 L627.5,1214.9 L621.4,1214.2 L615.3,1213.5 L609.2,1212.8 L603.0,1212.0 L596.9,1211.3 L590.8,1210.5 L584.7,1209.7 L578.6,1208.9 L572.5,1208.1 L566.3,1207.3 L560.2,1206.5 L554.1,1205.7 L548.0,1204.8 L541.9,1204.0 L535.8,1203.1 L529.7,1202.3 L523.5,1201.4 L517.4,1200.5 L511.3,1199.6 L505.2,1198.7 L499.1,1197.8 L493.0,1196.8 L486.8,1195.9 L480.7,1194.9 L474.6,1194.0 L468.5,1193.0 L462.4,1192.0 L456.3,1191.0" fill="none" stroke="rgba(0,42,78,0.820)" stroke-width="1.78" stroke-linecap="round"/><path d="M957.2,395.0 L955.5,395.4 L953.8,395.8 L952.1,396.2 L950.4,396.6 L948.7,397.0 L947.0,397.5 L945.3,397.9 L943.6,398.3 L941.9,398.7 L940.2,399.1 L938.5,399.5 L936.8,399.9 L935.1,400.3 L933.4,400.8 L931.7,401.2 L930.0,401.6 L928.3,402.0 L926.6,402.4 L924.9,402.8 L923.2,403.2 L921.5,403.6 L919.8,404.1 L918.1,404.5 L916.4,404.9 L914.7,405.3 L913.0,405.7 L911.3,406.1 L909.6,406.5 L907.9,406.9 L906.2,407.3 L904.5,407.8 L902.8,408.2 L901.1,408.6 L899.4,409.0 L897.7,409.4 L896.0,409.8 L894.3,410.2 L892.6,410.6 L890.9,411.1 L889.2,411.5 L889.2,411.5" fill="none" stroke="rgba(0,42,78,0.820)" stroke-width="1.84" stroke-linecap="round" stroke-dasharray="6.7 7.0"/><path d="M889.2,411.5 L887.5,411.9 L885.8,412.3 L884.1,412.7 L882.4,413.1 L880.7,413.5 L879.0,413.9 L877.3,414.4 L875.6,414.8 L873.9,415.2 L872.2,415.6 L870.5,416.0 L868.8,416.4 L867.1,416.8 L865.4,417.2 L863.7,417.6 L862.0,418.1 L860.3,418.5 L858.6,418.9 L856.9,419.3 L855.2,419.7 L853.5,420.1 L851.8,420.5 L850.1,420.9 L848.4,421.4 L846.7,421.8 L845.0,422.2 L843.3,422.6 L841.6,423.0 L839.9,423.4 L838.2,423.8 L836.5,424.2 L834.8,424.7 L833.1,425.1 L831.5,425.5 L829.8,425.9 L828.1,426.3 L826.4,426.7 L824.7,427.1 L823.0,427.5 L821.3,427.9 L819.6,428.4 L817.9,428.8 L816.2,429.2 L814.5,429.6 L812.8,430.0 L811.1,430.4 L809.4,430.8 L807.7,431.2 L806.0,431.7 L804.3,432.1 L802.6,432.5 L800.9,432.9 L799.2,433.3 L797.5,433.7 L795.8,434.1 L794.1,434.5 L792.4,435.0 L790.7,435.4 L789.0,435.8 L787.3,436.2 L785.6,436.6 L783.9,437.0 L782.2,437.4 L780.5,437.8 L778.8,438.2 L777.1,438.7 L775.4,439.1 L773.7,439.5 L772.0,439.9 L770.3,440.3 L768.6,440.7 L766.9,441.1 L765.2,441.5 L763.5,442.0 L761.8,442.4 L760.1,442.8 L758.4,443.2 L756.7,443.6 L755.0,444.0 L753.3,444.4 L751.6,444.8 L749.9,445.3 L748.2,445.7 L746.5,446.1 L744.8,446.5 L743.1,446.9 L741.4,447.3 L739.7,447.7 L738.0,448.1 L736.3,448.5 L734.6,449.0 L732.9,449.4 L731.2,449.8 L729.5,450.2 L727.8,450.6 L726.1,451.0 L724.4,451.4 L722.7,451.8 L721.0,452.3 L719.3,452.7 L717.6,453.1 L715.9,453.5 L714.2,453.9 L712.5,454.3 L710.8,454.7 L709.1,455.1 L707.4,455.6 L705.7,456.0 L704.0,456.4 L702.3,456.8 L700.6,457.2 L698.9,457.6 L697.2,458.0 L695.5,458.4 L693.8,458.8 L692.1,459.3 L690.4,459.7 L688.7,460.1 L687.0,460.5 L685.3,460.9 L683.6,461.3 L681.9,461.7 L680.2,462.1 L678.5,462.6 L676.8,463.0 L675.1,463.4 L673.4,463.8 L671.7,464.2 L670.0,464.6 L668.3,465.0 L666.6,465.4 L664.9,465.9 L663.2,466.3 L661.6,466.7 L659.9,467.1 L658.2,467.5 L656.5,467.9 L654.8,468.3 L653.1,468.7 L651.4,469.1 L649.7,469.6 L648.0,470.0 L646.3,470.4 L644.6,470.8 L642.9,471.2 L641.2,471.6 L639.5,472.0 L637.8,472.4 L636.1,472.9" fill="none" stroke="rgba(0,42,78,0.820)" stroke-width="1.84" stroke-linecap="round"/><path d="M462.8,571.6 L462.7,573.0 L462.5,574.4 L462.3,575.8 L462.2,577.2 L462.0,578.6 L461.8,580.0 L461.6,581.4 L461.4,582.8 L461.2,584.2 L460.9,585.5 L460.7,586.9 L460.5,588.3 L460.2,589.6 L460.0,591.0 L459.8,592.3 L459.5,593.7 L459.2,595.0 L459.0,596.3 L458.7,597.7 L458.4,599.0 L458.1,600.3 L457.8,601.6 L457.5,602.9 L457.2,604.2 L456.9,605.5 L456.6,606.8 L456.3,608.1 L456.0,609.4 L455.6,610.6 L455.3,611.9 L454.9,613.2 L454.6,614.4 L454.2,615.7 L453.9,616.9 L453.5,618.1 L453.1,619.4 L452.7,620.6 L452.6,621.2" fill="none" stroke="rgba(0,42,78,0.820)" stroke-width="1.85" stroke-linecap="round" stroke-dasharray="6.6 7.1"/><path d="M452.6,621.2 L452.3,621.8 L452.0,623.1 L451.5,624.3 L451.1,625.5 L450.7,626.7 L450.3,627.9 L449.9,629.1 L449.4,630.3 L449.0,631.4 L448.6,632.6 L448.1,633.8 L447.7,635.0 L447.2,636.1 L446.7,637.3 L446.2,638.4 L445.8,639.6 L445.3,640.7 L444.8,641.8 L444.3,643.0 L443.8,644.1 L443.3,645.2 L442.7,646.3 L442.2,647.4 L441.7,648.5 L441.2,649.6 L440.6,650.7 L440.1,651.8 L439.5,652.9 L438.9,654.0 L438.4,655.0 L437.8,656.1 L437.2,657.2 L436.6,658.2 L436.0,659.3 L435.4,660.3 L434.8,661.3 L434.2,662.4 L433.6,663.4 L433.0,664.4 L432.4,665.4 L431.7,666.5 L431.1,667.5 L430.4,668.5 L429.8,669.5 L429.1,670.5 L428.5,671.4 L427.8,672.4 L427.1,673.4 L426.4,674.4 L425.7,675.3 L425.0,676.3 L424.3,677.2 L423.6,678.2 L422.9,679.1 L422.2,680.1 L421.5,681.0 L420.7,681.9 L420.0,682.8 L419.3,683.8 L418.5,684.7 L417.7,685.6 L417.0,686.5 L416.2,687.4 L415.4,688.3 L414.6,689.1 L413.9,690.0 L413.1,690.9 L412.3,691.8 L411.5,692.6 L410.6,693.5 L409.8,694.3 L409.0,695.2 L408.2,696.0 L407.3,696.9 L406.5,697.7 L405.6,698.5 L404.8,699.3 L403.9,700.2 L403.1,701.0 L402.2,701.8 L401.3,702.6 L400.4,703.4 L399.5,704.2 L398.6,704.9 L397.7,705.7 L396.8,706.5 L395.9,707.3 L395.0,708.0 L394.0,708.8 L393.1,709.5 L392.2,710.3 L391.2,711.0 L390.3,711.7 L389.3,712.5 L388.3,713.2 L387.4,713.9 L386.4,714.6 L385.4,715.3 L384.4,716.0 L383.4,716.7 L382.4,717.4 L381.4,718.1 L380.4,718.8 L379.4,719.5 L378.3,720.2 L377.3,720.8 L376.2,721.5 L375.2,722.1 L374.2,722.8 L373.1,723.4 L372.0,724.1 L371.0,724.7 L369.9,725.3 L368.8,726.0 L367.7,726.6 L366.6,727.2 L365.5,727.8 L364.4,728.4 L363.3,729.0 L362.2,729.6 L361.0,730.2 L359.9,730.8 L358.8,731.3 L357.6,731.9 L356.5,732.5 L355.3,733.0 L354.2,733.6 L353.0,734.1 L351.8,734.7 L350.6,735.2 L349.4,735.7 L348.3,736.3 L347.1,736.8 L345.8,737.3 L344.6,737.8 L343.4,738.3 L342.2,738.8 L341.0,739.3 L339.7,739.8 L338.5,740.3 L337.2,740.8 L336.0,741.3 L334.7,741.7 L333.5,742.2 L332.2,742.7 L330.9,743.1 L329.6,743.6 L328.3,744.0 L327.0,744.4" fill="none" stroke="rgba(0,42,78,0.820)" stroke-width="1.85" stroke-linecap="round"/><path d="M248.3,1196.1 L247.1,1194.8 L245.9,1193.6 L244.6,1192.4 L243.4,1191.3 L242.1,1190.1 L240.8,1189.0 L239.4,1187.9 L238.1,1186.9 L236.7,1185.9 L235.3,1184.9 L233.8,1183.9 L232.4,1183.0 L230.9,1182.1 L229.4,1181.3 L227.9,1180.5 L226.4,1179.7 L224.8,1178.9 L223.2,1178.2 L221.7,1177.6 L220.1,1176.9 L218.4,1176.3 L216.8,1175.8 L215.2,1175.2 L213.5,1174.8 L211.9,1174.3 L210.2,1173.9 L208.5,1173.5 L206.8,1173.2 L205.1,1172.9 L203.4,1172.7 L201.7,1172.4 L200.0,1172.3 L198.3,1172.1 L196.6,1172.0 L194.8,1172.0 L193.1,1172.0 L191.4,1172.0 L189.7,1172.1 L188.0,1172.2 L186.3,1172.3 L184.5,1172.5 L182.8,1172.7 L181.1,1173.0 L179.4,1173.3 L177.8,1173.6 L176.1,1174.0 L174.4,1174.4 L172.7,1174.9 L171.1,1175.4 L169.5,1175.9 L167.8,1176.5 L166.2,1177.1 L164.6,1177.7 L163.1,1178.4 L161.5,1179.1 L159.9,1179.9 L158.4,1180.7 L156.9,1181.5 L155.4,1182.4 L153.9,1183.3 L152.5,1184.2 L151.1,1185.2 L149.7,1186.1 L148.3,1187.2 L146.9,1188.2 L145.6,1189.3 L144.3,1190.4 L143.0,1191.6 L141.7,1192.8 L140.5,1194.0 L139.3,1195.2 L138.2,1196.5 L137.0,1197.8 L135.9,1199.1 L134.8,1200.4 L133.8,1201.8 L132.8,1203.2 L131.8,1204.6 L130.8,1206.0 L129.9,1207.5 L129.0,1208.9 L128.2,1210.4 L127.4,1212.0 L126.6,1213.5 L125.8,1215.0 L125.1,1216.6 L124.5,1218.2 L123.8,1219.8 L123.2,1221.4 L122.7,1223.0 L122.1,1224.7 L121.7,1226.3 L121.2,1228.0 L120.8,1229.7 L120.4,1231.3 L120.1,1233.0 L119.8,1234.7 L119.6,1236.4 L119.3,1238.1 L119.2,1239.8 L119.0,1241.6 L118.9,1243.3 L118.9,1245.0 L118.9,1246.7 L118.9,1248.4 L119.0,1250.2 L119.1,1251.9 L119.2,1253.6 L119.4,1255.3 L119.6,1257.0 L119.9,1258.7 L120.2,1260.4 L120.5,1262.1 L120.9,1263.8 L121.3,1265.4 L121.8,1267.1 L122.3,1268.7 L122.8,1270.4 L123.4,1272.0 L124.0,1273.6 L124.6,1275.2 L125.3,1276.8 L126.0,1278.4 L126.8,1279.9 L127.6,1281.4 L128.4,1282.9 L129.3,1284.4 L130.2,1285.9 L131.1,1287.4 L132.0,1288.8 L133.0,1290.2 L134.1,1291.6 L135.1,1292.9 L136.2,1294.3 L137.3,1295.6 L138.5,1296.8 L139.7,1298.1 L140.9,1299.3 L142.1,1300.5 L143.4,1301.7 L144.7,1302.8 L146.0,1303.9 L147.3,1305.0 L148.7,1306.1 L150.1,1307.1 L151.5,1308.1 L152.9,1309.0 L154.4,1309.9 L155.8,1310.8 L157.3,1311.7 L158.8,1312.5 L160.4,1313.3 L161.9,1314.0 L163.5,1314.7 L165.1,1315.4 L166.7,1316.0 L168.3,1316.6 L169.9,1317.2 L171.6,1317.7 L173.2,1318.2 L174.9,1318.6 L176.5,1319.1 L178.2,1319.4 L179.9,1319.8 L181.6,1320.0 L183.3,1320.3 L185.0,1320.5 L186.7,1320.7 L188.5,1320.8 L190.2,1320.9 L191.9,1321.0 L193.6,1321.0 L195.3,1321.0 L197.1,1320.9 L198.8,1320.8 L200.5,1320.6 L202.2,1320.5 L203.9,1320.2 L205.6,1320.0 L207.3,1319.7 L209.0,1319.3 L210.7,1318.9 L212.3,1318.5 L214.0,1318.1 L215.6,1317.6 L217.3,1317.0 L218.9,1316.5 L220.5,1315.9 L222.1,1315.2 L223.7,1314.5 L225.2,1313.8 L226.8,1313.1 L228.3,1312.3 L229.8,1311.4 L231.3,1310.6 L232.8,1309.7 L234.2,1308.8 L235.7,1307.8 L237.1,1306.8 L238.5,1305.8 L239.8,1304.7 L241.1,1303.6 L242.5,1302.5 L243.7,1301.4 L245.0,1300.2 L246.2,1299.0 L247.4,1297.8 L248.6,1296.5 L249.7,1295.2 L250.8,1293.9 L251.9,1292.6 L253.0,1291.2 L254.0,1289.8 L255.0,1288.4 L255.9,1287.0 L256.8,1285.5 L257.7,1284.0 L258.6,1282.5 L259.4,1281.0 L260.2,1279.5 L260.9,1277.9 L261.6,1276.4 L262.3,1274.8 L262.9,1273.2 L263.5,1271.6 L264.1,1269.9 L264.6,1268.3 L265.1,1266.6 L265.5,1265.0" fill="none" stroke="rgba(0,42,78,0.820)" stroke-width="1.88" stroke-linecap="round"/><path d="M1831.1,1246.2 L1831.1,1248.0 L1831.2,1249.7 L1831.3,1251.4 L1831.4,1253.1 L1831.6,1254.8 L1831.8,1256.5 L1832.1,1258.2 L1832.4,1259.9 L1832.7,1261.6 L1833.1,1263.3 L1833.5,1265.0 L1833.9,1266.6 L1834.4,1268.3 L1834.9,1269.9 L1835.5,1271.6 L1836.1,1273.2 L1836.7,1274.8 L1837.4,1276.4 L1838.1,1277.9 L1838.8,1279.5 L1839.6,1281.0 L1840.4,1282.5 L1841.3,1284.0 L1842.2,1285.5 L1843.1,1287.0 L1844.0,1288.4 L1845.0,1289.8 L1846.0,1291.2 L1847.1,1292.6 L1848.2,1293.9 L1849.3,1295.2 L1850.4,1296.5 L1851.6,1297.8 L1852.8,1299.0 L1854.0,1300.2 L1855.3,1301.4 L1856.5,1302.5 L1857.9,1303.6 L1859.2,1304.7 L1860.5,1305.8 L1861.9,1306.8 L1863.3,1307.8 L1864.8,1308.8 L1866.2,1309.7 L1867.7,1310.6 L1869.2,1311.4 L1870.7,1312.3 L1872.2,1313.1 L1873.8,1313.8 L1875.3,1314.5 L1876.9,1315.2 L1878.5,1315.9 L1880.1,1316.5 L1881.7,1317.0 L1883.4,1317.6 L1885.0,1318.1 L1886.7,1318.5 L1888.3,1318.9 L1890.0,1319.3 L1891.7,1319.7 L1893.4,1320.0 L1895.1,1320.2 L1896.8,1320.5 L1898.5,1320.6 L1900.2,1320.8 L1901.9,1320.9 L1903.7,1321.0 L1905.4,1321.0 L1907.1,1321.0 L1908.8,1320.9 L1910.5,1320.8 L1912.3,1320.7 L1914.0,1320.5 L1915.7,1320.3 L1917.4,1320.0 L1919.1,1319.8 L1920.8,1319.4 L1922.5,1319.1 L1924.1,1318.6 L1925.8,1318.2 L1927.4,1317.7 L1929.1,1317.2 L1930.7,1316.6 L1932.3,1316.0 L1933.9,1315.4 L1935.5,1314.7 L1937.1,1314.0 L1938.6,1313.3 L1940.2,1312.5 L1941.7,1311.7 L1943.2,1310.8 L1944.6,1309.9 L1946.1,1309.0 L1947.5,1308.1 L1948.9,1307.1 L1950.3,1306.1 L1951.7,1305.0 L1953.0,1303.9 L1954.3,1302.8 L1955.6,1301.7 L1956.9,1300.5 L1958.1,1299.3 L1959.3,1298.1 L1960.5,1296.8 L1961.7,1295.6 L1962.8,1294.3 L1963.9,1292.9 L1964.9,1291.6 L1966.0,1290.2 L1967.0,1288.8 L1967.9,1287.4 L1968.8,1285.9 L1969.7,1284.4 L1970.6,1282.9 L1971.4,1281.4 L1972.2,1279.9 L1973.0,1278.4 L1973.7,1276.8 L1974.4,1275.2 L1975.0,1273.6 L1975.6,1272.0 L1976.2,1270.4 L1976.7,1268.7 L1977.2,1267.1 L1977.7,1265.4 L1978.1,1263.8 L1978.5,1262.1 L1978.8,1260.4 L1979.1,1258.7 L1979.4,1257.0 L1979.6,1255.3 L1979.8,1253.6 L1979.9,1251.9 L1980.0,1250.2 L1980.1,1248.4 L1980.1,1246.7 L1980.1,1245.0 L1980.1,1243.3 L1980.0,1241.6 L1979.8,1239.8 L1979.7,1238.1 L1979.4,1236.4 L1979.2,1234.7 L1978.9,1233.0 L1978.6,1231.3 L1978.2,1229.7 L1977.8,1228.0 L1977.3,1226.3 L1976.9,1224.7 L1976.3,1223.0 L1975.8,1221.4 L1975.2,1219.8 L1974.5,1218.2 L1973.9,1216.6 L1973.2,1215.0 L1972.4,1213.5 L1971.6,1212.0 L1970.8,1210.4 L1970.0,1208.9 L1969.1,1207.5 L1968.2,1206.0 L1967.2,1204.6 L1966.2,1203.2 L1965.2,1201.8 L1964.2,1200.4 L1963.1,1199.1 L1962.0,1197.8 L1960.8,1196.5 L1959.7,1195.2 L1958.5,1194.0 L1957.3,1192.8 L1956.0,1191.6 L1954.7,1190.4 L1953.4,1189.3 L1952.1,1188.2 L1950.7,1187.2 L1949.3,1186.1 L1947.9,1185.2 L1946.5,1184.2 L1945.1,1183.3 L1943.6,1182.4 L1942.1,1181.5 L1940.6,1180.7 L1939.1,1179.9 L1937.5,1179.1 L1935.9,1178.4 L1934.4,1177.7 L1932.8,1177.1 L1931.2,1176.5 L1929.5,1175.9 L1927.9,1175.4 L1926.3,1174.9 L1924.6,1174.4 L1922.9,1174.0 L1921.2,1173.6 L1919.6,1173.3 L1917.9,1173.0 L1916.2,1172.7 L1914.5,1172.5 L1912.7,1172.3 L1911.0,1172.2 L1909.3,1172.1 L1907.6,1172.0 L1905.9,1172.0 L1904.2,1172.0 L1902.4,1172.0 L1900.7,1172.1 L1899.0,1172.3 L1897.3,1172.4 L1895.6,1172.7 L1893.9,1172.9 L1892.2,1173.2 L1890.5,1173.5 L1888.8,1173.9 L1887.1,1174.3 L1885.5,1174.8 L1883.8,1175.2 L1882.2,1175.8 L1880.6,1176.3 L1878.9,1176.9 L1877.3,1177.6 L1875.8,1178.2 L1874.2,1178.9 L1872.6,1179.7 L1871.1,1180.5 L1869.6,1181.3 L1868.1,1182.1 L1866.6,1183.0 L1865.2,1183.9" fill="none" stroke="rgba(0,42,78,0.820)" stroke-width="2.01" stroke-linecap="round"/><path d="M865.4,1427.0 L867.3,1426.2 L869.1,1425.3 L871.0,1424.5 L872.8,1423.7 L874.7,1422.9 L876.5,1422.1 L878.3,1421.3 L880.2,1420.5 L882.0,1419.8 L883.9,1419.0 L885.7,1418.3 L887.5,1417.5 L889.4,1416.8 L891.2,1416.1 L893.1,1415.3 L894.9,1414.6 L896.7,1413.9 L898.6,1413.2 L900.4,1412.5 L902.3,1411.9 L904.1,1411.2 L905.9,1410.5 L907.8,1409.9 L909.6,1409.2 L911.5,1408.6 L913.3,1408.0 L915.1,1407.4 L917.0,1406.7 L918.8,1406.1 L920.7,1405.6 L922.5,1405.0 L924.3,1404.4 L926.2,1403.8 L928.0,1403.3 L929.9,1402.7 L931.7,1402.2 L933.5,1401.6 L935.4,1401.1 L936.8,1400.7" fill="none" stroke="rgba(0,42,78,0.820)" stroke-width="2.06" stroke-linecap="round" stroke-dasharray="6.4 7.3"/><path d="M936.8,1400.7 L937.2,1400.6 L939.1,1400.1 L940.9,1399.6 L942.7,1399.1 L944.6,1398.6 L946.4,1398.1 L948.3,1397.7 L950.1,1397.2 L952.0,1396.8 L953.8,1396.3 L955.6,1395.9 L957.5,1395.5 L959.3,1395.0 L961.2,1394.6 L963.0,1394.2 L964.8,1393.8 L966.7,1393.5 L968.5,1393.1 L970.4,1392.7 L972.2,1392.4 L974.0,1392.0 L975.9,1391.7 L977.7,1391.3 L979.6,1391.0 L981.4,1390.7 L983.2,1390.4 L985.1,1390.1 L986.9,1389.8 L988.8,1389.5 L990.6,1389.3 L992.4,1389.0 L994.3,1388.7 L996.1,1388.5 L998.0,1388.2 L999.8,1388.0 L1001.6,1387.8 L1003.5,1387.6 L1005.3,1387.4 L1007.2,1387.2 L1009.0,1387.0 L1010.8,1386.8 L1012.7,1386.6 L1014.5,1386.5 L1016.4,1386.3 L1018.2,1386.2 L1020.1,1386.0 L1021.9,1385.9 L1023.7,1385.8 L1025.6,1385.7 L1027.4,1385.6 L1029.3,1385.5 L1031.1,1385.4 L1032.9,1385.3 L1034.8,1385.2 L1036.6,1385.2 L1038.5,1385.1 L1040.3,1385.1 L1042.1,1385.0 L1044.0,1385.0 L1045.8,1385.0 L1047.7,1385.0 L1049.5,1385.0 L1051.3,1385.0 L1053.2,1385.0 L1055.0,1385.0 L1056.9,1385.0 L1058.7,1385.1 L1060.5,1385.1 L1062.4,1385.2 L1064.2,1385.2 L1066.1,1385.3 L1067.9,1385.4 L1069.7,1385.5 L1071.6,1385.6 L1073.4,1385.7 L1075.3,1385.8 L1077.1,1385.9 L1078.9,1386.0 L1080.8,1386.2 L1082.6,1386.3 L1084.5,1386.5 L1086.3,1386.6 L1088.2,1386.8 L1090.0,1387.0 L1091.8,1387.2 L1093.7,1387.4 L1095.5,1387.6 L1097.4,1387.8 L1099.2,1388.0 L1101.0,1388.2 L1102.9,1388.5 L1104.7,1388.7 L1106.6,1389.0 L1108.4,1389.3 L1110.2,1389.5 L1112.1,1389.8 L1113.9,1390.1 L1115.8,1390.4 L1117.6,1390.7 L1119.4,1391.0 L1121.3,1391.3 L1123.1,1391.7 L1125.0,1392.0 L1126.8,1392.4 L1128.6,1392.7 L1130.5,1393.1 L1132.3,1393.5 L1134.2,1393.8 L1136.0,1394.2 L1137.8,1394.6 L1139.7,1395.0 L1141.5,1395.5 L1143.4,1395.9 L1145.2,1396.3 L1147.0,1396.8 L1148.9,1397.2 L1150.7,1397.7 L1152.6,1398.1 L1154.4,1398.6 L1156.3,1399.1 L1158.1,1399.6 L1159.9,1400.1 L1161.8,1400.6 L1163.6,1401.1 L1165.5,1401.6 L1167.3,1402.2 L1169.1,1402.7 L1171.0,1403.3 L1172.8,1403.8 L1174.7,1404.4 L1176.5,1405.0 L1178.3,1405.6 L1180.2,1406.1 L1182.0,1406.7 L1183.9,1407.4 L1185.7,1408.0 L1187.5,1408.6 L1189.4,1409.2 L1191.2,1409.9 L1193.1,1410.5 L1194.9,1411.2 L1196.7,1411.9 L1198.6,1412.5 L1200.4,1413.2 L1202.3,1413.9 L1204.1,1414.6 L1205.9,1415.3 L1207.8,1416.1 L1209.6,1416.8 L1211.5,1417.5 L1213.3,1418.3 L1215.1,1419.0" fill="none" stroke="rgba(0,42,78,0.820)" stroke-width="2.06" stroke-linecap="round"/><path d="M1245.6,1380.6 L1240.6,1378.9 L1235.5,1377.2 L1230.5,1375.5 L1225.4,1373.8 L1220.4,1372.0 L1215.3,1370.3 L1210.3,1368.5 L1205.2,1366.8 L1200.2,1365.0 L1195.2,1363.2 L1190.2,1361.4 L1185.2,1359.7 L1180.2,1357.8 L1175.2,1356.0 L1170.2,1354.2 L1165.2,1352.4 L1160.2,1350.5 L1155.2,1348.7 L1150.2,1346.8 L1145.3,1345.0 L1140.3,1343.1 L1135.3,1341.2 L1130.4,1339.3 L1125.4,1337.4 L1120.5,1335.5 L1115.5,1333.6 L1110.6,1331.7 L1105.6,1329.7 L1100.7,1327.8 L1095.8,1325.8 L1090.9,1323.9 L1086.0,1321.9 L1081.0,1319.9 L1076.1,1317.9 L1071.2,1315.9 L1066.3,1313.9 L1061.5,1311.9 L1056.6,1309.9 L1051.7,1307.9 L1047.9,1306.3" fill="none" stroke="rgba(0,42,78,0.820)" stroke-width="2.11" stroke-linecap="round" stroke-dasharray="6.4 7.3"/><path d="M1047.9,1306.3 L1046.8,1305.8 L1041.9,1303.8 L1037.1,1301.7 L1032.2,1299.7 L1027.4,1297.6 L1022.5,1295.5 L1017.7,1293.4 L1012.8,1291.3 L1008.0,1289.2 L1003.1,1287.1 L998.3,1285.0 L993.5,1282.8 L988.7,1280.7 L983.9,1278.5 L979.1,1276.4 L974.3,1274.2 L969.5,1272.0 L964.7,1269.8 L959.9,1267.6 L955.1,1265.4 L950.3,1263.2 L945.5,1261.0 L940.8,1258.8 L936.0,1256.5 L931.2,1254.3 L926.5,1252.0 L921.7,1249.8 L917.0,1247.5 L912.2,1245.2 L907.5,1242.9 L902.8,1240.6 L898.1,1238.3 L893.3,1236.0 L888.6,1233.7 L883.9,1231.4 L879.2,1229.0 L874.5,1226.7 L869.8,1224.3 L865.1,1221.9 L860.4,1219.6 L855.7,1217.2 L851.1,1214.8 L846.4,1212.4 L841.7,1210.0 L837.1,1207.5 L832.4,1205.1 L827.7,1202.7 L823.1,1200.2 L818.4,1197.8 L813.8,1195.3 L809.2,1192.8 L804.5,1190.4 L799.9,1187.9 L795.3,1185.4 L790.7,1182.9 L786.1,1180.4 L781.5,1177.8 L776.9,1175.3 L772.3,1172.8 L767.7,1170.2 L763.1,1167.7 L758.5,1165.1 L753.9,1162.5 L749.4,1159.9 L744.8,1157.3 L740.2,1154.7 L735.7,1152.1 L731.1,1149.5 L726.6,1146.9 L722.0,1144.2 L717.5,1141.6 L713.0,1138.9 L708.4,1136.3 L703.9,1133.6 L699.4,1130.9 L694.9,1128.2 L690.4,1125.5 L685.9,1122.8 L681.4,1120.1 L676.9,1117.4 L672.4,1114.7 L667.9,1111.9 L663.4,1109.2 L659.0,1106.4 L654.5,1103.7 L650.0,1100.9 L645.6,1098.1 L641.1,1095.3 L636.7,1092.5 L632.2,1089.7 L627.8,1086.9 L623.3,1084.1 L618.9,1081.2 L614.5,1078.4 L610.1,1075.5 L605.6,1072.7 L601.2,1069.8 L596.8,1066.9 L592.4,1064.0 L588.0,1061.1 L583.6,1058.2 L579.2,1055.3 L574.9,1052.4 L570.5,1049.5 L566.1,1046.5 L561.7,1043.6 L557.4,1040.6 L553.0,1037.7 L548.7,1034.7 L544.3,1031.7 L540.0,1028.7 L535.6,1025.7 L531.3,1022.7 L527.0,1019.7 L522.6,1016.7 L518.3,1013.6 L514.0,1010.6 L509.7,1007.5 L505.4,1004.5 L501.1,1001.4 L496.8,998.3 L492.5,995.2 L488.2,992.2 L483.9,989.1 L479.7,985.9 L475.4,982.8 L471.1,979.7 L466.9,976.6 L462.6,973.4 L458.3,970.3 L454.1,967.1 L449.9,963.9 L445.6,960.7 L441.4,957.5 L437.2,954.3 L432.9,951.1 L428.7,947.9 L424.5,944.7 L420.3,941.5 L416.1,938.2 L411.9,935.0 L407.7,931.7 L403.5,928.4 L399.3,925.2 L395.1,921.9 L391.0,918.6 L386.8,915.3 L382.6,912.0 L378.5,908.7 L374.3,905.3 L370.2,902.0 L366.0,898.7 L361.9,895.3 L357.7,891.9 L353.6,888.6 L349.5,885.2 L345.4,881.8 L341.2,878.4" fill="none" stroke="rgba(0,42,78,0.820)" stroke-width="2.11" stroke-linecap="round"/><path d="M270.3,913.6 L271.3,914.3 L272.3,915.1 L273.3,915.8 L274.3,916.5 L275.3,917.2 L276.3,917.9 L277.2,918.6 L278.2,919.4 L279.1,920.1 L280.1,920.8 L281.0,921.5 L281.9,922.3 L282.9,923.0 L283.8,923.7 L284.7,924.5 L285.6,925.2 L286.5,926.0 L287.3,926.7 L288.2,927.4 L289.1,928.2 L289.9,928.9 L290.8,929.7 L291.6,930.5 L292.5,931.2 L293.3,932.0 L294.1,932.7 L294.9,933.5 L295.7,934.2 L296.5,935.0 L297.3,935.8 L298.1,936.6 L298.9,937.3 L299.6,938.1 L300.4,938.9 L301.1,939.7 L301.9,940.4 L302.2,940.7" fill="none" stroke="rgba(0,42,78,0.820)" stroke-width="2.22" stroke-linecap="round" stroke-dasharray="6.3 7.4"/><path d="M302.2,940.7 L302.6,941.2 L303.3,942.0 L304.1,942.8 L304.8,943.6 L305.5,944.4 L306.2,945.2 L306.8,946.0 L307.5,946.8 L308.2,947.5 L308.9,948.4 L309.5,949.2 L310.2,950.0 L310.8,950.8 L311.4,951.6 L312.1,952.4 L312.7,953.2 L313.3,954.0 L313.9,954.8 L314.5,955.6 L315.1,956.5 L315.7,957.3 L316.2,958.1 L316.8,958.9 L317.3,959.8 L317.9,960.6 L318.4,961.4 L319.0,962.3 L319.5,963.1 L320.0,964.0 L320.5,964.8 L321.0,965.6 L321.5,966.5 L322.0,967.3 L322.5,968.2 L322.9,969.0 L323.4,969.9 L323.9,970.7 L324.3,971.6 L324.7,972.5 L325.2,973.3 L325.6,974.2 L326.0,975.1 L326.4,975.9 L326.8,976.8 L327.2,977.7 L327.6,978.5 L328.0,979.4 L328.3,980.3 L328.7,981.2 L329.1,982.1 L329.4,982.9 L329.7,983.8 L330.1,984.7 L330.4,985.6 L330.7,986.5 L331.0,987.4 L331.3,988.3 L331.6,989.2 L331.9,990.1 L332.2,991.0 L332.4,991.9 L332.7,992.8 L333.0,993.7 L333.2,994.6 L333.4,995.6 L333.7,996.5 L333.9,997.4 L334.1,998.3 L334.3,999.2 L334.5,1000.2 L334.7,1001.1 L334.9,1002.0 L335.1,1002.9 L335.2,1003.9 L335.4,1004.8 L335.5,1005.7 L335.7,1006.7 L335.8,1007.6 L336.0,1008.6 L336.1,1009.5 L336.2,1010.4 L336.3,1011.4 L336.4,1012.3 L336.5,1013.3 L336.6,1014.3 L336.6,1015.2 L336.7,1016.2 L336.8,1017.1 L336.8,1018.1 L336.9,1019.1 L336.9,1020.0 L336.9,1021.0 L336.9,1022.0 L337.0,1022.9 L337.0,1023.9 L337.0,1024.9 L337.0,1025.9 L336.9,1026.9 L336.9,1027.8 L336.9,1028.8 L336.8,1029.8 L336.8,1030.8 L336.7,1031.8 L336.7,1032.8 L336.6,1033.8 L336.5,1034.8 L336.4,1035.8 L336.3,1036.8 L336.2,1037.8 L336.1,1038.8 L336.0,1039.8 L335.9,1040.8 L335.7,1041.8 L335.6,1042.8 L335.4,1043.8 L335.3,1044.9 L335.1,1045.9 L334.9,1046.9 L334.8,1047.9 L334.6,1049.0 L334.4,1050.0 L334.2,1051.0 L334.0,1052.0 L333.7,1053.1 L333.5,1054.1 L333.3,1055.2 L333.0,1056.2 L332.8,1057.2 L332.5,1058.3 L332.3,1059.3 L332.0,1060.4 L331.7,1061.4 L331.4,1062.5 L331.1,1063.5 L330.8,1064.6 L330.5,1065.7 L330.2,1066.7 L329.9,1067.8 L329.5,1068.8 L329.2,1069.9 L328.8,1071.0 L328.5,1072.1 L328.1,1073.1 L327.7,1074.2 L327.3,1075.3 L327.0,1076.4 L326.6,1077.4" fill="none" stroke="rgba(0,42,78,0.820)" stroke-width="2.22" stroke-linecap="round"/><path d="M367.2,1096.1 L367.0,1093.4 L366.9,1090.7 L366.7,1087.9 L366.6,1085.2 L366.4,1082.4 L366.3,1079.7 L366.2,1077.0 L366.1,1074.2 L366.0,1071.5 L365.9,1068.8 L365.8,1066.1 L365.7,1063.4 L365.6,1060.6 L365.6,1057.9 L365.5,1055.2 L365.5,1052.5 L365.4,1049.8 L365.4,1047.1 L365.4,1044.4 L365.3,1041.7 L365.3,1039.0 L365.3,1036.3 L365.4,1033.6 L365.4,1030.9 L365.4,1028.2 L365.4,1025.5 L365.5,1022.8 L365.5,1020.1 L365.6,1017.4 L365.7,1014.8 L365.8,1012.1 L365.9,1009.4 L365.9,1006.7 L366.1,1004.1 L366.2,1001.4 L366.3,998.7 L366.4,996.1 L366.6,993.4 L366.7,990.7 L366.8,989.9" fill="none" stroke="rgba(0,42,78,0.820)" stroke-width="2.44" stroke-linecap="round" stroke-dasharray="6.1 7.6"/><path d="M366.8,989.9 L366.9,988.1 L367.0,985.4 L367.2,982.8 L367.4,980.1 L367.6,977.5 L367.8,974.8 L368.0,972.2 L368.2,969.5 L368.4,966.9 L368.6,964.3 L368.9,961.6 L369.1,959.0 L369.4,956.4 L369.7,953.7 L369.9,951.1 L370.2,948.5 L370.5,945.9 L370.8,943.2 L371.1,940.6 L371.4,938.0 L371.8,935.4 L372.1,932.8 L372.4,930.2 L372.8,927.6 L373.1,925.0 L373.5,922.4 L373.9,919.8 L374.3,917.2 L374.7,914.6 L375.1,912.0 L375.5,909.4 L375.9,906.8 L376.3,904.2 L376.8,901.6 L377.2,899.0 L377.7,896.5 L378.1,893.9 L378.6,891.3 L379.1,888.7 L379.5,886.2 L380.0,883.6 L380.5,881.0 L381.1,878.5 L381.6,875.9 L382.1,873.3 L382.6,870.8 L383.2,868.2 L383.7,865.7 L384.3,863.1 L384.9,860.6 L385.4,858.0 L386.0,855.5 L386.6,852.9 L387.2,850.4 L387.8,847.9 L388.5,845.3 L389.1,842.8 L389.7,840.3 L390.4,837.7 L391.0,835.2 L391.7,832.7 L392.4,830.2 L393.1,827.6 L393.7,825.1 L394.4,822.6 L395.1,820.1 L395.9,817.6 L396.6,815.1 L397.3,812.6 L398.0,810.1 L398.8,807.6 L399.6,805.1 L400.3,802.6 L401.1,800.1 L401.9,797.6 L402.7,795.1 L403.5,792.6 L404.3,790.1 L405.1,787.6 L405.9,785.2 L406.7,782.7 L407.6,780.2 L408.4,777.7 L409.3,775.3 L410.2,772.8 L411.0,770.3 L411.9,767.9 L412.8,765.4 L413.7,762.9 L414.6,760.5 L415.5,758.0 L416.5,755.6 L417.4,753.1 L418.3,750.7 L419.3,748.2 L420.2,745.8 L421.2,743.3 L422.2,740.9 L423.2,738.4 L424.2,736.0 L425.2,733.6 L426.2,731.1 L427.2,728.7 L428.2,726.3 L429.3,723.9 L430.3,721.4 L431.4,719.0 L432.4,716.6 L433.5,714.2 L434.6,711.8 L435.7,709.4 L436.7,706.9 L437.8,704.5 L439.0,702.1 L440.1,699.7 L441.2,697.3 L442.3,694.9 L443.5,692.5 L444.6,690.1 L445.8,687.7 L447.0,685.4 L448.2,683.0 L449.3,680.6 L450.5,678.2 L451.7,675.8 L453.0,673.4 L454.2,671.1 L455.4,668.7 L456.7,666.3 L457.9,664.0 L459.2,661.6 L460.4,659.2 L461.7,656.9 L463.0,654.5 L464.3,652.1 L465.6,649.8 L466.9,647.4 L468.2,645.1 L469.5,642.7 L470.8,640.4 L472.2,638.0 L473.5,635.7 L474.9,633.4 L476.2,631.0 L477.6,628.7 L479.0,626.3 L480.4,624.0 L481.8,621.7 L483.2,619.4 L484.6,617.0 L486.0,614.7 L487.5,612.4 L488.9,610.1 L490.4,607.8" fill="none" stroke="rgba(0,42,78,0.820)" stroke-width="2.44" stroke-linecap="round"/><path d="M425.8,1234.3 L427.5,1234.4 L429.3,1234.4 L431.0,1234.4 L432.6,1234.4 L434.3,1234.5 L436.0,1234.5 L437.7,1234.6 L439.4,1234.7 L441.1,1234.7 L442.7,1234.8 L444.4,1234.9 L446.1,1235.0 L447.7,1235.1 L449.4,1235.2 L451.1,1235.3 L452.7,1235.4 L454.3,1235.6 L456.0,1235.7 L457.6,1235.8 L459.3,1236.0 L460.9,1236.2 L462.5,1236.3 L464.1,1236.5 L465.8,1236.7 L467.4,1236.9 L469.0,1237.1 L470.6,1237.3 L472.2,1237.5 L473.8,1237.7 L475.4,1237.9 L477.0,1238.1 L478.5,1238.4 L480.1,1238.6 L481.7,1238.9 L483.3,1239.1 L484.8,1239.4 L486.4,1239.7 L488.0,1240.0 L488.4,1240.0" fill="none" stroke="rgba(0,42,78,0.820)" stroke-width="2.50" stroke-linecap="round" stroke-dasharray="6.0 7.7"/><path d="M488.4,1240.0 L489.5,1240.2 L491.1,1240.5 L492.6,1240.8 L494.2,1241.1 L495.7,1241.5 L497.2,1241.8 L498.8,1242.1 L500.3,1242.5 L501.8,1242.8 L503.3,1243.2 L504.9,1243.5 L506.4,1243.9 L507.9,1244.3 L509.4,1244.6 L510.9,1245.0 L512.4,1245.4 L513.9,1245.8 L515.4,1246.2 L516.8,1246.7 L518.3,1247.1 L519.8,1247.5 L521.3,1248.0 L522.7,1248.4 L524.2,1248.9 L525.7,1249.3 L527.1,1249.8 L528.6,1250.3 L530.0,1250.7 L531.5,1251.2 L532.9,1251.7 L534.3,1252.2 L535.8,1252.7 L537.2,1253.3 L538.6,1253.8 L540.0,1254.3 L541.5,1254.9 L542.9,1255.4 L544.3,1256.0 L545.7,1256.5 L547.1,1257.1 L548.5,1257.7 L549.9,1258.3 L551.2,1258.8 L552.6,1259.4 L554.0,1260.1 L555.4,1260.7 L556.8,1261.3 L558.1,1261.9 L559.5,1262.5 L560.8,1263.2 L562.2,1263.8 L563.5,1264.5 L564.9,1265.2 L566.2,1265.8 L567.6,1266.5 L568.9,1267.2 L570.2,1267.9 L571.6,1268.6 L572.9,1269.3 L574.2,1270.0 L575.5,1270.7 L576.8,1271.4 L578.1,1272.2 L579.4,1272.9 L580.7,1273.7 L582.0,1274.4 L583.3,1275.2 L584.6,1276.0 L585.9,1276.7 L587.2,1277.5 L588.4,1278.3 L589.7,1279.1 L591.0,1279.9 L592.2,1280.7 L593.5,1281.6 L594.8,1282.4 L596.0,1283.2 L597.3,1284.1 L598.5,1284.9 L599.7,1285.8 L601.0,1286.6 L602.2,1287.5 L603.4,1288.4 L604.6,1289.3 L605.9,1290.2 L607.1,1291.1 L608.3,1292.0 L609.5,1292.9 L610.7,1293.8 L611.9,1294.8 L613.1,1295.7 L614.3,1296.6 L615.5,1297.6 L616.6,1298.5 L617.8,1299.5 L619.0,1300.5 L620.2,1301.5 L621.3,1302.5 L622.5,1303.4 L623.6,1304.4 L624.8,1305.5 L625.9,1306.5 L627.1,1307.5 L628.2,1308.5 L629.4,1309.6 L630.5,1310.6 L631.6,1311.7 L632.8,1312.7 L633.9,1313.8 L635.0,1314.9 L636.1,1315.9 L637.2,1317.0 L638.3,1318.1 L639.4,1319.2 L640.5,1320.3 L641.6,1321.5 L642.7,1322.6 L643.8,1323.7 L644.9,1324.9 L645.9,1326.0 L647.0,1327.2 L648.1,1328.3 L649.1,1329.5 L650.2,1330.7 L651.3,1331.8 L652.3,1333.0 L653.4,1334.2 L654.4,1335.4 L655.5,1336.6 L656.5,1337.9 L657.5,1339.1 L658.5,1340.3 L659.6,1341.6 L660.6,1342.8 L661.6,1344.1 L662.6,1345.3 L663.6,1346.6 L664.6,1347.9 L665.6,1349.1 L666.6,1350.4 L667.6,1351.7 L668.6,1353.0 L669.6,1354.3 L670.6,1355.7 L671.6,1357.0 L672.5,1358.3 L673.5,1359.7 L674.5,1361.0 L675.4,1362.4 L676.4,1363.7" fill="none" stroke="rgba(0,42,78,0.820)" stroke-width="2.50" stroke-linecap="round"/><path d="M687.5,1380.6 L685.8,1380.6 L684.1,1380.6 L682.4,1380.6 L680.7,1380.5 L679.0,1380.5 L677.3,1380.4 L675.6,1380.4 L674.0,1380.3 L672.3,1380.3 L670.6,1380.2 L668.9,1380.1 L667.3,1380.0 L665.6,1379.9 L664.0,1379.8 L662.3,1379.7 L660.7,1379.6 L659.0,1379.4 L657.4,1379.3 L655.7,1379.1 L654.1,1379.0 L652.5,1378.8 L650.8,1378.7 L649.2,1378.5 L647.6,1378.3 L646.0,1378.1 L644.4,1377.9 L642.8,1377.7 L641.2,1377.5 L639.6,1377.3 L638.0,1377.1 L636.4,1376.9 L634.8,1376.6 L633.2,1376.4 L631.7,1376.1 L630.1,1375.9 L628.5,1375.6 L627.0,1375.3 L625.4,1375.0 L625.0,1375.0" fill="none" stroke="rgba(0,42,78,0.820)" stroke-width="2.59" stroke-linecap="round" stroke-dasharray="5.9 7.8"/><path d="M625.0,1375.0 L623.8,1374.7 L622.3,1374.5 L620.7,1374.2 L619.2,1373.8 L617.7,1373.5 L616.1,1373.2 L614.6,1372.9 L613.1,1372.5 L611.5,1372.2 L610.0,1371.8 L608.5,1371.5 L607.0,1371.1 L605.5,1370.7 L604.0,1370.3 L602.5,1370.0 L601.0,1369.6 L599.5,1369.2 L598.0,1368.7 L596.5,1368.3 L595.0,1367.9 L593.6,1367.5 L592.1,1367.0 L590.6,1366.6 L589.2,1366.1 L587.7,1365.7 L586.2,1365.2 L584.8,1364.7 L583.3,1364.2 L581.9,1363.8 L580.5,1363.3 L579.0,1362.8 L577.6,1362.2 L576.2,1361.7 L574.7,1361.2 L573.3,1360.7 L571.9,1360.1 L570.5,1359.6 L569.1,1359.0 L567.7,1358.5 L566.3,1357.9 L564.9,1357.3 L563.5,1356.7 L562.1,1356.1 L560.7,1355.5 L559.4,1354.9 L558.0,1354.3 L556.6,1353.7 L555.2,1353.1 L553.9,1352.4 L552.5,1351.8 L551.2,1351.2 L549.8,1350.5 L548.5,1349.8 L547.1,1349.2 L545.8,1348.5 L544.5,1347.8 L543.1,1347.1 L541.8,1346.4 L540.5,1345.7 L539.2,1345.0 L537.8,1344.3 L536.5,1343.5 L535.2,1342.8 L533.9,1342.1 L532.6,1341.3 L531.3,1340.6 L530.0,1339.8 L528.8,1339.0 L527.5,1338.2 L526.2,1337.5 L524.9,1336.7 L523.6,1335.9 L522.4,1335.1 L521.1,1334.2 L519.9,1333.4 L518.6,1332.6 L517.4,1331.8 L516.1,1330.9 L514.9,1330.1 L513.6,1329.2 L512.4,1328.3 L511.2,1327.5 L509.9,1326.6 L508.7,1325.7 L507.5,1324.8 L506.3,1323.9 L505.1,1323.0 L503.9,1322.1 L502.7,1321.2 L501.5,1320.2 L500.3,1319.3 L499.1,1318.4 L497.9,1317.4 L496.7,1316.4 L495.5,1315.5 L494.4,1314.5 L493.2,1313.5 L492.0,1312.5 L490.9,1311.5 L489.7,1310.5 L488.6,1309.5 L487.4,1308.5 L486.3,1307.5 L485.1,1306.5 L484.0,1305.4 L482.9,1304.4 L481.7,1303.3 L480.6,1302.3 L479.5,1301.2 L478.4,1300.1 L477.3,1299.0 L476.1,1298.0 L475.0,1296.9 L473.9,1295.8 L472.8,1294.6 L471.7,1293.5 L470.7,1292.4 L469.6,1291.3 L468.5,1290.1 L467.4,1289.0 L466.3,1287.8 L465.3,1286.7 L464.2,1285.5 L463.2,1284.3 L462.1,1283.1 L461.0,1282.0 L460.0,1280.8 L458.9,1279.6 L457.9,1278.3 L456.9,1277.1 L455.8,1275.9 L454.8,1274.7 L453.8,1273.4 L452.8,1272.2 L451.8,1270.9 L450.7,1269.7 L449.7,1268.4 L448.7,1267.1 L447.7,1265.8 L446.7,1264.6 L445.7,1263.3 L444.7,1262.0 L443.8,1260.6 L442.8,1259.3 L441.8,1258.0 L440.8,1256.7 L439.9,1255.3 L438.9,1254.0 L437.9,1252.6 L437.0,1251.3" fill="none" stroke="rgba(0,42,78,0.820)" stroke-width="2.59" stroke-linecap="round"/><path d="M1760.7,844.2 L1754.3,846.8 L1747.9,849.4 L1741.5,852.1 L1735.1,854.7 L1728.8,857.2 L1722.4,859.8 L1716.0,862.4 L1709.6,865.0 L1703.2,867.5 L1696.8,870.0 L1690.4,872.6 L1684.0,875.1 L1677.6,877.6 L1671.1,880.1 L1664.7,882.6 L1658.3,885.1 L1651.9,887.5 L1645.5,890.0 L1639.1,892.4 L1632.6,894.9 L1626.2,897.3 L1619.8,899.7 L1613.3,902.1 L1606.9,904.5 L1600.5,906.9 L1594.0,909.3 L1587.6,911.6 L1581.1,914.0 L1574.7,916.3 L1568.2,918.7 L1561.8,921.0 L1555.3,923.3 L1548.9,925.6 L1542.4,927.9 L1535.9,930.2 L1529.5,932.5 L1523.0,934.7 L1516.5,937.0 L1510.1,939.2 L1504.6,941.1" fill="none" stroke="rgba(0,42,78,0.820)" stroke-width="2.83" stroke-linecap="round" stroke-dasharray="5.7 8.0"/><path d="M1504.6,941.1 L1503.6,941.4 L1497.1,943.7 L1490.6,945.9 L1484.1,948.1 L1477.7,950.3 L1471.2,952.4 L1464.7,954.6 L1458.2,956.8 L1451.7,958.9 L1445.2,961.0 L1438.7,963.2 L1432.2,965.3 L1425.7,967.4 L1419.2,969.5 L1412.7,971.6 L1406.1,973.7 L1399.6,975.7 L1393.1,977.8 L1386.6,979.8 L1380.1,981.9 L1373.5,983.9 L1367.0,985.9 L1360.5,987.9 L1353.9,989.9 L1347.4,991.9 L1340.9,993.8 L1334.3,995.8 L1327.8,997.8 L1321.2,999.7 L1314.7,1001.6 L1308.1,1003.6 L1301.6,1005.5 L1295.0,1007.4 L1288.5,1009.3 L1281.9,1011.1 L1275.3,1013.0 L1268.8,1014.9 L1262.2,1016.7 L1255.6,1018.6 L1249.1,1020.4 L1242.5,1022.2 L1235.9,1024.0 L1229.3,1025.8 L1222.7,1027.6 L1216.2,1029.4 L1209.6,1031.1 L1203.0,1032.9 L1196.4,1034.6 L1189.8,1036.4 L1183.2,1038.1 L1176.6,1039.8 L1170.0,1041.5 L1163.4,1043.2 L1156.8,1044.9 L1150.2,1046.6 L1143.6,1048.2 L1136.9,1049.9 L1130.3,1051.5 L1123.7,1053.2 L1117.1,1054.8 L1110.4,1056.4 L1103.8,1058.0 L1097.2,1059.6 L1090.6,1061.2 L1083.9,1062.7 L1077.3,1064.3 L1070.6,1065.9 L1064.0,1067.4 L1057.4,1068.9 L1050.7,1070.4 L1044.1,1072.0 L1037.4,1073.5 L1030.7,1074.9 L1024.1,1076.4 L1017.4,1077.9 L1010.8,1079.3 L1004.1,1080.8 L997.4,1082.2 L990.8,1083.7 L984.1,1085.1 L977.4,1086.5 L970.7,1087.9 L964.0,1089.3 L957.4,1090.6 L950.7,1092.0 L944.0,1093.4 L937.3,1094.7 L930.6,1096.0 L923.9,1097.4 L917.2,1098.7 L910.5,1100.0 L903.8,1101.3 L897.1,1102.6 L890.4,1103.8 L883.7,1105.1 L877.0,1106.3 L870.3,1107.6 L863.5,1108.8 L856.8,1110.0 L850.1,1111.2 L843.4,1112.4 L836.6,1113.6 L829.9,1114.8 L823.2,1116.0 L816.4,1117.1 L809.7,1118.3 L803.0,1119.4 L796.2,1120.6 L789.5,1121.7 L782.7,1122.8 L776.0,1123.9 L769.2,1125.0 L762.5,1126.0 L755.7,1127.1 L748.9,1128.2 L742.2,1129.2 L735.4,1130.2 L728.6,1131.3 L721.9,1132.3 L715.1,1133.3 L708.3,1134.3 L701.5,1135.3 L694.8,1136.2 L688.0,1137.2 L681.2,1138.2 L674.4,1139.1 L667.6,1140.0 L660.8,1141.0 L654.0,1141.9 L647.2,1142.8 L640.4,1143.7 L633.6,1144.5 L626.8,1145.4 L620.0,1146.3 L613.2,1147.1 L606.4,1148.0 L599.6,1148.8 L592.7,1149.6 L585.9,1150.4 L579.1,1151.2 L572.3,1152.0 L565.5,1152.8 L558.6,1153.5 L551.8,1154.3 L545.0,1155.1 L538.1,1155.8 L531.3,1156.5 L524.4,1157.2 L517.6,1157.9 L510.7,1158.6 L503.9,1159.3 L497.0,1160.0 L490.2,1160.7 L483.3,1161.3 L476.5,1162.0 L469.6,1162.6 L462.7,1163.2 L455.9,1163.8 L449.0,1164.4" fill="none" stroke="rgba(0,42,78,0.820)" stroke-width="2.83" stroke-linecap="round"/><path d="M1790.8,893.6 L1789.5,896.5 L1788.1,899.4 L1786.8,902.2 L1785.4,905.1 L1784.1,908.0 L1782.7,910.8 L1781.4,913.7 L1780.0,916.6 L1778.6,919.4 L1777.2,922.2 L1775.8,925.1 L1774.4,927.9 L1773.0,930.7 L1771.6,933.5 L1770.2,936.3 L1768.7,939.1 L1767.3,941.9 L1765.9,944.7 L1764.4,947.5 L1763.0,950.3 L1761.5,953.1 L1760.0,955.8 L1758.5,958.6 L1757.1,961.4 L1755.6,964.1 L1754.1,966.9 L1752.6,969.6 L1751.1,972.3 L1749.5,975.0 L1748.0,977.8 L1746.5,980.5 L1745.0,983.2 L1743.4,985.9 L1741.9,988.6 L1740.3,991.3 L1738.7,994.0 L1737.2,996.7 L1735.6,999.3 L1734.0,1002.0 L1733.3,1003.2" fill="none" stroke="rgba(0,42,78,0.820)" stroke-width="2.92" stroke-linecap="round" stroke-dasharray="5.6 8.1"/><path d="M1733.3,1003.2 L1732.4,1004.7 L1730.8,1007.3 L1729.2,1010.0 L1727.6,1012.6 L1726.0,1015.2 L1724.4,1017.9 L1722.7,1020.5 L1721.1,1023.1 L1719.4,1025.7 L1717.8,1028.4 L1716.1,1031.0 L1714.5,1033.6 L1712.8,1036.1 L1711.1,1038.7 L1709.4,1041.3 L1707.7,1043.9 L1706.0,1046.5 L1704.3,1049.0 L1702.6,1051.6 L1700.9,1054.1 L1699.2,1056.7 L1697.4,1059.2 L1695.7,1061.7 L1693.9,1064.3 L1692.2,1066.8 L1690.4,1069.3 L1688.7,1071.8 L1686.9,1074.3 L1685.1,1076.8 L1683.3,1079.3 L1681.5,1081.8 L1679.7,1084.3 L1677.9,1086.8 L1676.1,1089.2 L1674.3,1091.7 L1672.5,1094.2 L1670.6,1096.6 L1668.8,1099.0 L1666.9,1101.5 L1665.1,1103.9 L1663.2,1106.4 L1661.4,1108.8 L1659.5,1111.2 L1657.6,1113.6 L1655.7,1116.0 L1653.8,1118.4 L1651.9,1120.8 L1650.0,1123.2 L1648.1,1125.6 L1646.2,1127.9 L1644.2,1130.3 L1642.3,1132.7 L1640.4,1135.0 L1638.4,1137.4 L1636.5,1139.7 L1634.5,1142.1 L1632.5,1144.4 L1630.5,1146.7 L1628.6,1149.1 L1626.6,1151.4 L1624.6,1153.7 L1622.6,1156.0 L1620.6,1158.3 L1618.5,1160.6 L1616.5,1162.9 L1614.5,1165.2 L1612.4,1167.4 L1610.4,1169.7 L1608.4,1172.0 L1606.3,1174.2 L1604.2,1176.5 L1602.2,1178.7 L1600.1,1181.0 L1598.0,1183.2 L1595.9,1185.4 L1593.8,1187.6 L1591.7,1189.9 L1589.6,1192.1 L1587.5,1194.3 L1585.3,1196.5 L1583.2,1198.7 L1581.1,1200.9 L1578.9,1203.0 L1576.8,1205.2 L1574.6,1207.4 L1572.5,1209.6 L1570.3,1211.7 L1568.1,1213.9 L1565.9,1216.0 L1563.7,1218.2 L1561.5,1220.3 L1559.3,1222.4 L1557.1,1224.5 L1554.9,1226.7 L1552.7,1228.8 L1550.4,1230.9 L1548.2,1233.0 L1545.9,1235.1 L1543.7,1237.2 L1541.4,1239.2 L1539.2,1241.3 L1536.9,1243.4 L1534.6,1245.5 L1532.3,1247.5 L1530.0,1249.6 L1527.7,1251.6 L1525.4,1253.7 L1523.1,1255.7 L1520.8,1257.7 L1518.5,1259.7 L1516.1,1261.8 L1513.8,1263.8 L1511.4,1265.8 L1509.1,1267.8 L1506.7,1269.8 L1504.3,1271.8 L1502.0,1273.8 L1499.6,1275.7 L1497.2,1277.7 L1494.8,1279.7 L1492.4,1281.6 L1490.0,1283.6 L1487.6,1285.5 L1485.2,1287.5 L1482.7,1289.4 L1480.3,1291.3 L1477.8,1293.3 L1475.4,1295.2 L1472.9,1297.1 L1470.5,1299.0 L1468.0,1300.9 L1465.5,1302.8 L1463.0,1304.7 L1460.6,1306.6 L1458.1,1308.4 L1455.6,1310.3 L1453.0,1312.2 L1450.5,1314.0 L1448.0,1315.9 L1445.5,1317.7 L1442.9,1319.6 L1440.4,1321.4 L1437.8,1323.3 L1435.3,1325.1 L1432.7,1326.9 L1430.1,1328.7 L1427.6,1330.5 L1425.0,1332.3 L1422.4,1334.1 L1419.8,1335.9 L1417.2,1337.7 L1414.6,1339.5 L1412.0,1341.2 L1409.3,1343.0 L1406.7,1344.8" fill="none" stroke="rgba(0,42,78,0.820)" stroke-width="2.92" stroke-linecap="round"/><path d="M1491.0,546.1 L1485.7,549.1 L1480.4,552.1 L1475.0,555.1 L1469.7,558.0 L1464.4,561.0 L1459.1,564.0 L1453.7,567.0 L1448.4,570.0 L1443.1,572.9 L1437.8,575.9 L1432.4,578.9 L1427.1,581.9 L1421.8,584.8 L1416.5,587.8 L1411.1,590.8 L1405.8,593.8 L1400.5,596.8 L1395.2,599.7 L1389.8,602.7 L1384.5,605.7 L1379.2,608.7 L1373.9,611.6 L1368.5,614.6 L1363.2,617.6 L1357.9,620.6 L1352.6,623.5 L1347.2,626.5 L1341.9,629.5 L1336.6,632.5 L1331.2,635.5 L1325.9,638.4 L1320.6,641.4 L1315.3,644.4 L1309.9,647.4 L1304.6,650.3 L1299.3,653.3 L1294.0,656.3 L1288.6,659.3 L1283.3,662.3 L1278.0,665.2 L1278.0,665.2" fill="none" stroke="rgba(0,42,78,0.820)" stroke-width="2.94" stroke-linecap="round" stroke-dasharray="5.6 8.1"/><path d="M1278.0,665.2 L1272.7,668.2 L1267.3,671.2 L1262.0,674.2 L1256.7,677.1 L1251.4,680.1 L1246.0,683.1 L1240.7,686.1 L1235.4,689.1 L1230.1,692.0 L1224.7,695.0 L1219.4,698.0 L1214.1,701.0 L1208.8,703.9 L1203.4,706.9 L1198.1,709.9 L1192.8,712.9 L1187.4,715.8 L1182.1,718.8 L1176.8,721.8 L1171.5,724.8 L1166.1,727.8 L1160.8,730.7 L1155.5,733.7 L1150.2,736.7 L1144.8,739.7 L1139.5,742.6 L1134.2,745.6 L1128.9,748.6 L1123.5,751.6 L1118.2,754.6 L1112.9,757.5 L1107.6,760.5 L1102.2,763.5 L1096.9,766.5 L1091.6,769.4 L1086.3,772.4 L1080.9,775.4 L1075.6,778.4 L1070.3,781.4 L1064.9,784.3 L1059.6,787.3 L1054.3,790.3 L1049.0,793.3 L1043.6,796.2 L1038.3,799.2 L1033.0,802.2 L1027.7,805.2 L1022.3,808.2 L1017.0,811.1 L1011.7,814.1 L1006.4,817.1 L1001.0,820.1 L995.7,823.0 L990.4,826.0 L985.1,829.0 L979.7,832.0 L974.4,834.9 L969.1,837.9 L963.8,840.9 L958.4,843.9 L953.1,846.9 L947.8,849.8 L942.5,852.8 L937.1,855.8 L931.8,858.8 L926.5,861.7 L921.1,864.7 L915.8,867.7 L910.5,870.7 L905.2,873.7 L899.8,876.6 L894.5,879.6 L889.2,882.6 L883.9,885.6 L878.5,888.5 L873.2,891.5 L867.9,894.5 L862.6,897.5 L857.2,900.5 L851.9,903.4 L846.6,906.4 L841.3,909.4 L835.9,912.4 L830.6,915.3 L825.3,918.3 L820.0,921.3 L814.6,924.3 L809.3,927.3 L804.0,930.2 L798.7,933.2 L793.3,936.2 L788.0,939.2 L782.7,942.1 L777.3,945.1 L772.0,948.1 L766.7,951.1 L761.4,954.0 L756.0,957.0 L750.7,960.0 L745.4,963.0 L740.1,966.0 L734.7,968.9 L729.4,971.9 L724.1,974.9 L718.8,977.9 L713.4,980.8 L708.1,983.8 L702.8,986.8 L697.5,989.8 L692.1,992.8 L686.8,995.7 L681.5,998.7 L676.2,1001.7 L670.8,1004.7 L665.5,1007.6 L660.2,1010.6 L654.9,1013.6 L649.5,1016.6 L644.2,1019.6 L638.9,1022.5 L633.5,1025.5 L628.2,1028.5 L622.9,1031.5 L617.6,1034.4 L612.2,1037.4 L606.9,1040.4 L601.6,1043.4 L596.3,1046.4 L590.9,1049.3 L585.6,1052.3 L580.3,1055.3 L575.0,1058.3 L569.6,1061.2 L564.3,1064.2 L559.0,1067.2 L553.7,1070.2 L548.3,1073.1 L543.0,1076.1 L537.7,1079.1 L532.4,1082.1 L527.0,1085.1 L521.7,1088.0 L516.4,1091.0 L511.1,1094.0 L505.7,1097.0 L500.4,1099.9 L495.1,1102.9 L489.7,1105.9 L484.4,1108.9 L479.1,1111.9 L473.8,1114.8 L468.4,1117.8 L463.1,1120.8 L457.8,1123.8 L452.5,1126.7 L447.1,1129.7 L441.8,1132.7" fill="none" stroke="rgba(0,42,78,0.820)" stroke-width="2.94" stroke-linecap="round"/><path d="M1411.5,1380.6 L1412.4,1379.2 L1413.3,1377.8 L1414.2,1376.3 L1415.1,1374.9 L1416.1,1373.5 L1417.0,1372.1 L1417.9,1370.7 L1418.8,1369.3 L1419.8,1367.9 L1420.7,1366.5 L1421.7,1365.1 L1422.6,1363.7 L1423.6,1362.4 L1424.5,1361.0 L1425.5,1359.7 L1426.5,1358.3 L1427.4,1357.0 L1428.4,1355.7 L1429.4,1354.3 L1430.4,1353.0 L1431.4,1351.7 L1432.4,1350.4 L1433.4,1349.1 L1434.4,1347.9 L1435.4,1346.6 L1436.4,1345.3 L1437.4,1344.1 L1438.4,1342.8 L1439.4,1341.6 L1440.5,1340.3 L1441.5,1339.1 L1442.5,1337.9 L1443.5,1336.6 L1444.6,1335.4 L1445.6,1334.2 L1446.7,1333.0 L1447.7,1331.8 L1448.8,1330.7 L1449.1,1330.3" fill="none" stroke="rgba(0,42,78,0.820)" stroke-width="3.30" stroke-linecap="round" stroke-dasharray="5.2 8.5"/><path d="M1449.1,1330.3 L1449.9,1329.5 L1450.9,1328.3 L1452.0,1327.2 L1453.1,1326.0 L1454.1,1324.9 L1455.2,1323.7 L1456.3,1322.6 L1457.4,1321.5 L1458.5,1320.3 L1459.6,1319.2 L1460.7,1318.1 L1461.8,1317.0 L1462.9,1315.9 L1464.0,1314.9 L1465.1,1313.8 L1466.2,1312.7 L1467.4,1311.7 L1468.5,1310.6 L1469.6,1309.6 L1470.8,1308.5 L1471.9,1307.5 L1473.1,1306.5 L1474.2,1305.5 L1475.4,1304.4 L1476.5,1303.4 L1477.7,1302.5 L1478.8,1301.5 L1480.0,1300.5 L1481.2,1299.5 L1482.4,1298.5 L1483.5,1297.6 L1484.7,1296.6 L1485.9,1295.7 L1487.1,1294.8 L1488.3,1293.8 L1489.5,1292.9 L1490.7,1292.0 L1491.9,1291.1 L1493.1,1290.2 L1494.4,1289.3 L1495.6,1288.4 L1496.8,1287.5 L1498.0,1286.6 L1499.3,1285.8 L1500.5,1284.9 L1501.7,1284.1 L1503.0,1283.2 L1504.2,1282.4 L1505.5,1281.6 L1506.8,1280.7 L1508.0,1279.9 L1509.3,1279.1 L1510.6,1278.3 L1511.8,1277.5 L1513.1,1276.7 L1514.4,1276.0 L1515.7,1275.2 L1517.0,1274.4 L1518.3,1273.7 L1519.6,1272.9 L1520.9,1272.2 L1522.2,1271.4 L1523.5,1270.7 L1524.8,1270.0 L1526.1,1269.3 L1527.4,1268.6 L1528.8,1267.9 L1530.1,1267.2 L1531.4,1266.5 L1532.8,1265.8 L1534.1,1265.2 L1535.5,1264.5 L1536.8,1263.8 L1538.2,1263.2 L1539.5,1262.5 L1540.9,1261.9 L1542.2,1261.3 L1543.6,1260.7 L1545.0,1260.1 L1546.4,1259.4 L1547.8,1258.8 L1549.1,1258.3 L1550.5,1257.7 L1551.9,1257.1 L1553.3,1256.5 L1554.7,1256.0 L1556.1,1255.4 L1557.5,1254.9 L1559.0,1254.3 L1560.4,1253.8 L1561.8,1253.3 L1563.2,1252.7 L1564.7,1252.2 L1566.1,1251.7 L1567.5,1251.2 L1569.0,1250.7 L1570.4,1250.3 L1571.9,1249.8 L1573.3,1249.3 L1574.8,1248.9 L1576.3,1248.4 L1577.7,1248.0 L1579.2,1247.5 L1580.7,1247.1 L1582.2,1246.7 L1583.6,1246.2 L1585.1,1245.8 L1586.6,1245.4 L1588.1,1245.0 L1589.6,1244.6 L1591.1,1244.3 L1592.6,1243.9 L1594.1,1243.5 L1595.7,1243.2 L1597.2,1242.8 L1598.7,1242.5 L1600.2,1242.1 L1601.8,1241.8 L1603.3,1241.5 L1604.8,1241.1 L1606.4,1240.8 L1607.9,1240.5 L1609.5,1240.2 L1611.0,1240.0 L1612.6,1239.7 L1614.2,1239.4 L1615.7,1239.1 L1617.3,1238.9 L1618.9,1238.6 L1620.5,1238.4 L1622.0,1238.1 L1623.6,1237.9 L1625.2,1237.7 L1626.8,1237.5 L1628.4,1237.3 L1630.0,1237.1 L1631.6,1236.9 L1633.2,1236.7 L1634.9,1236.5 L1636.5,1236.3 L1638.1,1236.2 L1639.7,1236.0 L1641.4,1235.8 L1643.0,1235.7 L1644.7,1235.6 L1646.3,1235.4 L1647.9,1235.3 L1649.6,1235.2 L1651.3,1235.1 L1652.9,1235.0" fill="none" stroke="rgba(0,42,78,0.820)" stroke-width="3.30" stroke-linecap="round"/><path d="M794.8,1335.2 L795.0,1330.6 L795.2,1326.0 L795.5,1321.4 L795.7,1316.8 L796.0,1312.2 L796.3,1307.6 L796.6,1303.0 L796.9,1298.5 L797.2,1293.9 L797.5,1289.3 L797.8,1284.7 L798.1,1280.2 L798.5,1275.6 L798.8,1271.0 L799.2,1266.5 L799.6,1261.9 L799.9,1257.3 L800.3,1252.8 L800.7,1248.2 L801.1,1243.7 L801.5,1239.1 L802.0,1234.6 L802.4,1230.0 L802.8,1225.5 L803.3,1221.0 L803.8,1216.4 L804.2,1211.9 L804.7,1207.4 L805.2,1202.8 L805.7,1198.3 L806.2,1193.8 L806.7,1189.3 L807.3,1184.7 L807.8,1180.2 L808.3,1175.7 L808.9,1171.2 L809.5,1166.7 L810.0,1162.2 L810.6,1157.7 L811.0,1154.5" fill="none" stroke="rgba(0,42,78,0.820)" stroke-width="3.45" stroke-linecap="round" stroke-dasharray="5.0 8.7"/><path d="M811.0,1154.5 L811.2,1153.2 L811.8,1148.7 L812.4,1144.2 L813.0,1139.7 L813.7,1135.2 L814.3,1130.7 L814.9,1126.2 L815.6,1121.7 L816.3,1117.2 L816.9,1112.8 L817.6,1108.3 L818.3,1103.8 L819.0,1099.3 L819.7,1094.9 L820.5,1090.4 L821.2,1085.9 L821.9,1081.5 L822.7,1077.0 L823.4,1072.6 L824.2,1068.1 L825.0,1063.6 L825.8,1059.2 L826.6,1054.8 L827.4,1050.3 L828.2,1045.9 L829.0,1041.4 L829.8,1037.0 L830.7,1032.5 L831.5,1028.1 L832.4,1023.7 L833.3,1019.3 L834.1,1014.8 L835.0,1010.4 L835.9,1006.0 L836.8,1001.6 L837.7,997.1 L838.7,992.7 L839.6,988.3 L840.6,983.9 L841.5,979.5 L842.5,975.1 L843.4,970.7 L844.4,966.3 L845.4,961.9 L846.4,957.5 L847.4,953.1 L848.4,948.7 L849.5,944.3 L850.5,940.0 L851.5,935.6 L852.6,931.2 L853.7,926.8 L854.7,922.5 L855.8,918.1 L856.9,913.7 L858.0,909.3 L859.1,905.0 L860.2,900.6 L861.4,896.3 L862.5,891.9 L863.7,887.5 L864.8,883.2 L866.0,878.8 L867.2,874.5 L868.3,870.1 L869.5,865.8 L870.7,861.5 L872.0,857.1 L873.2,852.8 L874.4,848.5 L875.6,844.1 L876.9,839.8 L878.2,835.5 L879.4,831.2 L880.7,826.8 L882.0,822.5 L883.3,818.2 L884.6,813.9 L885.9,809.6 L887.2,805.3 L888.6,801.0 L889.9,796.7 L891.3,792.4 L892.6,788.1 L894.0,783.8 L895.4,779.5 L896.7,775.2 L898.1,770.9 L899.6,766.6 L901.0,762.3 L902.4,758.0 L903.8,753.8 L905.3,749.5 L906.7,745.2 L908.2,740.9 L909.7,736.7 L911.1,732.4 L912.6,728.1 L914.1,723.9 L915.6,719.6 L917.2,715.4 L918.7,711.1 L920.2,706.9 L921.8,702.6 L923.3,698.4 L924.9,694.1 L926.5,689.9 L928.0,685.6 L929.6,681.4 L931.2,677.2 L932.8,672.9 L934.5,668.7 L936.1,664.5 L937.7,660.2 L939.4,656.0 L941.0,651.8 L942.7,647.6 L944.4,643.4 L946.1,639.2 L947.8,634.9 L949.5,630.7 L951.2,626.5 L952.9,622.3 L954.6,618.1 L956.4,613.9 L958.1,609.7 L959.9,605.5 L961.6,601.4 L963.4,597.2 L965.2,593.0 L967.0,588.8 L968.8,584.6 L970.6,580.4 L972.5,576.3 L974.3,572.1 L976.1,567.9 L978.0,563.7 L979.8,559.6 L981.7,555.4 L983.6,551.3 L985.5,547.1 L987.4,542.9 L989.3,538.8 L991.2,534.6 L993.1,530.5 L995.1,526.3 L997.0,522.2 L999.0,518.1 L1000.9,513.9 L1002.9,509.8 L1004.9,505.6 L1006.9,501.5 L1008.9,497.4 L1010.9,493.3 L1012.9,489.1 L1014.9,485.0 L1017.0,480.9" fill="none" stroke="rgba(0,42,78,0.820)" stroke-width="3.45" stroke-linecap="round"/><path d="M1760.7,799.4 L1755.2,797.0 L1749.7,794.7 L1744.2,792.3 L1738.8,790.0 L1733.3,787.7 L1727.8,785.3 L1722.3,783.0 L1716.8,780.7 L1711.3,778.4 L1705.8,776.1 L1700.3,773.9 L1694.8,771.6 L1689.3,769.4 L1683.8,767.1 L1678.3,764.9 L1672.7,762.7 L1667.2,760.4 L1661.7,758.2 L1656.2,756.0 L1650.7,753.9 L1645.1,751.7 L1639.6,749.5 L1634.1,747.4 L1628.6,745.2 L1623.0,743.1 L1617.5,741.0 L1611.9,738.9 L1606.4,736.8 L1600.9,734.7 L1595.3,732.6 L1589.8,730.5 L1584.2,728.4 L1578.6,726.4 L1573.1,724.3 L1567.5,722.3 L1562.0,720.3 L1556.4,718.3 L1550.8,716.3 L1545.3,714.3 L1540.8,712.7" fill="none" stroke="rgba(0,42,78,0.820)" stroke-width="3.45" stroke-linecap="round" stroke-dasharray="5.0 8.7"/><path d="M1540.8,712.7 L1539.7,712.3 L1534.1,710.3 L1528.5,708.3 L1523.0,706.4 L1517.4,704.4 L1511.8,702.5 L1506.2,700.6 L1500.6,698.7 L1495.0,696.8 L1489.5,694.9 L1483.9,693.0 L1478.3,691.1 L1472.7,689.2 L1467.1,687.4 L1461.4,685.5 L1455.8,683.7 L1450.2,681.9 L1444.6,680.0 L1439.0,678.2 L1433.4,676.4 L1427.8,674.7 L1422.1,672.9 L1416.5,671.1 L1410.9,669.3 L1405.3,667.6 L1399.6,665.9 L1394.0,664.1 L1388.4,662.4 L1382.7,660.7 L1377.1,659.0 L1371.4,657.3 L1365.8,655.6 L1360.2,654.0 L1354.5,652.3 L1348.8,650.7 L1343.2,649.0 L1337.5,647.4 L1331.9,645.8 L1326.2,644.2 L1320.5,642.6 L1314.9,641.0 L1309.2,639.4 L1303.5,637.8 L1297.9,636.3 L1292.2,634.7 L1286.5,633.2 L1280.8,631.7 L1275.1,630.1 L1269.5,628.6 L1263.8,627.1 L1258.1,625.6 L1252.4,624.2 L1246.7,622.7 L1241.0,621.2 L1235.3,619.8 L1229.6,618.3 L1223.9,616.9 L1218.2,615.5 L1212.5,614.1 L1206.7,612.7 L1201.0,611.3 L1195.3,609.9 L1189.6,608.5 L1183.9,607.2 L1178.1,605.8 L1172.4,604.5 L1166.7,603.1 L1161.0,601.8 L1155.2,600.5 L1149.5,599.2 L1143.7,597.9 L1138.0,596.6 L1132.3,595.4 L1126.5,594.1 L1120.8,592.8 L1115.0,591.6 L1109.3,590.4 L1103.5,589.1 L1097.7,587.9 L1092.0,586.7 L1086.2,585.5 L1080.5,584.4 L1074.7,583.2 L1068.9,582.0 L1063.1,580.9 L1057.4,579.7 L1051.6,578.6 L1045.8,577.5 L1040.0,576.3 L1034.2,575.2 L1028.5,574.1 L1022.7,573.1 L1016.9,572.0 L1011.1,570.9 L1005.3,569.9 L999.5,568.8 L993.7,567.8 L987.9,566.8 L982.1,565.8 L976.3,564.7 L970.5,563.8 L964.6,562.8 L958.8,561.8 L953.0,560.8 L947.2,559.9 L941.4,558.9 L935.5,558.0 L929.7,557.1 L923.9,556.1 L918.0,555.2 L912.2,554.3 L906.4,553.5 L900.5,552.6 L894.7,551.7 L888.8,550.9 L883.0,550.0 L877.1,549.2 L871.3,548.4 L865.4,547.5 L859.6,546.7 L853.7,545.9 L847.9,545.1 L842.0,544.4 L836.1,543.6 L830.3,542.8 L824.4,542.1 L818.5,541.4 L812.6,540.6 L806.8,539.9 L800.9,539.2 L795.0,538.5 L789.1,537.8 L783.2,537.1 L777.3,536.5 L771.4,535.8 L765.5,535.2 L759.6,534.5 L753.7,533.9 L747.8,533.3 L741.9,532.7 L736.0,532.1 L730.1,531.5 L724.2,530.9 L718.3,530.3 L712.4,529.8 L706.5,529.2 L700.5,528.7 L694.6,528.2 L688.7,527.6 L682.8,527.1 L676.8,526.6 L670.9,526.1 L665.0,525.7 L659.0,525.2 L653.1,524.7 L647.1,524.3 L641.2,523.8 L635.2,523.4" fill="none" stroke="rgba(0,42,78,0.820)" stroke-width="3.45" stroke-linecap="round"/><path d="M500.7,591.6 L500.9,594.4 L501.1,597.1 L501.2,599.8 L501.4,602.6 L501.5,605.3 L501.7,608.1 L501.8,610.8 L501.9,613.5 L502.0,616.2 L502.1,619.0 L502.2,621.7 L502.3,624.4 L502.3,627.1 L502.4,629.8 L502.5,632.6 L502.5,635.3 L502.6,638.0 L502.6,640.7 L502.6,643.4 L502.6,646.1 L502.6,648.8 L502.6,651.5 L502.6,654.2 L502.6,656.9 L502.6,659.6 L502.5,662.3 L502.5,665.0 L502.4,667.6 L502.4,670.3 L502.3,673.0 L502.2,675.7 L502.1,678.4 L502.0,681.0 L501.9,683.7 L501.8,686.4 L501.7,689.0 L501.5,691.7 L501.4,694.4 L501.3,697.0 L501.2,697.9" fill="none" stroke="rgba(0,42,78,0.820)" stroke-width="3.60" stroke-linecap="round" stroke-dasharray="4.9 8.8"/><path d="M501.2,697.9 L501.1,699.7 L500.9,702.3 L500.8,705.0 L500.6,707.6 L500.4,710.3 L500.2,712.9 L500.0,715.6 L499.8,718.2 L499.6,720.9 L499.3,723.5 L499.1,726.1 L498.8,728.8 L498.6,731.4 L498.3,734.0 L498.0,736.7 L497.7,739.3 L497.5,741.9 L497.2,744.5 L496.9,747.1 L496.5,749.8 L496.2,752.4 L495.9,755.0 L495.5,757.6 L495.2,760.2 L494.8,762.8 L494.5,765.4 L494.1,768.0 L493.7,770.6 L493.3,773.2 L492.9,775.8 L492.5,778.4 L492.1,781.0 L491.6,783.6 L491.2,786.1 L490.8,788.7 L490.3,791.3 L489.9,793.9 L489.4,796.5 L488.9,799.0 L488.4,801.6 L487.9,804.2 L487.4,806.7 L486.9,809.3 L486.4,811.9 L485.9,814.4 L485.3,817.0 L484.8,819.5 L484.2,822.1 L483.7,824.6 L483.1,827.2 L482.5,829.7 L481.9,832.3 L481.3,834.8 L480.7,837.4 L480.1,839.9 L479.5,842.4 L478.9,845.0 L478.2,847.5 L477.6,850.0 L476.9,852.5 L476.3,855.1 L475.6,857.6 L474.9,860.1 L474.2,862.6 L473.5,865.1 L472.8,867.7 L472.1,870.2 L471.4,872.7 L470.7,875.2 L469.9,877.7 L469.2,880.2 L468.4,882.7 L467.6,885.2 L466.9,887.7 L466.1,890.2 L465.3,892.7 L464.5,895.1 L463.7,897.6 L462.9,900.1 L462.1,902.6 L461.2,905.1 L460.4,907.6 L459.5,910.0 L458.7,912.5 L457.8,915.0 L456.9,917.4 L456.1,919.9 L455.2,922.4 L454.3,924.8 L453.4,927.3 L452.4,929.7 L451.5,932.2 L450.6,934.7 L449.6,937.1 L448.7,939.5 L447.7,942.0 L446.8,944.4 L445.8,946.9 L444.8,949.3 L443.8,951.8 L442.8,954.2 L441.8,956.6 L440.8,959.1 L439.7,961.5 L438.7,963.9 L437.7,966.3 L436.6,968.7 L435.5,971.2 L434.5,973.6 L433.4,976.0 L432.3,978.4 L431.2,980.8 L430.1,983.2 L429.0,985.6 L427.9,988.0 L426.8,990.4 L425.6,992.8 L424.5,995.2 L423.3,997.6 L422.2,1000.0 L421.0,1002.4 L419.8,1004.8 L418.6,1007.2 L417.4,1009.6 L416.2,1011.9 L415.0,1014.3 L413.8,1016.7 L412.6,1019.1 L411.3,1021.4 L410.1,1023.8 L408.8,1026.2 L407.6,1028.5 L406.3,1030.9 L405.0,1033.3 L403.7,1035.6 L402.4,1038.0 L401.1,1040.3 L399.8,1042.7 L398.5,1045.0 L397.1,1047.4 L395.8,1049.7 L394.4,1052.1 L393.1,1054.4 L391.7,1056.7 L390.4,1059.1 L389.0,1061.4 L387.6,1063.7 L386.2,1066.1 L384.8,1068.4 L383.4,1070.7 L381.9,1073.0 L380.5,1075.4 L379.1,1077.7 L377.6,1080.0" fill="none" stroke="rgba(0,42,78,0.820)" stroke-width="3.60" stroke-linecap="round"/><path d="M338.3,844.2 L345.2,844.8 L352.1,845.4 L358.9,846.0 L365.8,846.6 L372.7,847.2 L379.5,847.8 L386.4,848.5 L393.3,849.1 L400.1,849.8 L407.0,850.5 L413.8,851.2 L420.7,851.9 L427.5,852.6 L434.4,853.3 L441.2,854.0 L448.0,854.7 L454.9,855.5 L461.7,856.2 L468.5,857.0 L475.4,857.8 L482.2,858.6 L489.0,859.4 L495.8,860.2 L502.7,861.0 L509.5,861.8 L516.3,862.7 L523.1,863.5 L529.9,864.4 L536.7,865.2 L543.5,866.1 L550.3,867.0 L557.1,867.9 L563.9,868.8 L570.7,869.8 L577.5,870.7 L584.3,871.6 L591.1,872.6 L597.8,873.5 L604.6,874.5 L610.4,875.4" fill="none" stroke="rgba(0,42,78,0.820)" stroke-width="3.90" stroke-linecap="round" stroke-dasharray="4.6 9.1"/><path d="M610.4,875.4 L611.4,875.5 L618.2,876.5 L625.0,877.5 L631.7,878.5 L638.5,879.5 L645.3,880.6 L652.0,881.6 L658.8,882.7 L665.5,883.7 L672.3,884.8 L679.1,885.9 L685.8,887.0 L692.6,888.1 L699.3,889.2 L706.0,890.4 L712.8,891.5 L719.5,892.6 L726.3,893.8 L733.0,895.0 L739.7,896.2 L746.4,897.3 L753.2,898.5 L759.9,899.8 L766.6,901.0 L773.3,902.2 L780.1,903.4 L786.8,904.7 L793.5,906.0 L800.2,907.2 L806.9,908.5 L813.6,909.8 L820.3,911.1 L827.0,912.4 L833.7,913.7 L840.4,915.1 L847.1,916.4 L853.8,917.8 L860.4,919.1 L867.1,920.5 L873.8,921.9 L880.5,923.3 L887.2,924.7 L893.8,926.1 L900.5,927.6 L907.2,929.0 L913.8,930.4 L920.5,931.9 L927.2,933.4 L933.8,934.8 L940.5,936.3 L947.1,937.8 L953.8,939.3 L960.4,940.9 L967.1,942.4 L973.7,943.9 L980.4,945.5 L987.0,947.0 L993.6,948.6 L1000.3,950.2 L1006.9,951.8 L1013.5,953.4 L1020.2,955.0 L1026.8,956.6 L1033.4,958.3 L1040.0,959.9 L1046.6,961.5 L1053.3,963.2 L1059.9,964.9 L1066.5,966.6 L1073.1,968.3 L1079.7,970.0 L1086.3,971.7 L1092.9,973.4 L1099.5,975.1 L1106.1,976.9 L1112.7,978.6 L1119.2,980.4 L1125.8,982.2 L1132.4,984.0 L1139.0,985.8 L1145.6,987.6 L1152.2,989.4 L1158.7,991.2 L1165.3,993.1 L1171.9,994.9 L1178.4,996.8 L1185.0,998.6 L1191.6,1000.5 L1198.1,1002.4 L1204.7,1004.3 L1211.2,1006.2 L1217.8,1008.2 L1224.3,1010.1 L1230.9,1012.0 L1237.4,1014.0 L1244.0,1015.9 L1250.5,1017.9 L1257.0,1019.9 L1263.6,1021.9 L1270.1,1023.9 L1276.6,1025.9 L1283.1,1027.9 L1289.7,1030.0 L1296.2,1032.0 L1302.7,1034.1 L1309.2,1036.1 L1315.7,1038.2 L1322.3,1040.3 L1328.8,1042.4 L1335.3,1044.5 L1341.8,1046.6 L1348.3,1048.7 L1354.8,1050.9 L1361.3,1053.0 L1367.8,1055.2 L1374.3,1057.4 L1380.7,1059.5 L1387.2,1061.7 L1393.7,1063.9 L1400.2,1066.1 L1406.7,1068.4 L1413.1,1070.6 L1419.6,1072.8 L1426.1,1075.1 L1432.6,1077.3 L1439.0,1079.6 L1445.5,1081.9 L1451.9,1084.2 L1458.4,1086.5 L1464.9,1088.8 L1471.3,1091.1 L1477.8,1093.5 L1484.2,1095.8 L1490.7,1098.1 L1497.1,1100.5 L1503.5,1102.9 L1510.0,1105.3 L1516.4,1107.7 L1522.9,1110.1 L1529.3,1112.5 L1535.7,1114.9 L1542.1,1117.4 L1548.6,1119.8 L1555.0,1122.3 L1561.4,1124.7 L1567.8,1127.2 L1574.2,1129.7 L1580.6,1132.2 L1587.1,1134.7 L1593.5,1137.2 L1599.9,1139.7 L1606.3,1142.3 L1612.7,1144.8 L1619.1,1147.4 L1625.5,1150.0 L1631.8,1152.5 L1638.2,1155.1 L1644.6,1157.7 L1651.0,1160.3" fill="none" stroke="rgba(0,42,78,0.820)" stroke-width="3.90" stroke-linecap="round"/><path d="M1236.2,1404.6 L1232.0,1404.6 L1227.8,1404.5 L1223.6,1404.4 L1219.3,1404.3 L1215.1,1404.2 L1210.9,1404.1 L1206.7,1404.0 L1202.5,1403.9 L1198.3,1403.7 L1194.1,1403.6 L1189.9,1403.4 L1185.7,1403.3 L1181.5,1403.1 L1177.3,1402.9 L1173.1,1402.7 L1168.9,1402.5 L1164.7,1402.3 L1160.5,1402.1 L1156.3,1401.9 L1152.1,1401.7 L1148.0,1401.4 L1143.8,1401.2 L1139.6,1400.9 L1135.4,1400.6 L1131.3,1400.3 L1127.1,1400.1 L1122.9,1399.8 L1118.7,1399.4 L1114.6,1399.1 L1110.4,1398.8 L1106.3,1398.5 L1102.1,1398.1 L1098.0,1397.8 L1093.8,1397.4 L1089.6,1397.0 L1085.5,1396.7 L1081.4,1396.3 L1077.2,1395.9 L1073.1,1395.5 L1070.3,1395.2" fill="none" stroke="rgba(0,42,78,0.820)" stroke-width="4.22" stroke-linecap="round" stroke-dasharray="4.3 9.4"/><path d="M1070.3,1395.2 L1068.9,1395.0 L1064.8,1394.6 L1060.7,1394.2 L1056.5,1393.7 L1052.4,1393.3 L1048.3,1392.8 L1044.1,1392.3 L1040.0,1391.9 L1035.9,1391.4 L1031.8,1390.9 L1027.7,1390.4 L1023.5,1389.8 L1019.4,1389.3 L1015.3,1388.8 L1011.2,1388.2 L1007.1,1387.7 L1003.0,1387.1 L998.9,1386.5 L994.8,1386.0 L990.7,1385.4 L986.6,1384.8 L982.5,1384.2 L978.4,1383.5 L974.3,1382.9 L970.3,1382.3 L966.2,1381.6 L962.1,1381.0 L958.0,1380.3 L953.9,1379.6 L949.9,1378.9 L945.8,1378.3 L941.7,1377.6 L937.6,1376.8 L933.6,1376.1 L929.5,1375.4 L925.5,1374.7 L921.4,1373.9 L917.3,1373.2 L913.3,1372.4 L909.2,1371.6 L905.2,1370.8 L901.1,1370.0 L897.1,1369.2 L893.0,1368.4 L889.0,1367.6 L885.0,1366.8 L880.9,1365.9 L876.9,1365.1 L872.9,1364.2 L868.8,1363.4 L864.8,1362.5 L860.8,1361.6 L856.8,1360.7 L852.7,1359.8 L848.7,1358.9 L844.7,1358.0 L840.7,1357.0 L836.7,1356.1 L832.7,1355.2 L828.6,1354.2 L824.6,1353.2 L820.6,1352.3 L816.6,1351.3 L812.6,1350.3 L808.6,1349.3 L804.6,1348.3 L800.7,1347.2 L796.7,1346.2 L792.7,1345.2 L788.7,1344.1 L784.7,1343.1 L780.7,1342.0 L776.7,1340.9 L772.8,1339.8 L768.8,1338.7 L764.8,1337.6 L760.8,1336.5 L756.9,1335.4 L752.9,1334.3 L748.9,1333.1 L745.0,1332.0 L741.0,1330.8 L737.1,1329.7 L733.1,1328.5 L729.2,1327.3 L725.2,1326.1 L721.3,1324.9 L717.3,1323.7 L713.4,1322.5 L709.4,1321.2 L705.5,1320.0 L701.6,1318.7 L697.6,1317.5 L693.7,1316.2 L689.8,1314.9 L685.8,1313.6 L681.9,1312.3 L678.0,1311.0 L674.1,1309.7 L670.1,1308.4 L666.2,1307.1 L662.3,1305.7 L658.4,1304.4 L654.5,1303.0 L650.6,1301.6 L646.7,1300.3 L642.8,1298.9 L638.9,1297.5 L635.0,1296.1 L631.1,1294.7 L627.2,1293.2 L623.3,1291.8 L619.4,1290.4 L615.5,1288.9 L611.6,1287.5 L607.7,1286.0 L603.8,1284.5 L600.0,1283.0 L596.1,1281.5 L592.2,1280.0 L588.3,1278.5 L584.5,1277.0 L580.6,1275.4 L576.7,1273.9 L572.9,1272.3 L569.0,1270.8 L565.1,1269.2 L561.3,1267.6 L557.4,1266.0 L553.6,1264.4 L549.7,1262.8 L545.9,1261.2 L542.0,1259.6 L538.2,1258.0 L534.3,1256.3 L530.5,1254.7 L526.7,1253.0 L522.8,1251.3 L519.0,1249.7 L515.2,1248.0 L511.3,1246.3 L507.5,1244.6 L503.7,1242.8 L499.9,1241.1 L496.1,1239.4 L492.2,1237.6 L488.4,1235.9 L484.6,1234.1 L480.8,1232.3 L477.0,1230.6 L473.2,1228.8 L469.4,1227.0 L465.6,1225.2 L461.8,1223.4 L458.0,1221.5 L454.2,1219.7 L450.4,1217.8" fill="none" stroke="rgba(0,42,78,0.820)" stroke-width="4.22" stroke-linecap="round"/><path d="M1673.2,1234.3 L1672.3,1235.8 L1671.3,1237.2 L1670.4,1238.7 L1669.5,1240.1 L1668.6,1241.5 L1667.7,1242.9 L1666.7,1244.3 L1665.8,1245.7 L1664.9,1247.1 L1663.9,1248.5 L1663.0,1249.9 L1662.0,1251.3 L1661.1,1252.6 L1660.1,1254.0 L1659.1,1255.3 L1658.2,1256.7 L1657.2,1258.0 L1656.2,1259.3 L1655.2,1260.6 L1654.3,1262.0 L1653.3,1263.3 L1652.3,1264.6 L1651.3,1265.8 L1650.3,1267.1 L1649.3,1268.4 L1648.3,1269.7 L1647.2,1270.9 L1646.2,1272.2 L1645.2,1273.4 L1644.2,1274.7 L1643.2,1275.9 L1642.1,1277.1 L1641.1,1278.3 L1640.1,1279.6 L1639.0,1280.8 L1638.0,1282.0 L1636.9,1283.1 L1635.8,1284.3 L1635.6,1284.6" fill="none" stroke="rgba(0,42,78,0.820)" stroke-width="4.60" stroke-linecap="round" stroke-dasharray="3.9 9.8"/><path d="M1635.6,1284.6 L1634.8,1285.5 L1633.7,1286.7 L1632.7,1287.8 L1631.6,1289.0 L1630.5,1290.1 L1629.4,1291.3 L1628.3,1292.4 L1627.3,1293.5 L1626.2,1294.6 L1625.1,1295.8 L1624.0,1296.9 L1622.9,1298.0 L1621.7,1299.0 L1620.6,1300.1 L1619.5,1301.2 L1618.4,1302.3 L1617.3,1303.3 L1616.1,1304.4 L1615.0,1305.4 L1613.9,1306.5 L1612.7,1307.5 L1611.6,1308.5 L1610.4,1309.5 L1609.3,1310.5 L1608.1,1311.5 L1607.0,1312.5 L1605.8,1313.5 L1604.6,1314.5 L1603.5,1315.5 L1602.3,1316.4 L1601.1,1317.4 L1599.9,1318.4 L1598.7,1319.3 L1597.5,1320.2 L1596.3,1321.2 L1595.1,1322.1 L1593.9,1323.0 L1592.7,1323.9 L1591.5,1324.8 L1590.3,1325.7 L1589.1,1326.6 L1587.8,1327.5 L1586.6,1328.3 L1585.4,1329.2 L1584.1,1330.1 L1582.9,1330.9 L1581.6,1331.8 L1580.4,1332.6 L1579.1,1333.4 L1577.9,1334.2 L1576.6,1335.1 L1575.4,1335.9 L1574.1,1336.7 L1572.8,1337.5 L1571.5,1338.2 L1570.2,1339.0 L1569.0,1339.8 L1567.7,1340.6 L1566.4,1341.3 L1565.1,1342.1 L1563.8,1342.8 L1562.5,1343.5 L1561.2,1344.3 L1559.8,1345.0 L1558.5,1345.7 L1557.2,1346.4 L1555.9,1347.1 L1554.5,1347.8 L1553.2,1348.5 L1551.9,1349.2 L1550.5,1349.8 L1549.2,1350.5 L1547.8,1351.2 L1546.5,1351.8 L1545.1,1352.4 L1543.8,1353.1 L1542.4,1353.7 L1541.0,1354.3 L1539.6,1354.9 L1538.3,1355.5 L1536.9,1356.1 L1535.5,1356.7 L1534.1,1357.3 L1532.7,1357.9 L1531.3,1358.5 L1529.9,1359.0 L1528.5,1359.6 L1527.1,1360.1 L1525.7,1360.7 L1524.3,1361.2 L1522.8,1361.7 L1521.4,1362.2 L1520.0,1362.8 L1518.5,1363.3 L1517.1,1363.8 L1515.7,1364.2 L1514.2,1364.7 L1512.8,1365.2 L1511.3,1365.7 L1509.8,1366.1 L1508.4,1366.6 L1506.9,1367.0 L1505.4,1367.5 L1504.0,1367.9 L1502.5,1368.3 L1501.0,1368.7 L1499.5,1369.2 L1498.0,1369.6 L1496.5,1370.0 L1495.0,1370.3 L1493.5,1370.7 L1492.0,1371.1 L1490.5,1371.5 L1489.0,1371.8 L1487.5,1372.2 L1485.9,1372.5 L1484.4,1372.9 L1482.9,1373.2 L1481.3,1373.5 L1479.8,1373.8 L1478.3,1374.2 L1476.7,1374.5 L1475.2,1374.7 L1473.6,1375.0 L1472.0,1375.3 L1470.5,1375.6 L1468.9,1375.9 L1467.3,1376.1 L1465.8,1376.4 L1464.2,1376.6 L1462.6,1376.9 L1461.0,1377.1 L1459.4,1377.3 L1457.8,1377.5 L1456.2,1377.7 L1454.6,1377.9 L1453.0,1378.1 L1451.4,1378.3 L1449.8,1378.5 L1448.2,1378.7 L1446.5,1378.8 L1444.9,1379.0 L1443.3,1379.1 L1441.6,1379.3 L1440.0,1379.4 L1438.3,1379.6 L1436.7,1379.7 L1435.0,1379.8 L1433.4,1379.9 L1431.7,1380.0" fill="none" stroke="rgba(0,42,78,0.820)" stroke-width="4.60" stroke-linecap="round"/><path d="M1663.8,1210.4 L1660.0,1212.3 L1656.2,1214.1 L1652.4,1216.0 L1648.6,1217.8 L1644.8,1219.7 L1641.0,1221.5 L1637.2,1223.4 L1633.4,1225.2 L1629.6,1227.0 L1625.8,1228.8 L1622.0,1230.6 L1618.2,1232.3 L1614.4,1234.1 L1610.6,1235.9 L1606.8,1237.6 L1602.9,1239.4 L1599.1,1241.1 L1595.3,1242.8 L1591.5,1244.6 L1587.7,1246.3 L1583.8,1248.0 L1580.0,1249.7 L1576.2,1251.3 L1572.3,1253.0 L1568.5,1254.7 L1564.7,1256.3 L1560.8,1258.0 L1557.0,1259.6 L1553.1,1261.2 L1549.3,1262.8 L1545.4,1264.4 L1541.6,1266.0 L1537.7,1267.6 L1533.9,1269.2 L1530.0,1270.8 L1526.1,1272.3 L1522.3,1273.9 L1518.4,1275.4 L1514.5,1277.0 L1511.9,1278.0" fill="none" stroke="rgba(0,42,78,0.820)" stroke-width="4.61" stroke-linecap="round" stroke-dasharray="3.9 9.8"/><path d="M1511.9,1278.0 L1510.7,1278.5 L1506.8,1280.0 L1502.9,1281.5 L1499.0,1283.0 L1495.2,1284.5 L1491.3,1286.0 L1487.4,1287.5 L1483.5,1288.9 L1479.6,1290.4 L1475.7,1291.8 L1471.8,1293.2 L1467.9,1294.7 L1464.0,1296.1 L1460.1,1297.5 L1456.2,1298.9 L1452.3,1300.3 L1448.4,1301.6 L1444.5,1303.0 L1440.6,1304.4 L1436.7,1305.7 L1432.8,1307.1 L1428.9,1308.4 L1424.9,1309.7 L1421.0,1311.0 L1417.1,1312.3 L1413.2,1313.6 L1409.2,1314.9 L1405.3,1316.2 L1401.4,1317.5 L1397.4,1318.7 L1393.5,1320.0 L1389.6,1321.2 L1385.6,1322.5 L1381.7,1323.7 L1377.7,1324.9 L1373.8,1326.1 L1369.8,1327.3 L1365.9,1328.5 L1361.9,1329.7 L1358.0,1330.8 L1354.0,1332.0 L1350.1,1333.1 L1346.1,1334.3 L1342.1,1335.4 L1338.2,1336.5 L1334.2,1337.6 L1330.2,1338.7 L1326.2,1339.8 L1322.3,1340.9 L1318.3,1342.0 L1314.3,1343.1 L1310.3,1344.1 L1306.3,1345.2 L1302.3,1346.2 L1298.3,1347.2 L1294.4,1348.3 L1290.4,1349.3 L1286.4,1350.3 L1282.4,1351.3 L1278.4,1352.3 L1274.4,1353.2 L1270.4,1354.2 L1266.3,1355.2 L1262.3,1356.1 L1258.3,1357.0 L1254.3,1358.0 L1250.3,1358.9 L1246.3,1359.8 L1242.2,1360.7 L1238.2,1361.6 L1234.2,1362.5 L1230.2,1363.4 L1226.1,1364.2 L1222.1,1365.1 L1218.1,1365.9 L1214.0,1366.8 L1210.0,1367.6 L1206.0,1368.4 L1201.9,1369.2 L1197.9,1370.0 L1193.8,1370.8 L1189.8,1371.6 L1185.7,1372.4 L1181.7,1373.2 L1177.6,1373.9 L1173.5,1374.7 L1169.5,1375.4 L1165.4,1376.1 L1161.4,1376.8 L1157.3,1377.6 L1153.2,1378.3 L1149.1,1378.9 L1145.1,1379.6 L1141.0,1380.3 L1136.9,1381.0 L1132.8,1381.6 L1128.7,1382.3 L1124.7,1382.9 L1120.6,1383.5 L1116.5,1384.2 L1112.4,1384.8 L1108.3,1385.4 L1104.2,1386.0 L1100.1,1386.5 L1096.0,1387.1 L1091.9,1387.7 L1087.8,1388.2 L1083.7,1388.8 L1079.6,1389.3 L1075.5,1389.8 L1071.3,1390.4 L1067.2,1390.9 L1063.1,1391.4 L1059.0,1391.9 L1054.9,1392.3 L1050.7,1392.8 L1046.6,1393.3 L1042.5,1393.7 L1038.3,1394.2 L1034.2,1394.6 L1030.1,1395.0 L1025.9,1395.5 L1021.8,1395.9 L1017.6,1396.3 L1013.5,1396.7 L1009.4,1397.0 L1005.2,1397.4 L1001.0,1397.8 L996.9,1398.1 L992.7,1398.5 L988.6,1398.8 L984.4,1399.1 L980.3,1399.4 L976.1,1399.8 L971.9,1400.1 L967.7,1400.3 L963.6,1400.6 L959.4,1400.9 L955.2,1401.2 L951.0,1401.4 L946.9,1401.7 L942.7,1401.9 L938.5,1402.1 L934.3,1402.3 L930.1,1402.5 L925.9,1402.7 L921.7,1402.9 L917.5,1403.1 L913.3,1403.3 L909.1,1403.4 L904.9,1403.6 L900.7,1403.7 L896.5,1403.9 L892.3,1404.0 L888.1,1404.1 L883.9,1404.2 L879.7,1404.3" fill="none" stroke="rgba(0,42,78,0.820)" stroke-width="4.61" stroke-linecap="round"/><path d="M702.2,1493.1 L700.5,1492.9 L698.8,1492.8 L697.1,1492.8 L695.4,1492.7 L693.7,1492.7 L692.0,1492.8 L690.3,1492.9 L688.6,1493.0 L686.9,1493.2 L685.2,1493.4 L683.5,1493.6 L681.8,1493.9 L680.2,1494.2 L678.5,1494.6 L676.8,1495.0 L675.2,1495.4 L673.5,1495.9 L671.9,1496.4 L670.3,1496.9 L668.7,1497.5 L667.1,1498.1 L665.5,1498.8 L664.0,1499.5 L662.4,1500.2 L660.9,1500.9 L659.4,1501.7 L657.9,1502.6 L656.4,1503.4 L655.0,1504.3 L653.6,1505.3 L652.2,1506.2 L650.8,1507.2 L649.4,1508.2 L648.1,1509.3 L646.8,1510.4 L645.5,1511.5 L644.2,1512.6 L643.0,1513.8 L641.8,1515.0 L640.6,1516.2 L639.4,1517.5 L638.3,1518.8 L637.2,1520.1 L636.1,1521.4 L635.1,1522.8 L634.1,1524.2 L633.1,1525.6 L632.2,1527.0 L631.3,1528.4 L630.4,1529.9 L629.6,1531.4 L628.8,1532.9 L628.0,1534.4 L627.3,1535.9 L626.6,1537.5 L625.9,1539.1 L625.3,1540.7 L624.7,1542.3 L624.2,1543.9 L623.6,1545.5 L623.2,1547.1 L622.7,1548.8 L622.3,1550.4 L622.0,1552.1 L621.6,1553.8 L621.3,1555.4 L621.1,1557.1 L620.9,1558.8 L620.7,1560.5 L620.6,1562.2 L620.5,1563.9 L620.4,1565.6 L620.4,1567.3 L620.4,1569.0 L620.5,1570.7 L620.6,1572.4 L620.7,1574.1 L620.9,1575.8 L621.1,1577.5 L621.4,1579.2 L621.7,1580.9 L622.0,1582.6 L622.4,1584.2 L622.8,1585.9 L623.2,1587.5 L623.7,1589.2 L624.2,1590.8 L624.8,1592.4 L625.4,1594.0 L626.0,1595.6 L626.7,1597.1 L627.4,1598.7 L628.1,1600.2 L628.9,1601.8 L629.7,1603.3 L630.5,1604.7 L631.4,1606.2 L632.3,1607.6 L633.2,1609.1 L634.2,1610.5 L635.2,1611.8 L636.3,1613.2 L637.3,1614.5 L638.4,1615.8 L639.5,1617.1 L640.7,1618.4 L641.9,1619.6 L643.1,1620.8 L644.3,1622.0 L645.6,1623.1 L646.9,1624.2 L648.2,1625.3 L649.6,1626.3 L650.9,1627.4 L652.3,1628.4 L653.7,1629.3 L655.1,1630.2 L656.6,1631.1 L658.1,1632.0 L659.6,1632.8 L661.1,1633.6 L662.6,1634.4 L664.1,1635.1 L665.7,1635.8 L667.3,1636.4 L668.9,1637.0 L670.5,1637.6 L672.1,1638.2 L673.7,1638.7 L675.4,1639.1 L677.0,1639.6 L678.7,1639.9 L680.3,1640.3 L682.0,1640.6 L683.7,1640.9 L685.4,1641.1 L687.1,1641.3 L688.8,1641.5 L690.5,1641.6 L692.2,1641.7 L693.9,1641.7 L695.6,1641.7 L697.3,1641.7 L699.0,1641.6 L700.7,1641.5 L702.4,1641.4 L704.1,1641.2 L705.8,1640.9 L707.5,1640.7 L709.1,1640.4 L710.8,1640.0 L712.5,1639.6 L714.1,1639.2 L715.8,1638.8 L717.4,1638.3 L719.0,1637.7 L720.6,1637.2 L722.2,1636.6 L723.8,1635.9 L725.3,1635.2 L726.9,1634.5 L728.4,1633.8 L729.9,1633.0 L731.4,1632.2 L732.9,1631.3 L734.4,1630.4 L735.8,1629.5 L737.2,1628.5 L738.6,1627.6 L740.0,1626.5 L741.3,1625.5 L742.6,1624.4 L743.9,1623.3 L745.2,1622.2 L746.5,1621.0 L747.7,1619.8 L748.9,1618.6 L750.0,1617.4 L751.2,1616.1 L752.3,1614.8 L753.3,1613.5 L754.4,1612.1 L755.4,1610.7 L756.4,1609.3 L757.3,1607.9 L758.2,1606.5 L759.1,1605.0 L760.0,1603.5 L760.8,1602.0 L761.5,1600.5 L762.3,1599.0 L763.0,1597.4 L763.7,1595.9 L764.3,1594.3 L764.9,1592.7 L765.5,1591.1 L766.0,1589.5 L766.5,1587.8 L766.9,1586.2 L767.4,1584.5 L767.7,1582.9 L768.1,1581.2 L768.4,1579.5 L768.6,1577.8 L768.9,1576.2 L769.0,1574.5 L769.2,1572.8 L769.3,1571.1 L769.4,1569.4 L769.4,1567.7 L769.4,1566.0 L769.3,1564.2 L769.2,1562.5 L769.1,1560.8 L769.0,1559.1 L768.7,1557.5 L768.5,1555.8 L768.2,1554.1 L767.9,1552.4 L767.5,1550.7 L767.2,1549.1 L766.7,1547.4 L766.2,1545.8 L765.7,1544.2 L765.2,1542.6 L764.6,1541.0 L764.0,1539.4 L763.3,1537.8 L762.6,1536.2" fill="none" stroke="rgba(0,42,78,0.820)" stroke-width="4.77" stroke-linecap="round"/><path d="M308.2,750.0 L308.4,748.6 L308.5,747.2 L308.7,745.8 L308.9,744.4 L309.1,743.0 L309.3,741.6 L309.5,740.2 L309.7,738.8 L309.9,737.4 L310.1,736.0 L310.3,734.7 L310.6,733.3 L310.8,731.9 L311.0,730.6 L311.3,729.2 L311.6,727.9 L311.8,726.6 L312.1,725.2 L312.4,723.9 L312.6,722.6 L312.9,721.3 L313.2,720.0 L313.5,718.7 L313.8,717.4 L314.1,716.1 L314.4,714.8 L314.8,713.5 L315.1,712.2 L315.4,710.9 L315.8,709.7 L316.1,708.4 L316.5,707.2 L316.8,705.9 L317.2,704.7 L317.6,703.4 L317.9,702.2 L318.3,701.0 L318.5,700.4" fill="none" stroke="rgba(0,42,78,0.820)" stroke-width="5.28" stroke-linecap="round" stroke-dasharray="4.2 11.1"/><path d="M318.5,700.4 L318.7,699.7 L319.1,698.5 L319.5,697.3 L319.9,696.1 L320.3,694.9 L320.7,693.7 L321.2,692.5 L321.6,691.3 L322.0,690.1 L322.5,689.0 L322.9,687.8 L323.4,686.6 L323.9,685.5 L324.3,684.3 L324.8,683.1 L325.3,682.0 L325.8,680.9 L326.3,679.7 L326.8,678.6 L327.3,677.5 L327.8,676.4 L328.3,675.2 L328.8,674.1 L329.4,673.0 L329.9,671.9 L330.4,670.9 L331.0,669.8 L331.5,668.7 L332.1,667.6 L332.7,666.5 L333.2,665.5 L333.8,664.4 L334.4,663.4 L335.0,662.3 L335.6,661.3 L336.2,660.2 L336.8,659.2 L337.4,658.2 L338.1,657.1 L338.7,656.1 L339.3,655.1 L340.0,654.1 L340.6,653.1 L341.3,652.1 L341.9,651.1 L342.6,650.1 L343.3,649.2 L343.9,648.2 L344.6,647.2 L345.3,646.2 L346.0,645.3 L346.7,644.3 L347.4,643.4 L348.1,642.4 L348.9,641.5 L349.6,640.6 L350.3,639.6 L351.1,638.7 L351.8,637.8 L352.6,636.9 L353.3,636.0 L354.1,635.1 L354.8,634.2 L355.6,633.3 L356.4,632.4 L357.2,631.5 L358.0,630.7 L358.8,629.8 L359.6,628.9 L360.4,628.1 L361.2,627.2 L362.1,626.4 L362.9,625.5 L363.7,624.7 L364.6,623.9 L365.4,623.1 L366.3,622.2 L367.1,621.4 L368.0,620.6 L368.9,619.8 L369.8,619.0 L370.6,618.2 L371.5,617.4 L372.4,616.6 L373.3,615.9 L374.3,615.1 L375.2,614.3 L376.1,613.6 L377.0,612.8 L378.0,612.1 L378.9,611.3 L379.8,610.6 L380.8,609.8 L381.8,609.1 L382.7,608.4 L383.7,607.7 L384.7,606.9 L385.7,606.2 L386.7,605.5 L387.7,604.8 L388.7,604.1 L389.7,603.4 L390.7,602.8 L391.7,602.1 L392.7,601.4 L393.8,600.8 L394.8,600.1 L395.8,599.4 L396.9,598.8 L398.0,598.1 L399.0,597.5 L400.1,596.9 L401.2,596.2 L402.3,595.6 L403.3,595.0 L404.4,594.4 L405.5,593.8 L406.6,593.2 L407.8,592.6 L408.9,592.0 L410.0,591.4 L411.1,590.8 L412.3,590.2 L413.4,589.7 L414.6,589.1 L415.7,588.5 L416.9,588.0 L418.1,587.4 L419.2,586.9 L420.4,586.4 L421.6,585.8 L422.8,585.3 L424.0,584.8 L425.2,584.3 L426.4,583.7 L427.6,583.2 L428.9,582.7 L430.1,582.2 L431.3,581.8 L432.6,581.3 L433.8,580.8 L435.1,580.3 L436.3,579.8 L437.6,579.4 L438.9,578.9 L440.2,578.5 L441.4,578.0 L442.7,577.6 L444.0,577.1" fill="none" stroke="rgba(0,42,78,0.820)" stroke-width="5.28" stroke-linecap="round"/><path d="M1141.8,395.0 L1143.5,395.4 L1145.2,395.8 L1146.9,396.2 L1148.6,396.6 L1150.3,397.0 L1152.0,397.5 L1153.7,397.9 L1155.4,398.3 L1157.1,398.7 L1158.8,399.1 L1160.5,399.5 L1162.2,399.9 L1163.9,400.3 L1165.6,400.8 L1167.3,401.2 L1169.0,401.6 L1170.7,402.0 L1172.4,402.4 L1174.1,402.8 L1175.8,403.2 L1177.5,403.6 L1179.2,404.1 L1180.9,404.5 L1182.6,404.9 L1184.3,405.3 L1186.0,405.7 L1187.7,406.1 L1189.4,406.5 L1191.1,406.9 L1192.8,407.3 L1194.5,407.8 L1196.2,408.2 L1197.9,408.6 L1199.6,409.0 L1201.3,409.4 L1203.0,409.8 L1204.7,410.2 L1206.4,410.6 L1208.1,411.1 L1209.8,411.5" fill="none" stroke="rgba(0,42,78,0.820)" stroke-width="5.75" stroke-linecap="round" stroke-dasharray="4.6 12.1"/><path d="M1209.8,411.5 L1209.8,411.5 L1211.5,411.9 L1213.2,412.3 L1214.9,412.7 L1216.6,413.1 L1218.3,413.5 L1220.0,413.9 L1221.7,414.4 L1223.4,414.8 L1225.1,415.2 L1226.8,415.6 L1228.5,416.0 L1230.2,416.4 L1231.9,416.8 L1233.6,417.2 L1235.3,417.6 L1237.0,418.1 L1238.7,418.5 L1240.4,418.9 L1242.1,419.3 L1243.8,419.7 L1245.5,420.1 L1247.2,420.5 L1248.9,420.9 L1250.6,421.4 L1252.3,421.8 L1254.0,422.2 L1255.7,422.6 L1257.4,423.0 L1259.1,423.4 L1260.8,423.8 L1262.5,424.2 L1264.2,424.7 L1265.9,425.1 L1267.5,425.5 L1269.2,425.9 L1270.9,426.3 L1272.6,426.7 L1274.3,427.1 L1276.0,427.5 L1277.7,427.9 L1279.4,428.4 L1281.1,428.8 L1282.8,429.2 L1284.5,429.6 L1286.2,430.0 L1287.9,430.4 L1289.6,430.8 L1291.3,431.2 L1293.0,431.7 L1294.7,432.1 L1296.4,432.5 L1298.1,432.9 L1299.8,433.3 L1301.5,433.7 L1303.2,434.1 L1304.9,434.5 L1306.6,435.0 L1308.3,435.4 L1310.0,435.8 L1311.7,436.2 L1313.4,436.6 L1315.1,437.0 L1316.8,437.4 L1318.5,437.8 L1320.2,438.2 L1321.9,438.7 L1323.6,439.1 L1325.3,439.5 L1327.0,439.9 L1328.7,440.3 L1330.4,440.7 L1332.1,441.1 L1333.8,441.5 L1335.5,442.0 L1337.2,442.4 L1338.9,442.8 L1340.6,443.2 L1342.3,443.6 L1344.0,444.0 L1345.7,444.4 L1347.4,444.8 L1349.1,445.3 L1350.8,445.7 L1352.5,446.1 L1354.2,446.5 L1355.9,446.9 L1357.6,447.3 L1359.3,447.7 L1361.0,448.1 L1362.7,448.5 L1364.4,449.0 L1366.1,449.4 L1367.8,449.8 L1369.5,450.2 L1371.2,450.6 L1372.9,451.0 L1374.6,451.4 L1376.3,451.8 L1378.0,452.3 L1379.7,452.7 L1381.4,453.1 L1383.1,453.5 L1384.8,453.9 L1386.5,454.3 L1388.2,454.7 L1389.9,455.1 L1391.6,455.6 L1393.3,456.0 L1395.0,456.4 L1396.7,456.8 L1398.4,457.2 L1400.1,457.6 L1401.8,458.0 L1403.5,458.4 L1405.2,458.8 L1406.9,459.3 L1408.6,459.7 L1410.3,460.1 L1412.0,460.5 L1413.7,460.9 L1415.4,461.3 L1417.1,461.7 L1418.8,462.1 L1420.5,462.6 L1422.2,463.0 L1423.9,463.4 L1425.6,463.8 L1427.3,464.2 L1429.0,464.6 L1430.7,465.0 L1432.4,465.4 L1434.1,465.9 L1435.8,466.3 L1437.4,466.7 L1439.1,467.1 L1440.8,467.5 L1442.5,467.9 L1444.2,468.3 L1445.9,468.7 L1447.6,469.1 L1449.3,469.6 L1451.0,470.0 L1452.7,470.4 L1454.4,470.8 L1456.1,471.2 L1457.8,471.6 L1459.5,472.0 L1461.2,472.4 L1462.9,472.9" fill="none" stroke="rgba(0,42,78,0.820)" stroke-width="5.75" stroke-linecap="round"/><path d="M1266.3,1355.2 L1262.2,1351.9 L1258.1,1348.7 L1253.9,1345.4 L1249.8,1342.1 L1245.7,1338.8 L1241.6,1335.5 L1237.5,1332.1 L1233.4,1328.8 L1229.4,1325.5 L1225.3,1322.2 L1221.2,1318.8 L1217.2,1315.5 L1213.1,1312.1 L1209.1,1308.8 L1205.0,1305.4 L1201.0,1302.0 L1197.0,1298.7 L1193.0,1295.3 L1189.0,1291.9 L1185.0,1288.5 L1181.0,1285.1 L1177.0,1281.7 L1173.0,1278.3 L1169.1,1274.8 L1165.1,1271.4 L1161.2,1268.0 L1157.2,1264.5 L1153.3,1261.1 L1149.4,1257.6 L1145.4,1254.2 L1141.5,1250.7 L1137.6,1247.2 L1133.7,1243.7 L1129.8,1240.2 L1125.9,1236.8 L1122.1,1233.3 L1118.2,1229.7 L1114.3,1226.2 L1110.5,1222.7 L1107.5,1220.0" fill="none" stroke="rgba(0,42,78,0.820)" stroke-width="5.86" stroke-linecap="round" stroke-dasharray="4.7 12.3"/><path d="M1107.5,1220.0 L1106.6,1219.2 L1102.8,1215.7 L1099.0,1212.1 L1095.1,1208.6 L1091.3,1205.0 L1087.5,1201.5 L1083.7,1197.9 L1079.9,1194.3 L1076.1,1190.7 L1072.3,1187.2 L1068.6,1183.6 L1064.8,1180.0 L1061.0,1176.4 L1057.3,1172.8 L1053.6,1169.1 L1049.8,1165.5 L1046.1,1161.9 L1042.4,1158.2 L1038.7,1154.6 L1035.0,1150.9 L1031.3,1147.3 L1027.6,1143.6 L1023.9,1140.0 L1020.2,1136.3 L1016.5,1132.6 L1012.9,1128.9 L1009.2,1125.2 L1005.6,1121.5 L1001.9,1117.8 L998.3,1114.1 L994.7,1110.4 L991.1,1106.6 L987.5,1102.9 L983.9,1099.2 L980.3,1095.4 L976.7,1091.7 L973.1,1087.9 L969.5,1084.2 L966.0,1080.4 L962.4,1076.6 L958.9,1072.8 L955.3,1069.0 L951.8,1065.2 L948.3,1061.4 L944.7,1057.6 L941.2,1053.8 L937.7,1050.0 L934.2,1046.1 L930.7,1042.3 L927.3,1038.5 L923.8,1034.6 L920.3,1030.7 L916.9,1026.9 L913.4,1023.0 L910.0,1019.1 L906.5,1015.3 L903.1,1011.4 L899.7,1007.5 L896.3,1003.6 L892.9,999.7 L889.5,995.7 L886.1,991.8 L882.7,987.9 L879.3,984.0 L875.9,980.0 L872.6,976.1 L869.2,972.1 L865.9,968.2 L862.5,964.2 L859.2,960.2 L855.9,956.2 L852.6,952.3 L849.3,948.3 L846.0,944.3 L842.7,940.3 L839.4,936.2 L836.1,932.2 L832.8,928.2 L829.6,924.2 L826.3,920.1 L823.1,916.1 L819.8,912.0 L816.6,908.0 L813.3,903.9 L810.1,899.8 L806.9,895.8 L803.7,891.7 L800.5,887.6 L797.3,883.5 L794.1,879.4 L791.0,875.3 L787.8,871.2 L784.6,867.0 L781.5,862.9 L778.3,858.8 L775.2,854.6 L772.1,850.5 L768.9,846.3 L765.8,842.2 L762.7,838.0 L759.6,833.8 L756.5,829.7 L753.4,825.5 L750.4,821.3 L747.3,817.1 L744.2,812.9 L741.2,808.7 L738.1,804.4 L735.1,800.2 L732.1,796.0 L729.0,791.7 L726.0,787.5 L723.0,783.2 L720.0,779.0 L717.0,774.7 L714.0,770.5 L711.0,766.2 L708.1,761.9 L705.1,757.6 L702.1,753.3 L699.2,749.0 L696.2,744.7 L693.3,740.4 L690.4,736.1 L687.5,731.7 L684.5,727.4 L681.6,723.0 L678.7,718.7 L675.8,714.3 L673.0,710.0 L670.1,705.6 L667.2,701.2 L664.4,696.9 L661.5,692.5 L658.7,688.1 L655.8,683.7 L653.0,679.3 L650.2,674.9 L647.3,670.4 L644.5,666.0 L641.7,661.6 L638.9,657.1 L636.2,652.7 L633.4,648.2 L630.6,643.8 L627.8,639.3 L625.1,634.9 L622.3,630.4 L619.6,625.9 L616.9,621.4 L614.1,616.9 L611.4,612.4 L608.7,607.9 L606.0,603.4 L603.3,598.8 L600.6,594.3 L597.9,589.8 L595.2,585.2" fill="none" stroke="rgba(0,42,78,0.820)" stroke-width="5.86" stroke-linecap="round"/><path d="M1636.2,571.6 L1636.9,572.5 L1637.7,573.4 L1638.5,574.2 L1639.3,575.1 L1640.0,576.0 L1640.8,576.9 L1641.6,577.8 L1642.3,578.7 L1643.1,579.6 L1643.9,580.5 L1644.7,581.4 L1645.4,582.3 L1646.2,583.2 L1647.0,584.1 L1647.8,585.0 L1648.5,585.8 L1649.3,586.7 L1650.1,587.6 L1650.9,588.5 L1651.6,589.4 L1652.4,590.3 L1653.2,591.2 L1653.9,592.1 L1654.7,593.0 L1655.5,593.9 L1656.3,594.8 L1657.0,595.7 L1657.8,596.6 L1658.6,597.4 L1659.4,598.3 L1660.1,599.2 L1660.9,600.1 L1661.7,601.0 L1662.4,601.9 L1663.2,602.8 L1664.0,603.7 L1664.8,604.6 L1665.5,605.5 L1666.3,606.4 L1667.1,607.3" fill="none" stroke="rgba(0,42,78,0.820)" stroke-width="6.69" stroke-linecap="round" stroke-dasharray="5.3 14.1"/><path d="M1667.1,607.3 L1667.1,607.3 L1667.9,608.1 L1668.6,609.0 L1669.4,609.9 L1670.2,610.8 L1671.0,611.7 L1671.7,612.6 L1672.5,613.5 L1673.3,614.4 L1674.0,615.3 L1674.8,616.2 L1675.6,617.1 L1676.4,618.0 L1677.1,618.9 L1677.9,619.7 L1678.7,620.6 L1679.5,621.5 L1680.2,622.4 L1681.0,623.3 L1681.8,624.2 L1682.5,625.1 L1683.3,626.0 L1684.1,626.9 L1684.9,627.8 L1685.6,628.7 L1686.4,629.6 L1687.2,630.5 L1688.0,631.3 L1688.7,632.2 L1689.5,633.1 L1690.3,634.0 L1691.1,634.9 L1691.8,635.8 L1692.6,636.7 L1693.4,637.6 L1694.1,638.5 L1694.9,639.4 L1695.7,640.3 L1696.5,641.2 L1697.2,642.1 L1698.0,642.9 L1698.8,643.8 L1699.6,644.7 L1700.3,645.6 L1701.1,646.5 L1701.9,647.4 L1702.7,648.3 L1703.4,649.2 L1704.2,650.1 L1705.0,651.0 L1705.7,651.9 L1706.5,652.8 L1707.3,653.6 L1708.1,654.5 L1708.8,655.4 L1709.6,656.3 L1710.4,657.2 L1711.2,658.1 L1711.9,659.0 L1712.7,659.9 L1713.5,660.8 L1714.2,661.7 L1715.0,662.6 L1715.8,663.5 L1716.6,664.4 L1717.3,665.2 L1718.1,666.1 L1718.9,667.0 L1719.7,667.9 L1720.4,668.8 L1721.2,669.7 L1722.0,670.6 L1722.8,671.5 L1723.5,672.4 L1724.3,673.3 L1725.1,674.2 L1725.8,675.1 L1726.6,676.0 L1727.4,676.8 L1728.2,677.7 L1728.9,678.6 L1729.7,679.5 L1730.5,680.4 L1731.3,681.3 L1732.0,682.2 L1732.8,683.1 L1733.6,684.0 L1734.3,684.9 L1735.1,685.8 L1735.9,686.7 L1736.7,687.6 L1737.4,688.4 L1738.2,689.3 L1739.0,690.2 L1739.8,691.1 L1740.5,692.0 L1741.3,692.9 L1742.1,693.8 L1742.9,694.7 L1743.6,695.6 L1744.4,696.5 L1745.2,697.4 L1745.9,698.3 L1746.7,699.2 L1747.5,700.0 L1748.3,700.9 L1749.0,701.8 L1749.8,702.7 L1750.6,703.6 L1751.4,704.5 L1752.1,705.4 L1752.9,706.3 L1753.7,707.2 L1754.4,708.1 L1755.2,709.0 L1756.0,709.9 L1756.8,710.7 L1757.5,711.6 L1758.3,712.5 L1759.1,713.4 L1759.9,714.3 L1760.6,715.2 L1761.4,716.1 L1762.2,717.0 L1763.0,717.9 L1763.7,718.8 L1764.5,719.7 L1765.3,720.6 L1766.0,721.5 L1766.8,722.3 L1767.6,723.2 L1768.4,724.1 L1769.1,725.0 L1769.9,725.9 L1770.7,726.8 L1771.5,727.7 L1772.2,728.6 L1773.0,729.5 L1773.8,730.4 L1774.6,731.3 L1775.3,732.2 L1776.1,733.1 L1776.9,733.9 L1777.6,734.8" fill="none" stroke="rgba(0,42,78,0.820)" stroke-width="6.69" stroke-linecap="round"/><path d="M1233.6,1427.0 L1231.7,1427.8 L1229.9,1428.7 L1228.0,1429.5 L1226.2,1430.3 L1224.3,1431.1 L1222.5,1431.9 L1220.7,1432.7 L1218.8,1433.5 L1217.0,1434.2 L1215.1,1435.0 L1213.3,1435.7 L1211.5,1436.5 L1209.6,1437.2 L1207.8,1437.9 L1205.9,1438.7 L1204.1,1439.4 L1202.3,1440.1 L1200.4,1440.8 L1198.6,1441.5 L1196.7,1442.1 L1194.9,1442.8 L1193.1,1443.5 L1191.2,1444.1 L1189.4,1444.8 L1187.5,1445.4 L1185.7,1446.0 L1183.9,1446.6 L1182.0,1447.3 L1180.2,1447.9 L1178.3,1448.4 L1176.5,1449.0 L1174.7,1449.6 L1172.8,1450.2 L1171.0,1450.7 L1169.1,1451.3 L1167.3,1451.8 L1165.5,1452.4 L1163.6,1452.9 L1162.2,1453.3" fill="none" stroke="rgba(0,42,78,0.820)" stroke-width="6.70" stroke-linecap="round" stroke-dasharray="5.3 14.1"/><path d="M1162.2,1453.3 L1161.8,1453.4 L1159.9,1453.9 L1158.1,1454.4 L1156.3,1454.9 L1154.4,1455.4 L1152.6,1455.9 L1150.7,1456.3 L1148.9,1456.8 L1147.0,1457.2 L1145.2,1457.7 L1143.4,1458.1 L1141.5,1458.5 L1139.7,1459.0 L1137.8,1459.4 L1136.0,1459.8 L1134.2,1460.2 L1132.3,1460.5 L1130.5,1460.9 L1128.6,1461.3 L1126.8,1461.6 L1125.0,1462.0 L1123.1,1462.3 L1121.3,1462.7 L1119.4,1463.0 L1117.6,1463.3 L1115.8,1463.6 L1113.9,1463.9 L1112.1,1464.2 L1110.2,1464.5 L1108.4,1464.7 L1106.6,1465.0 L1104.7,1465.3 L1102.9,1465.5 L1101.0,1465.8 L1099.2,1466.0 L1097.4,1466.2 L1095.5,1466.4 L1093.7,1466.6 L1091.8,1466.8 L1090.0,1467.0 L1088.2,1467.2 L1086.3,1467.4 L1084.5,1467.5 L1082.6,1467.7 L1080.8,1467.8 L1078.9,1468.0 L1077.1,1468.1 L1075.3,1468.2 L1073.4,1468.3 L1071.6,1468.4 L1069.7,1468.5 L1067.9,1468.6 L1066.1,1468.7 L1064.2,1468.8 L1062.4,1468.8 L1060.5,1468.9 L1058.7,1468.9 L1056.9,1469.0 L1055.0,1469.0 L1053.2,1469.0 L1051.3,1469.0 L1049.5,1469.0 L1047.7,1469.0 L1045.8,1469.0 L1044.0,1469.0 L1042.1,1469.0 L1040.3,1468.9 L1038.5,1468.9 L1036.6,1468.8 L1034.8,1468.8 L1032.9,1468.7 L1031.1,1468.6 L1029.3,1468.5 L1027.4,1468.4 L1025.6,1468.3 L1023.7,1468.2 L1021.9,1468.1 L1020.1,1468.0 L1018.2,1467.8 L1016.4,1467.7 L1014.5,1467.5 L1012.7,1467.4 L1010.8,1467.2 L1009.0,1467.0 L1007.2,1466.8 L1005.3,1466.6 L1003.5,1466.4 L1001.6,1466.2 L999.8,1466.0 L998.0,1465.8 L996.1,1465.5 L994.3,1465.3 L992.4,1465.0 L990.6,1464.7 L988.8,1464.5 L986.9,1464.2 L985.1,1463.9 L983.2,1463.6 L981.4,1463.3 L979.6,1463.0 L977.7,1462.7 L975.9,1462.3 L974.0,1462.0 L972.2,1461.6 L970.4,1461.3 L968.5,1460.9 L966.7,1460.5 L964.8,1460.2 L963.0,1459.8 L961.2,1459.4 L959.3,1459.0 L957.5,1458.5 L955.6,1458.1 L953.8,1457.7 L952.0,1457.2 L950.1,1456.8 L948.3,1456.3 L946.4,1455.9 L944.6,1455.4 L942.7,1454.9 L940.9,1454.4 L939.1,1453.9 L937.2,1453.4 L935.4,1452.9 L933.5,1452.4 L931.7,1451.8 L929.9,1451.3 L928.0,1450.7 L926.2,1450.2 L924.3,1449.6 L922.5,1449.0 L920.7,1448.4 L918.8,1447.9 L917.0,1447.3 L915.1,1446.6 L913.3,1446.0 L911.5,1445.4 L909.6,1444.8 L907.8,1444.1 L905.9,1443.5 L904.1,1442.8 L902.3,1442.1 L900.4,1441.5 L898.6,1440.8 L896.7,1440.1 L894.9,1439.4 L893.1,1438.7 L891.2,1437.9 L889.4,1437.2 L887.5,1436.5 L885.7,1435.7 L883.9,1435.0" fill="none" stroke="rgba(0,42,78,0.820)" stroke-width="6.70" stroke-linecap="round"/><path d="M608.0,546.1 L612.8,550.0 L617.6,553.9 L622.5,557.7 L627.3,561.6 L632.2,565.4 L637.0,569.2 L641.9,573.0 L646.7,576.8 L651.6,580.6 L656.5,584.4 L661.3,588.2 L666.2,592.0 L671.1,595.8 L676.0,599.5 L680.9,603.3 L685.8,607.0 L690.7,610.7 L695.6,614.4 L700.5,618.1 L705.5,621.8 L710.4,625.5 L715.3,629.2 L720.3,632.9 L725.2,636.6 L730.1,640.2 L735.1,643.9 L740.1,647.5 L745.0,651.1 L750.0,654.7 L755.0,658.3 L759.9,662.0 L764.9,665.5 L769.9,669.1 L774.9,672.7 L779.9,676.3 L784.9,679.8 L789.9,683.4 L794.9,686.9 L799.9,690.4 L804.0,693.3" fill="none" stroke="rgba(0,42,78,0.820)" stroke-width="7.11" stroke-linecap="round" stroke-dasharray="5.7 15.0"/><path d="M804.0,693.3 L805.0,694.0 L810.0,697.5 L815.0,701.0 L820.0,704.5 L825.1,708.0 L830.1,711.4 L835.2,714.9 L840.2,718.4 L845.3,721.8 L850.4,725.2 L855.5,728.7 L860.5,732.1 L865.6,735.5 L870.7,738.9 L875.8,742.3 L880.9,745.7 L886.0,749.1 L891.1,752.4 L896.2,755.8 L901.3,759.1 L906.5,762.5 L911.6,765.8 L916.7,769.1 L921.9,772.5 L927.0,775.8 L932.1,779.1 L937.3,782.3 L942.5,785.6 L947.6,788.9 L952.8,792.2 L958.0,795.4 L963.1,798.6 L968.3,801.9 L973.5,805.1 L978.7,808.3 L983.9,811.5 L989.1,814.7 L994.3,817.9 L999.5,821.1 L1004.7,824.3 L1010.0,827.4 L1015.2,830.6 L1020.4,833.7 L1025.7,836.9 L1030.9,840.0 L1036.2,843.1 L1041.4,846.2 L1046.7,849.3 L1051.9,852.4 L1057.2,855.5 L1062.5,858.5 L1067.7,861.6 L1073.0,864.7 L1078.3,867.7 L1083.6,870.7 L1088.9,873.8 L1094.2,876.8 L1099.5,879.8 L1104.8,882.8 L1110.2,885.8 L1115.5,888.8 L1120.8,891.7 L1126.1,894.7 L1131.5,897.7 L1136.8,900.6 L1142.2,903.5 L1147.5,906.5 L1152.9,909.4 L1158.2,912.3 L1163.6,915.2 L1169.0,918.1 L1174.4,921.0 L1179.7,923.9 L1185.1,926.7 L1190.5,929.6 L1195.9,932.4 L1201.3,935.3 L1206.7,938.1 L1212.2,940.9 L1217.6,943.7 L1223.0,946.5 L1228.4,949.3 L1233.9,952.1 L1239.3,954.9 L1244.7,957.6 L1250.2,960.4 L1255.6,963.1 L1261.1,965.9 L1266.6,968.6 L1272.0,971.3 L1277.5,974.1 L1283.0,976.8 L1288.5,979.5 L1294.0,982.1 L1299.5,984.8 L1305.0,987.5 L1310.5,990.1 L1316.0,992.8 L1321.5,995.4 L1327.0,998.1 L1332.5,1000.7 L1338.1,1003.3 L1343.6,1005.9 L1349.1,1008.5 L1354.7,1011.1 L1360.2,1013.7 L1365.8,1016.2 L1371.3,1018.8 L1376.9,1021.3 L1382.5,1023.9 L1388.0,1026.4 L1393.6,1028.9 L1399.2,1031.5 L1404.8,1034.0 L1410.4,1036.5 L1416.0,1039.0 L1421.6,1041.4 L1427.2,1043.9 L1432.8,1046.4 L1438.4,1048.8 L1444.1,1051.3 L1449.7,1053.7 L1455.3,1056.1 L1461.0,1058.5 L1466.6,1060.9 L1472.3,1063.3 L1477.9,1065.7 L1483.6,1068.1 L1489.2,1070.5 L1494.9,1072.8 L1500.6,1075.2 L1506.3,1077.5 L1512.0,1079.9 L1517.6,1082.2 L1523.3,1084.5 L1529.0,1086.8 L1534.7,1089.1 L1540.5,1091.4 L1546.2,1093.7 L1551.9,1096.0 L1557.6,1098.2 L1563.3,1100.5 L1569.1,1102.7 L1574.8,1105.0 L1580.6,1107.2 L1586.3,1109.4 L1592.1,1111.6 L1597.8,1113.8 L1603.6,1116.0 L1609.4,1118.2 L1615.1,1120.4 L1620.9,1122.5 L1626.7,1124.7 L1632.5,1126.9 L1638.3,1129.0 L1644.1,1131.1 L1649.9,1133.2 L1655.7,1135.3" fill="none" stroke="rgba(0,42,78,0.820)" stroke-width="7.11" stroke-linecap="round"/><path d="M437.9,1188.0 L444.0,1187.0 L450.1,1185.9 L456.3,1184.9 L462.4,1184.0 L468.5,1183.0 L474.6,1182.0 L480.7,1181.0 L486.8,1180.1 L493.0,1179.1 L499.1,1178.2 L505.2,1177.3 L511.3,1176.4 L517.4,1175.5 L523.5,1174.6 L529.7,1173.7 L535.8,1172.8 L541.9,1172.0 L548.0,1171.1 L554.1,1170.3 L560.2,1169.5 L566.3,1168.6 L572.5,1167.8 L578.6,1167.0 L584.7,1166.3 L590.8,1165.5 L596.9,1164.7 L603.0,1164.0 L609.2,1163.2 L615.3,1162.5 L621.4,1161.7 L627.5,1161.0 L633.6,1160.3 L639.7,1159.6 L645.9,1158.9 L652.0,1158.3 L658.1,1157.6 L664.2,1157.0 L670.3,1156.3 L676.4,1155.7 L681.5,1155.2" fill="none" stroke="rgba(0,42,78,0.820)" stroke-width="7.85" stroke-linecap="round" stroke-dasharray="6.3 16.5"/><path d="M681.5,1155.2 L682.5,1155.1 L688.7,1154.4 L694.8,1153.8 L700.9,1153.2 L707.0,1152.7 L713.1,1152.1 L719.2,1151.5 L725.4,1151.0 L731.5,1150.4 L737.6,1149.9 L743.7,1149.4 L749.8,1148.9 L755.9,1148.4 L762.1,1147.9 L768.2,1147.4 L774.3,1147.0 L780.4,1146.5 L786.5,1146.0 L792.6,1145.6 L798.7,1145.2 L804.9,1144.8 L811.0,1144.4 L817.1,1144.0 L823.2,1143.6 L829.3,1143.2 L835.4,1142.8 L841.6,1142.5 L847.7,1142.1 L853.8,1141.8 L859.9,1141.5 L866.0,1141.2 L872.1,1140.9 L878.3,1140.6 L884.4,1140.3 L890.5,1140.0 L896.6,1139.7 L902.7,1139.5 L908.8,1139.3 L915.0,1139.0 L921.1,1138.8 L927.2,1138.6 L933.3,1138.4 L939.4,1138.2 L945.5,1138.0 L951.6,1137.8 L957.8,1137.7 L963.9,1137.5 L970.0,1137.4 L976.1,1137.3 L982.2,1137.2 L988.3,1137.0 L994.5,1136.9 L1000.6,1136.9 L1006.7,1136.8 L1012.8,1136.7 L1018.9,1136.7 L1025.0,1136.6 L1031.2,1136.6 L1037.3,1136.6 L1043.4,1136.5 L1049.5,1136.5 L1055.6,1136.5 L1061.7,1136.6 L1067.8,1136.6 L1074.0,1136.6 L1080.1,1136.7 L1086.2,1136.7 L1092.3,1136.8 L1098.4,1136.9 L1104.5,1136.9 L1110.7,1137.0 L1116.8,1137.2 L1122.9,1137.3 L1129.0,1137.4 L1135.1,1137.5 L1141.2,1137.7 L1147.4,1137.8 L1153.5,1138.0 L1159.6,1138.2 L1165.7,1138.4 L1171.8,1138.6 L1177.9,1138.8 L1184.0,1139.0 L1190.2,1139.3 L1196.3,1139.5 L1202.4,1139.7 L1208.5,1140.0 L1214.6,1140.3 L1220.7,1140.6 L1226.9,1140.9 L1233.0,1141.2 L1239.1,1141.5 L1245.2,1141.8 L1251.3,1142.1 L1257.4,1142.5 L1263.6,1142.8 L1269.7,1143.2 L1275.8,1143.6 L1281.9,1144.0 L1288.0,1144.4 L1294.1,1144.8 L1300.3,1145.2 L1306.4,1145.6 L1312.5,1146.0 L1318.6,1146.5 L1324.7,1147.0 L1330.8,1147.4 L1336.9,1147.9 L1343.1,1148.4 L1349.2,1148.9 L1355.3,1149.4 L1361.4,1149.9 L1367.5,1150.4 L1373.6,1151.0 L1379.8,1151.5 L1385.9,1152.1 L1392.0,1152.7 L1398.1,1153.2 L1404.2,1153.8 L1410.3,1154.4 L1416.5,1155.1 L1422.6,1155.7 L1428.7,1156.3 L1434.8,1157.0 L1440.9,1157.6 L1447.0,1158.3 L1453.1,1158.9 L1459.3,1159.6 L1465.4,1160.3 L1471.5,1161.0 L1477.6,1161.7 L1483.7,1162.5 L1489.8,1163.2 L1496.0,1164.0 L1502.1,1164.7 L1508.2,1165.5 L1514.3,1166.3 L1520.4,1167.0 L1526.5,1167.8 L1532.7,1168.6 L1538.8,1169.5 L1544.9,1170.3 L1551.0,1171.1 L1557.1,1172.0 L1563.2,1172.8 L1569.3,1173.7 L1575.5,1174.6 L1581.6,1175.5 L1587.7,1176.4 L1593.8,1177.3 L1599.9,1178.2 L1606.0,1179.1 L1612.2,1180.1 L1618.3,1181.0 L1624.4,1182.0 L1630.5,1183.0 L1636.6,1184.0 L1642.7,1184.9" fill="none" stroke="rgba(0,42,78,0.820)" stroke-width="7.85" stroke-linecap="round"/><path d="M862.8,1404.6 L866.6,1402.7 L870.3,1400.9 L874.1,1399.0 L877.9,1397.1 L881.7,1395.3 L885.5,1393.5 L889.3,1391.6 L893.1,1389.8 L896.9,1388.0 L900.7,1386.2 L904.5,1384.4 L908.3,1382.6 L912.1,1380.9 L916.0,1379.1 L919.8,1377.4 L923.6,1375.6 L927.4,1373.9 L931.2,1372.1 L935.1,1370.4 L938.9,1368.7 L942.7,1367.0 L946.5,1365.3 L950.4,1363.7 L954.2,1362.0 L958.0,1360.3 L961.9,1358.7 L965.7,1357.0 L969.6,1355.4 L973.4,1353.8 L977.3,1352.1 L981.1,1350.5 L985.0,1348.9 L988.8,1347.4 L992.7,1345.8 L996.5,1344.2 L1000.4,1342.6 L1004.3,1341.1 L1008.1,1339.5 L1012.0,1338.0 L1014.6,1337.0" fill="none" stroke="rgba(0,42,78,0.820)" stroke-width="7.87" stroke-linecap="round" stroke-dasharray="6.3 16.5"/><path d="M1014.6,1337.0 L1015.9,1336.5 L1019.7,1335.0 L1023.6,1333.5 L1027.5,1332.0 L1031.4,1330.5 L1035.3,1329.0 L1039.1,1327.5 L1043.0,1326.1 L1046.9,1324.6 L1050.8,1323.2 L1054.7,1321.7 L1058.6,1320.3 L1062.5,1318.9 L1066.4,1317.5 L1070.3,1316.1 L1074.2,1314.7 L1078.1,1313.3 L1082.0,1312.0 L1085.9,1310.6 L1089.8,1309.3 L1093.8,1307.9 L1097.7,1306.6 L1101.6,1305.3 L1105.5,1303.9 L1109.4,1302.6 L1113.4,1301.3 L1117.3,1300.1 L1121.2,1298.8 L1125.2,1297.5 L1129.1,1296.3 L1133.0,1295.0 L1137.0,1293.8 L1140.9,1292.5 L1144.8,1291.3 L1148.8,1290.1 L1152.7,1288.9 L1156.7,1287.7 L1160.6,1286.5 L1164.6,1285.3 L1168.6,1284.2 L1172.5,1283.0 L1176.5,1281.9 L1180.4,1280.7 L1184.4,1279.6 L1188.4,1278.5 L1192.4,1277.3 L1196.3,1276.2 L1200.3,1275.2 L1204.3,1274.1 L1208.3,1273.0 L1212.2,1271.9 L1216.2,1270.9 L1220.2,1269.8 L1224.2,1268.8 L1228.2,1267.7 L1232.2,1266.7 L1236.2,1265.7 L1240.2,1264.7 L1244.2,1263.7 L1248.2,1262.7 L1252.2,1261.8 L1256.2,1260.8 L1260.2,1259.8 L1264.2,1258.9 L1268.2,1257.9 L1272.2,1257.0 L1276.2,1256.1 L1280.3,1255.2 L1284.3,1254.3 L1288.3,1253.4 L1292.3,1252.5 L1296.4,1251.6 L1300.4,1250.8 L1304.4,1249.9 L1308.5,1249.1 L1312.5,1248.2 L1316.5,1247.4 L1320.6,1246.6 L1324.6,1245.8 L1328.7,1245.0 L1332.7,1244.2 L1336.8,1243.4 L1340.8,1242.6 L1344.9,1241.8 L1348.9,1241.1 L1353.0,1240.3 L1357.1,1239.6 L1361.1,1238.9 L1365.2,1238.1 L1369.3,1237.4 L1373.3,1236.7 L1377.4,1236.0 L1381.5,1235.4 L1385.5,1234.7 L1389.6,1234.0 L1393.7,1233.4 L1397.8,1232.7 L1401.9,1232.1 L1406.0,1231.5 L1410.1,1230.8 L1414.1,1230.2 L1418.2,1229.6 L1422.3,1229.0 L1426.4,1228.4 L1430.5,1227.9 L1434.6,1227.3 L1438.7,1226.8 L1442.9,1226.2 L1447.0,1225.7 L1451.1,1225.1 L1455.2,1224.6 L1459.3,1224.1 L1463.4,1223.6 L1467.6,1223.1 L1471.7,1222.6 L1475.8,1222.2 L1479.9,1221.7 L1484.1,1221.3 L1488.2,1220.8 L1492.3,1220.4 L1496.5,1219.9 L1500.6,1219.5 L1504.7,1219.1 L1508.9,1218.7 L1513.0,1218.3 L1517.2,1218.0 L1521.3,1217.6 L1525.5,1217.2 L1529.6,1216.9 L1533.8,1216.5 L1538.0,1216.2 L1542.1,1215.9 L1546.3,1215.5 L1550.4,1215.2 L1554.6,1214.9 L1558.8,1214.6 L1563.0,1214.4 L1567.1,1214.1 L1571.3,1213.8 L1575.5,1213.6 L1579.7,1213.3 L1583.9,1213.1 L1588.0,1212.9 L1592.2,1212.7 L1596.4,1212.4 L1600.6,1212.2 L1604.8,1212.1 L1609.0,1211.9 L1613.2,1211.7 L1617.4,1211.5 L1621.6,1211.4 L1625.8,1211.3 L1630.0,1211.1 L1634.2,1211.0 L1638.4,1210.9 L1642.7,1210.8 L1646.9,1210.7" fill="none" stroke="rgba(0,42,78,0.820)" stroke-width="7.87" stroke-linecap="round"/><path d="M435.2,1165.6 L441.6,1163.0 L448.0,1160.3 L454.4,1157.7 L460.8,1155.1 L467.2,1152.5 L473.5,1150.0 L479.9,1147.4 L486.3,1144.8 L492.7,1142.3 L499.1,1139.7 L505.5,1137.2 L511.9,1134.7 L518.4,1132.2 L524.8,1129.7 L531.2,1127.2 L537.6,1124.7 L544.0,1122.3 L550.4,1119.8 L556.9,1117.4 L563.3,1114.9 L569.7,1112.5 L576.1,1110.1 L582.6,1107.7 L589.0,1105.3 L595.5,1102.9 L601.9,1100.5 L608.3,1098.1 L614.8,1095.8 L621.2,1093.5 L627.7,1091.1 L634.1,1088.8 L640.6,1086.5 L647.1,1084.2 L653.5,1081.9 L660.0,1079.6 L666.4,1077.3 L672.9,1075.1 L679.4,1072.8 L685.9,1070.6 L691.3,1068.7" fill="none" stroke="rgba(0,42,78,0.820)" stroke-width="7.97" stroke-linecap="round" stroke-dasharray="6.4 16.8"/><path d="M691.3,1068.7 L692.3,1068.4 L698.8,1066.1 L705.3,1063.9 L711.8,1061.7 L718.3,1059.5 L724.7,1057.4 L731.2,1055.2 L737.7,1053.0 L744.2,1050.9 L750.7,1048.7 L757.2,1046.6 L763.7,1044.5 L770.2,1042.4 L776.7,1040.3 L783.3,1038.2 L789.8,1036.1 L796.3,1034.1 L802.8,1032.0 L809.3,1030.0 L815.9,1027.9 L822.4,1025.9 L828.9,1023.9 L835.4,1021.9 L842.0,1019.9 L848.5,1017.9 L855.0,1015.9 L861.6,1014.0 L868.1,1012.0 L874.7,1010.1 L881.2,1008.2 L887.8,1006.2 L894.3,1004.3 L900.9,1002.4 L907.4,1000.5 L914.0,998.6 L920.6,996.8 L927.1,994.9 L933.7,993.1 L940.3,991.2 L946.8,989.4 L953.4,987.6 L960.0,985.8 L966.6,984.0 L973.2,982.2 L979.8,980.4 L986.3,978.6 L992.9,976.9 L999.5,975.1 L1006.1,973.4 L1012.7,971.7 L1019.3,970.0 L1025.9,968.3 L1032.5,966.6 L1039.1,964.9 L1045.7,963.2 L1052.4,961.5 L1059.0,959.9 L1065.6,958.3 L1072.2,956.6 L1078.8,955.0 L1085.5,953.4 L1092.1,951.8 L1098.7,950.2 L1105.4,948.6 L1112.0,947.0 L1118.6,945.5 L1125.3,943.9 L1131.9,942.4 L1138.6,940.9 L1145.2,939.3 L1151.9,937.8 L1158.5,936.3 L1165.2,934.8 L1171.8,933.4 L1178.5,931.9 L1185.2,930.4 L1191.8,929.0 L1198.5,927.6 L1205.2,926.1 L1211.8,924.7 L1218.5,923.3 L1225.2,921.9 L1231.9,920.5 L1238.6,919.1 L1245.2,917.8 L1251.9,916.4 L1258.6,915.1 L1265.3,913.7 L1272.0,912.4 L1278.7,911.1 L1285.4,909.8 L1292.1,908.5 L1298.8,907.2 L1305.5,906.0 L1312.2,904.7 L1318.9,903.4 L1325.7,902.2 L1332.4,901.0 L1339.1,899.8 L1345.8,898.5 L1352.6,897.3 L1359.3,896.2 L1366.0,895.0 L1372.7,893.8 L1379.5,892.6 L1386.2,891.5 L1393.0,890.4 L1399.7,889.2 L1406.4,888.1 L1413.2,887.0 L1419.9,885.9 L1426.7,884.8 L1433.5,883.7 L1440.2,882.7 L1447.0,881.6 L1453.7,880.6 L1460.5,879.5 L1467.3,878.5 L1474.0,877.5 L1480.8,876.5 L1487.6,875.5 L1494.4,874.5 L1501.2,873.5 L1507.9,872.6 L1514.7,871.6 L1521.5,870.7 L1528.3,869.8 L1535.1,868.8 L1541.9,867.9 L1548.7,867.0 L1555.5,866.1 L1562.3,865.2 L1569.1,864.4 L1575.9,863.5 L1582.7,862.7 L1589.5,861.8 L1596.3,861.0 L1603.2,860.2 L1610.0,859.4 L1616.8,858.6 L1623.6,857.8 L1630.5,857.0 L1637.3,856.2 L1644.1,855.5 L1651.0,854.7 L1657.8,854.0 L1664.6,853.3 L1671.5,852.6 L1678.3,851.9 L1685.2,851.2 L1692.0,850.5 L1698.9,849.8 L1705.7,849.1 L1712.6,848.5 L1719.5,847.8 L1726.3,847.2 L1733.2,846.6 L1740.1,846.0 L1746.9,845.4" fill="none" stroke="rgba(0,42,78,0.820)" stroke-width="7.97" stroke-linecap="round"/><path d="M466.6,424.9 L467.2,423.2 L467.8,421.5 L468.3,419.9 L468.7,418.2 L469.1,416.5 L469.5,414.7 L469.9,413.0 L470.2,411.3 L470.4,409.6 L470.7,407.8 L470.8,406.1 L471.0,404.3 L471.1,402.6 L471.1,400.8 L471.1,399.1 L471.1,397.3 L471.0,395.6 L470.9,393.8 L470.8,392.0 L470.6,390.3 L470.4,388.6 L470.1,386.8 L469.8,385.1 L469.4,383.4 L469.0,381.7 L468.6,380.0 L468.1,378.3 L467.6,376.6 L467.0,374.9 L466.4,373.3 L465.8,371.7 L465.1,370.0 L464.4,368.4 L463.7,366.8 L462.9,365.3 L462.1,363.7 L461.2,362.2 L460.3,360.7 L459.4,359.2 L458.4,357.7 L457.4,356.3 L456.4,354.8 L455.3,353.5 L454.2,352.1 L453.1,350.7 L452.0,349.4 L450.8,348.1 L449.5,346.9 L448.3,345.6 L447.0,344.4 L445.7,343.3 L444.4,342.1 L443.0,341.0 L441.6,339.9 L440.2,338.9 L438.8,337.9 L437.3,336.9 L435.8,336.0 L434.3,335.1 L432.8,334.2 L431.3,333.4 L429.7,332.6 L428.1,331.8 L426.5,331.1 L424.9,330.4 L423.3,329.8 L421.6,329.1 L420.0,328.6 L418.3,328.0 L416.6,327.6 L414.9,327.1 L413.2,326.7 L411.5,326.3 L409.8,326.0 L408.0,325.7 L406.3,325.5 L404.5,325.3 L402.8,325.1 L401.0,325.0 L399.3,324.9 L397.5,324.8 L395.8,324.8 L394.0,324.9 L392.3,325.0 L390.5,325.1 L388.8,325.2 L387.0,325.5 L385.3,325.7 L383.6,326.0 L381.8,326.3 L380.1,326.7 L378.4,327.1 L376.7,327.5 L375.0,328.0 L373.4,328.6 L371.7,329.1 L370.0,329.7 L368.4,330.4 L366.8,331.1 L365.2,331.8 L363.6,332.6 L362.1,333.3 L360.5,334.2 L359.0,335.1 L357.5,336.0 L356.0,336.9 L354.5,337.9 L353.1,338.9 L351.7,339.9 L350.3,341.0 L348.9,342.1 L347.6,343.2 L346.3,344.4 L345.0,345.6 L343.8,346.9 L342.5,348.1 L341.4,349.4 L340.2,350.7 L339.1,352.1 L338.0,353.4 L336.9,354.8 L335.9,356.2 L334.9,357.7 L333.9,359.2 L333.0,360.6 L332.1,362.2 L331.2,363.7 L330.4,365.2 L329.6,366.8 L328.9,368.4 L328.2,370.0 L327.5,371.6 L326.9,373.3 L326.3,374.9 L325.7,376.6 L325.2,378.3 L324.7,379.9 L324.3,381.6 L323.9,383.4 L323.5,385.1 L323.2,386.8 L322.9,388.5 L322.7,390.3 L322.5,392.0 L322.4,393.8 L322.2,395.5 L322.2,397.3 L322.1,399.0 L322.2,400.8 L322.2,402.5 L322.3,404.3 L322.4,406.0 L322.6,407.8 L322.8,409.5 L323.1,411.3 L323.4,413.0 L323.7,414.7 L324.1,416.4 L324.6,418.1 L325.0,419.8 L325.5,421.5 L326.1,423.2 L326.6,424.8 L327.3,426.5 L327.9,428.1 L328.6,429.7 L329.4,431.3 L330.1,432.9 L330.9,434.4 L331.8,436.0 L332.7,437.5 L333.6,439.0 L334.5,440.5 L335.5,441.9 L336.5,443.4 L337.6,444.8 L338.7,446.1 L339.8,447.5 L341.0,448.8 L342.1,450.1 L343.3,451.4 L344.6,452.6 L345.9,453.8 L347.2,455.0 L348.5,456.2 L349.8,457.3 L351.2,458.4 L352.6,459.4 L354.0,460.4 L355.5,461.4 L357.0,462.4 L358.5,463.3 L360.0,464.2 L361.5,465.0 L363.1,465.8 L364.7,466.6 L366.2,467.3 L367.9,468.0 L369.5,468.7 L371.1,469.3 L372.8,469.9 L374.5,470.5 L376.1,471.0 L377.8,471.4 L379.5,471.8 L381.2,472.2 L383.0,472.6 L384.7,472.9 L386.4,473.1 L388.2,473.3 L389.9,473.5 L391.7,473.7 L393.4,473.8 L395.2,473.8 L396.9,473.8 L398.7,473.8 L400.4,473.7 L402.2,473.6 L403.9,473.5 L405.7,473.3 L407.4,473.0 L409.2,472.8 L410.9,472.5 L412.6,472.1 L414.3,471.7 L416.0,471.3 L417.7,470.8 L419.4,470.3 L421.1,469.7" fill="none" stroke="rgba(0,42,78,0.820)" stroke-width="9.18" stroke-linecap="round"/><path d="M308.2,893.6 L310.9,895.3 L313.6,897.0 L316.2,898.8 L318.9,900.5 L321.5,902.3 L324.1,904.0 L326.8,905.8 L329.4,907.6 L332.0,909.3 L334.6,911.1 L337.2,912.9 L339.8,914.7 L342.4,916.5 L345.0,918.3 L347.6,920.1 L350.2,921.9 L352.7,923.7 L355.3,925.5 L357.8,927.4 L360.4,929.2 L362.9,931.1 L365.5,932.9 L368.0,934.8 L370.5,936.6 L373.0,938.5 L375.5,940.4 L378.0,942.2 L380.5,944.1 L383.0,946.0 L385.5,947.9 L387.9,949.8 L390.4,951.7 L392.8,953.6 L395.3,955.5 L397.7,957.5 L400.2,959.4 L402.6,961.3 L405.0,963.3 L407.4,965.2 L408.6,966.1" fill="none" stroke="rgba(0,42,78,0.820)" stroke-width="9.20" stroke-linecap="round" stroke-dasharray="7.3 19.3"/><path d="M408.6,966.1 L409.8,967.2 L412.2,969.1 L414.6,971.1 L417.0,973.1 L419.4,975.0 L421.8,977.0 L424.2,979.0 L426.5,981.0 L428.9,983.0 L431.2,985.0 L433.6,987.0 L435.9,989.0 L438.2,991.1 L440.5,993.1 L442.9,995.1 L445.2,997.2 L447.5,999.2 L449.8,1001.3 L452.1,1003.3 L454.3,1005.4 L456.6,1007.5 L458.9,1009.6 L461.1,1011.6 L463.4,1013.7 L465.6,1015.8 L467.9,1017.9 L470.1,1020.0 L472.3,1022.1 L474.6,1024.3 L476.8,1026.4 L479.0,1028.5 L481.2,1030.6 L483.4,1032.8 L485.6,1034.9 L487.7,1037.1 L489.9,1039.2 L492.1,1041.4 L494.2,1043.6 L496.4,1045.8 L498.5,1047.9 L500.7,1050.1 L502.8,1052.3 L504.9,1054.5 L507.0,1056.7 L509.2,1058.9 L511.3,1061.2 L513.4,1063.4 L515.4,1065.6 L517.5,1067.8 L519.6,1070.1 L521.7,1072.3 L523.7,1074.6 L525.8,1076.8 L527.9,1079.1 L529.9,1081.4 L531.9,1083.6 L534.0,1085.9 L536.0,1088.2 L538.0,1090.5 L540.0,1092.8 L542.0,1095.1 L544.0,1097.4 L546.0,1099.7 L548.0,1102.1 L550.0,1104.4 L551.9,1106.7 L553.9,1109.1 L555.9,1111.4 L557.8,1113.8 L559.7,1116.1 L561.7,1118.5 L563.6,1120.9 L565.5,1123.2 L567.4,1125.6 L569.4,1128.0 L571.3,1130.4 L573.2,1132.8 L575.0,1135.2 L576.9,1137.6 L578.8,1140.0 L580.7,1142.4 L582.5,1144.9 L584.4,1147.3 L586.2,1149.7 L588.1,1152.2 L589.9,1154.6 L591.7,1157.1 L593.6,1159.6 L595.4,1162.0 L597.2,1164.5 L599.0,1167.0 L600.8,1169.5 L602.6,1172.0 L604.3,1174.5 L606.1,1177.0 L607.9,1179.5 L609.6,1182.0 L611.4,1184.5 L613.1,1187.0 L614.9,1189.6 L616.6,1192.1 L618.3,1194.7 L620.1,1197.2 L621.8,1199.8 L623.5,1202.3 L625.2,1204.9 L626.9,1207.5 L628.6,1210.1 L630.2,1212.6 L631.9,1215.2 L633.6,1217.8 L635.2,1220.4 L636.9,1223.1 L638.5,1225.7 L640.2,1228.3 L641.8,1230.9 L643.4,1233.5 L645.0,1236.2 L646.7,1238.8 L648.3,1241.5 L649.9,1244.1 L651.4,1246.8 L653.0,1249.5 L654.6,1252.1 L656.2,1254.8 L657.7,1257.5 L659.3,1260.2 L660.9,1262.9 L662.4,1265.6 L663.9,1268.3 L665.5,1271.0 L667.0,1273.7 L668.5,1276.5 L670.0,1279.2 L671.5,1281.9 L673.0,1284.7 L674.5,1287.4 L676.0,1290.2 L677.5,1293.0 L678.9,1295.7 L680.4,1298.5 L681.9,1301.3 L683.3,1304.1 L684.7,1306.9 L686.2,1309.7 L687.6,1312.5 L689.0,1315.3 L690.4,1318.1 L691.9,1320.9 L693.3,1323.7 L694.7,1326.6 L696.0,1329.4 L697.4,1332.2 L698.8,1335.1 L700.2,1337.9" fill="none" stroke="rgba(0,42,78,0.820)" stroke-width="9.20" stroke-linecap="round"/><path d="M1673.2,1141.6 L1668.3,1137.8 L1663.5,1133.9 L1658.7,1130.0 L1653.8,1126.2 L1649.0,1122.4 L1644.1,1118.5 L1639.3,1114.7 L1634.4,1110.9 L1629.5,1107.1 L1624.7,1103.3 L1619.8,1099.5 L1614.9,1095.8 L1610.0,1092.0 L1605.1,1088.3 L1600.2,1084.5 L1595.3,1080.8 L1590.4,1077.0 L1585.5,1073.3 L1580.6,1069.6 L1575.7,1065.9 L1570.8,1062.2 L1565.8,1058.5 L1560.9,1054.9 L1555.9,1051.2 L1551.0,1047.6 L1546.0,1043.9 L1541.1,1040.3 L1536.1,1036.6 L1531.2,1033.0 L1526.2,1029.4 L1521.2,1025.8 L1516.2,1022.2 L1511.2,1018.6 L1506.2,1015.1 L1501.2,1011.5 L1496.2,1007.9 L1491.2,1004.4 L1486.2,1000.9 L1481.2,997.3 L1477.1,994.4" fill="none" stroke="rgba(0,42,78,0.820)" stroke-width="9.70" stroke-linecap="round" stroke-dasharray="7.7 20.4"/><path d="M1477.1,994.4 L1476.2,993.8 L1471.2,990.3 L1466.1,986.8 L1461.1,983.3 L1456.0,979.8 L1451.0,976.3 L1445.9,972.9 L1440.9,969.4 L1435.8,966.0 L1430.8,962.5 L1425.7,959.1 L1420.6,955.7 L1415.5,952.3 L1410.4,948.9 L1405.3,945.5 L1400.2,942.1 L1395.1,938.7 L1390.0,935.3 L1384.9,932.0 L1379.8,928.6 L1374.7,925.3 L1369.6,921.9 L1364.4,918.6 L1359.3,915.3 L1354.1,912.0 L1349.0,908.7 L1343.8,905.4 L1338.7,902.1 L1333.5,898.9 L1328.4,895.6 L1323.2,892.4 L1318.0,889.1 L1312.8,885.9 L1307.6,882.7 L1302.4,879.4 L1297.2,876.2 L1292.0,873.0 L1286.8,869.9 L1281.6,866.7 L1276.4,863.5 L1271.2,860.3 L1265.9,857.2 L1260.7,854.0 L1255.5,850.9 L1250.2,847.8 L1245.0,844.7 L1239.7,841.6 L1234.5,838.5 L1229.2,835.4 L1223.9,832.3 L1218.7,829.2 L1213.4,826.2 L1208.1,823.1 L1202.8,820.1 L1197.5,817.0 L1192.2,814.0 L1186.9,811.0 L1181.6,808.0 L1176.3,805.0 L1171.0,802.0 L1165.7,799.0 L1160.3,796.0 L1155.0,793.1 L1149.7,790.1 L1144.3,787.2 L1139.0,784.2 L1133.6,781.3 L1128.3,778.4 L1122.9,775.5 L1117.5,772.6 L1112.2,769.7 L1106.8,766.8 L1101.4,763.9 L1096.0,761.0 L1090.6,758.2 L1085.2,755.3 L1079.8,752.5 L1074.4,749.7 L1069.0,746.9 L1063.6,744.0 L1058.1,741.2 L1052.7,738.4 L1047.3,735.7 L1041.8,732.9 L1036.4,730.1 L1030.9,727.4 L1025.5,724.6 L1020.0,721.9 L1014.6,719.1 L1009.1,716.4 L1003.6,713.7 L998.1,711.0 L992.7,708.3 L987.2,705.6 L981.7,703.0 L976.2,700.3 L970.7,697.6 L965.2,695.0 L959.7,692.3 L954.1,689.7 L948.6,687.1 L943.1,684.5 L937.5,681.9 L932.0,679.3 L926.5,676.7 L920.9,674.1 L915.4,671.5 L909.8,669.0 L904.2,666.4 L898.7,663.9 L893.1,661.3 L887.5,658.8 L881.9,656.3 L876.3,653.8 L870.7,651.3 L865.1,648.8 L859.5,646.3 L853.9,643.9 L848.3,641.4 L842.7,638.9 L837.1,636.5 L831.4,634.1 L825.8,631.6 L820.2,629.2 L814.5,626.8 L808.9,624.4 L803.2,622.0 L797.6,619.7 L791.9,617.3 L786.2,614.9 L780.6,612.6 L774.9,610.2 L769.2,607.9 L763.5,605.6 L757.8,603.2 L752.1,600.9 L746.4,598.6 L740.7,596.3 L735.0,594.1 L729.3,591.8 L723.5,589.5 L717.8,587.3 L712.1,585.0 L706.3,582.8 L700.6,580.6 L694.8,578.3 L689.1,576.1 L683.3,573.9 L677.5,571.7 L671.8,569.6 L666.0,567.4 L660.2,565.2 L654.4,563.1 L648.6,560.9 L642.9,558.8 L637.1,556.6 L631.2,554.5 L625.4,552.4" fill="none" stroke="rgba(0,42,78,0.820)" stroke-width="9.70" stroke-linecap="round"/><path d="M1111.7,444.4 L1113.9,448.4 L1116.1,452.4 L1118.3,456.3 L1120.5,460.3 L1122.7,464.2 L1125.0,468.2 L1127.2,472.1 L1129.5,476.1 L1131.7,480.0 L1134.0,483.9 L1136.2,487.8 L1138.5,491.8 L1140.8,495.7 L1143.1,499.6 L1145.4,503.5 L1147.7,507.3 L1150.0,511.2 L1152.3,515.1 L1154.6,519.0 L1156.9,522.8 L1159.3,526.7 L1161.6,530.5 L1164.0,534.4 L1166.3,538.2 L1168.7,542.1 L1171.1,545.9 L1173.4,549.7 L1175.8,553.5 L1178.2,557.3 L1180.6,561.1 L1183.0,564.9 L1185.4,568.7 L1187.9,572.5 L1190.3,576.3 L1192.7,580.0 L1195.2,583.8 L1197.6,587.5 L1200.1,591.3 L1202.6,595.0 L1204.3,597.7" fill="none" stroke="rgba(0,42,78,0.820)" stroke-width="11.42" stroke-linecap="round" stroke-dasharray="9.1 24.0"/><path d="M1204.3,597.7 L1205.0,598.8 L1207.5,602.5 L1210.0,606.2 L1212.5,610.0 L1215.0,613.7 L1217.5,617.4 L1220.0,621.1 L1222.6,624.8 L1225.1,628.5 L1227.6,632.1 L1230.2,635.8 L1232.7,639.5 L1235.3,643.1 L1237.9,646.8 L1240.4,650.4 L1243.0,654.1 L1245.6,657.7 L1248.2,661.4 L1250.8,665.0 L1253.4,668.6 L1256.0,672.2 L1258.7,675.8 L1261.3,679.4 L1263.9,683.0 L1266.6,686.6 L1269.2,690.2 L1271.9,693.8 L1274.6,697.3 L1277.2,700.9 L1279.9,704.4 L1282.6,708.0 L1285.3,711.5 L1288.0,715.1 L1290.7,718.6 L1293.4,722.1 L1296.2,725.7 L1298.9,729.2 L1301.6,732.7 L1304.4,736.2 L1307.2,739.7 L1309.9,743.2 L1312.7,746.6 L1315.5,750.1 L1318.2,753.6 L1321.0,757.0 L1323.8,760.5 L1326.6,763.9 L1329.5,767.4 L1332.3,770.8 L1335.1,774.3 L1337.9,777.7 L1340.8,781.1 L1343.6,784.5 L1346.5,787.9 L1349.4,791.3 L1352.2,794.7 L1355.1,798.1 L1358.0,801.5 L1360.9,804.9 L1363.8,808.2 L1366.7,811.6 L1369.6,814.9 L1372.5,818.3 L1375.5,821.6 L1378.4,825.0 L1381.3,828.3 L1384.3,831.6 L1387.2,834.9 L1390.2,838.3 L1393.2,841.6 L1396.2,844.9 L1399.1,848.2 L1402.1,851.4 L1405.1,854.7 L1408.1,858.0 L1411.2,861.3 L1414.2,864.5 L1417.2,867.8 L1420.2,871.0 L1423.3,874.3 L1426.3,877.5 L1429.4,880.7 L1432.5,884.0 L1435.5,887.2 L1438.6,890.4 L1441.7,893.6 L1444.8,896.8 L1447.9,900.0 L1451.0,903.2 L1454.1,906.4 L1457.3,909.5 L1460.4,912.7 L1463.5,915.9 L1466.7,919.0 L1469.8,922.2 L1473.0,925.3 L1476.2,928.5 L1479.3,931.6 L1482.5,934.7 L1485.7,937.8 L1488.9,940.9 L1492.1,944.0 L1495.3,947.1 L1498.5,950.2 L1501.8,953.3 L1505.0,956.4 L1508.2,959.5 L1511.5,962.5 L1514.7,965.6 L1518.0,968.7 L1521.3,971.7 L1524.5,974.8 L1527.8,977.8 L1531.1,980.8 L1534.4,983.8 L1537.7,986.9 L1541.0,989.9 L1544.3,992.9 L1547.7,995.9 L1551.0,998.9 L1554.3,1001.9 L1557.7,1004.8 L1561.0,1007.8 L1564.4,1010.8 L1567.8,1013.7 L1571.1,1016.7 L1574.5,1019.6 L1577.9,1022.6 L1581.3,1025.5 L1584.7,1028.5 L1588.1,1031.4 L1591.6,1034.3 L1595.0,1037.2 L1598.4,1040.1 L1601.9,1043.0 L1605.3,1045.9 L1608.8,1048.8 L1612.2,1051.7 L1615.7,1054.5 L1619.2,1057.4 L1622.7,1060.3 L1626.1,1063.1 L1629.6,1066.0 L1633.2,1068.8 L1636.7,1071.7 L1640.2,1074.5 L1643.7,1077.3 L1647.3,1080.1 L1650.8,1082.9 L1654.3,1085.7 L1657.9,1088.5 L1661.5,1091.3 L1665.0,1094.1 L1668.6,1096.9 L1672.2,1099.7 L1675.8,1102.4 L1679.4,1105.2" fill="none" stroke="rgba(0,42,78,0.820)" stroke-width="11.42" stroke-linecap="round"/><path d="M1598.3,591.6 L1598.9,594.1 L1599.6,596.7 L1600.3,599.2 L1600.9,601.7 L1601.6,604.2 L1602.3,606.8 L1602.9,609.3 L1603.6,611.8 L1604.3,614.3 L1604.9,616.8 L1605.6,619.4 L1606.3,621.9 L1606.9,624.4 L1607.6,626.9 L1608.3,629.5 L1608.9,632.0 L1609.6,634.5 L1610.3,637.0 L1610.9,639.5 L1611.6,642.1 L1612.3,644.6 L1612.9,647.1 L1613.6,649.6 L1614.3,652.2 L1614.9,654.7 L1615.6,657.2 L1616.3,659.7 L1616.9,662.2 L1617.6,664.8 L1618.3,667.3 L1618.9,669.8 L1619.6,672.3 L1620.3,674.9 L1621.0,677.4 L1621.6,679.9 L1622.3,682.4 L1623.0,685.0 L1623.6,687.5 L1624.3,690.0 L1625.0,692.5" fill="none" stroke="rgba(0,42,78,0.820)" stroke-width="11.70" stroke-linecap="round" stroke-dasharray="9.3 24.6"/><path d="M1625.0,692.5 L1625.0,692.5 L1625.6,695.0 L1626.3,697.6 L1627.0,700.1 L1627.6,702.6 L1628.3,705.1 L1629.0,707.7 L1629.6,710.2 L1630.3,712.7 L1631.0,715.2 L1631.6,717.7 L1632.3,720.3 L1633.0,722.8 L1633.6,725.3 L1634.3,727.8 L1635.0,730.4 L1635.6,732.9 L1636.3,735.4 L1637.0,737.9 L1637.6,740.5 L1638.3,743.0 L1639.0,745.5 L1639.6,748.0 L1640.3,750.5 L1641.0,753.1 L1641.6,755.6 L1642.3,758.1 L1643.0,760.6 L1643.7,763.2 L1644.3,765.7 L1645.0,768.2 L1645.7,770.7 L1646.3,773.2 L1647.0,775.8 L1647.7,778.3 L1648.3,780.8 L1649.0,783.3 L1649.7,785.9 L1650.3,788.4 L1651.0,790.9 L1651.7,793.4 L1652.3,796.0 L1653.0,798.5 L1653.7,801.0 L1654.3,803.5 L1655.0,806.0 L1655.7,808.6 L1656.3,811.1 L1657.0,813.6 L1657.7,816.1 L1658.3,818.7 L1659.0,821.2 L1659.7,823.7 L1660.3,826.2 L1661.0,828.7 L1661.7,831.3 L1662.3,833.8 L1663.0,836.3 L1663.7,838.8 L1664.3,841.4 L1665.0,843.9 L1665.7,846.4 L1666.4,848.9 L1667.0,851.4 L1667.7,854.0 L1668.4,856.5 L1669.0,859.0 L1669.7,861.5 L1670.4,864.1 L1671.0,866.6 L1671.7,869.1 L1672.4,871.6 L1673.0,874.2 L1673.7,876.7 L1674.4,879.2 L1675.0,881.7 L1675.7,884.2 L1676.4,886.8 L1677.0,889.3 L1677.7,891.8 L1678.4,894.3 L1679.0,896.9 L1679.7,899.4 L1680.4,901.9 L1681.0,904.4 L1681.7,906.9 L1682.4,909.5 L1683.0,912.0 L1683.7,914.5 L1684.4,917.0 L1685.0,919.6 L1685.7,922.1 L1686.4,924.6 L1687.0,927.1 L1687.7,929.7 L1688.4,932.2 L1689.1,934.7 L1689.7,937.2 L1690.4,939.7 L1691.1,942.3 L1691.7,944.8 L1692.4,947.3 L1693.1,949.8 L1693.7,952.4 L1694.4,954.9 L1695.1,957.4 L1695.7,959.9 L1696.4,962.4 L1697.1,965.0 L1697.7,967.5 L1698.4,970.0 L1699.1,972.5 L1699.7,975.1 L1700.4,977.6 L1701.1,980.1 L1701.7,982.6 L1702.4,985.2 L1703.1,987.7 L1703.7,990.2 L1704.4,992.7 L1705.1,995.2 L1705.7,997.8 L1706.4,1000.3 L1707.1,1002.8 L1707.7,1005.3 L1708.4,1007.9 L1709.1,1010.4 L1709.7,1012.9 L1710.4,1015.4 L1711.1,1017.9 L1711.8,1020.5 L1712.4,1023.0 L1713.1,1025.5 L1713.8,1028.0 L1714.4,1030.6 L1715.1,1033.1 L1715.8,1035.6 L1716.4,1038.1 L1717.1,1040.6 L1717.8,1043.2 L1718.4,1045.7 L1719.1,1048.2 L1719.8,1050.7 L1720.4,1053.3 L1721.1,1055.8 L1721.8,1058.3 L1722.4,1060.8 L1723.1,1063.4 L1723.8,1065.9 L1724.4,1068.4 L1725.1,1070.9 L1725.8,1073.4 L1726.4,1076.0 L1727.1,1078.5" fill="none" stroke="rgba(0,42,78,0.820)" stroke-width="11.70" stroke-linecap="round"/><path d="M1828.7,913.6 L1829.2,914.8 L1829.7,915.9 L1830.3,917.0 L1830.8,918.1 L1831.3,919.2 L1831.8,920.3 L1832.2,921.4 L1832.7,922.5 L1833.2,923.6 L1833.6,924.7 L1834.1,925.8 L1834.5,926.9 L1835.0,928.0 L1835.4,929.1 L1835.8,930.2 L1836.2,931.3 L1836.6,932.3 L1837.0,933.4 L1837.4,934.5 L1837.8,935.6 L1838.2,936.7 L1838.6,937.7 L1838.9,938.8 L1839.3,939.9 L1839.6,940.9 L1839.9,942.0 L1840.3,943.1 L1840.6,944.1 L1840.9,945.2 L1841.2,946.2 L1841.5,947.3 L1841.8,948.4 L1842.1,949.4 L1842.3,950.5 L1842.6,951.5 L1842.9,952.5 L1843.0,952.9" fill="none" stroke="rgba(0,42,78,0.820)" stroke-width="12.20" stroke-linecap="round" stroke-dasharray="9.7 25.6"/><path d="M1843.0,952.9 L1843.1,953.6 L1843.4,954.6 L1843.6,955.7 L1843.8,956.7 L1844.0,957.7 L1844.3,958.8 L1844.5,959.8 L1844.7,960.8 L1844.8,961.9 L1845.0,962.9 L1845.2,963.9 L1845.4,964.9 L1845.5,965.9 L1845.7,967.0 L1845.8,968.0 L1846.0,969.0 L1846.1,970.0 L1846.2,971.0 L1846.3,972.0 L1846.4,973.0 L1846.5,974.0 L1846.6,975.0 L1846.7,976.0 L1846.7,977.0 L1846.8,978.0 L1846.9,979.0 L1846.9,980.0 L1847.0,981.0 L1847.0,981.9 L1847.0,982.9 L1847.0,983.9 L1847.0,984.9 L1847.0,985.9 L1847.0,986.8 L1847.0,987.8 L1847.0,988.8 L1847.0,989.8 L1846.9,990.7 L1846.9,991.7 L1846.9,992.7 L1846.8,993.6 L1846.7,994.6 L1846.6,995.5 L1846.6,996.5 L1846.5,997.4 L1846.4,998.4 L1846.3,999.3 L1846.2,1000.3 L1846.0,1001.2 L1845.9,1002.2 L1845.8,1003.1 L1845.6,1004.0 L1845.5,1005.0 L1845.3,1005.9 L1845.1,1006.8 L1845.0,1007.8 L1844.8,1008.7 L1844.6,1009.6 L1844.4,1010.6 L1844.2,1011.5 L1844.0,1012.4 L1843.8,1013.3 L1843.5,1014.2 L1843.3,1015.1 L1843.0,1016.1 L1842.8,1017.0 L1842.5,1017.9 L1842.3,1018.8 L1842.0,1019.7 L1841.7,1020.6 L1841.4,1021.5 L1841.1,1022.4 L1840.8,1023.3 L1840.5,1024.2 L1840.2,1025.1 L1839.8,1025.9 L1839.5,1026.8 L1839.1,1027.7 L1838.8,1028.6 L1838.4,1029.5 L1838.1,1030.4 L1837.7,1031.2 L1837.3,1032.1 L1836.9,1033.0 L1836.5,1033.9 L1836.1,1034.7 L1835.7,1035.6 L1835.3,1036.5 L1834.8,1037.3 L1834.4,1038.2 L1833.9,1039.0 L1833.5,1039.9 L1833.0,1040.7 L1832.6,1041.6 L1832.1,1042.4 L1831.6,1043.3 L1831.1,1044.1 L1830.6,1045.0 L1830.1,1045.8 L1829.6,1046.7 L1829.0,1047.5 L1828.5,1048.3 L1828.0,1049.2 L1827.4,1050.0 L1826.9,1050.8 L1826.3,1051.7 L1825.7,1052.5 L1825.2,1053.3 L1824.6,1054.1 L1824.0,1055.0 L1823.4,1055.8 L1822.8,1056.6 L1822.1,1057.4 L1821.5,1058.2 L1820.9,1059.0 L1820.3,1059.8 L1819.6,1060.6 L1818.9,1061.4 L1818.3,1062.2 L1817.6,1063.0 L1816.9,1063.8 L1816.2,1064.6 L1815.6,1065.4 L1814.8,1066.2 L1814.1,1067.0 L1813.4,1067.8 L1812.7,1068.6 L1812.0,1069.4 L1811.2,1070.1 L1810.5,1070.9 L1809.7,1071.7 L1808.9,1072.5 L1808.2,1073.2 L1807.4,1074.0 L1806.6,1074.8 L1805.8,1075.5 L1805.0,1076.3 L1804.2,1077.1 L1803.4,1077.8 L1802.6,1078.6 L1801.7,1079.3 L1800.9,1080.1 L1800.0,1080.8 L1799.2,1081.6 L1798.3,1082.3 L1797.4,1083.1 L1796.6,1083.8" fill="none" stroke="rgba(0,42,78,0.820)" stroke-width="12.20" stroke-linecap="round"/><polygon points="1111.7,444.4 1135.4,447.1 1120.7,466.5" fill="rgba(0,40,75,0.8)" stroke="rgba(0,40,75,0.8)" stroke-width="2.4" stroke-linejoin="round"/><polygon points="1481.6,522.2 1467.6,541.5 1458.0,519.1" fill="rgba(0,40,75,0.8)" stroke="rgba(0,40,75,0.8)" stroke-width="2.4" stroke-linejoin="round"/><polygon points="549.4,591.6 562.1,611.8 537.7,612.4" fill="rgba(0,40,75,0.8)" stroke="rgba(0,40,75,0.8)" stroke-width="2.4" stroke-linejoin="round"/><polygon points="328.9,775.4 345.4,758.2 351.9,781.7" fill="rgba(0,40,75,0.8)" stroke="rgba(0,40,75,0.8)" stroke-width="2.4" stroke-linejoin="round"/><polygon points="1828.7,913.6 1819.8,935.8 1805.0,916.4" fill="rgba(0,40,75,0.8)" stroke="rgba(0,40,75,0.8)" stroke-width="2.4" stroke-linejoin="round"/><polygon points="620.1,499.8 640.6,487.6 640.6,512.0" fill="rgba(0,40,75,0.8)" stroke="rgba(0,40,75,0.8)" stroke-width="2.4" stroke-linejoin="round"/><polygon points="966.6,419.0 950.1,436.2 943.6,412.7" fill="rgba(0,40,75,0.8)" stroke="rgba(0,40,75,0.8)" stroke-width="2.4" stroke-linejoin="round"/><polygon points="1549.6,591.6 1550.8,615.4 1529.2,604.0" fill="rgba(0,40,75,0.8)" stroke="rgba(0,40,75,0.8)" stroke-width="2.4" stroke-linejoin="round"/><polygon points="1266.3,1355.2 1245.5,1343.7 1266.5,1331.4" fill="rgba(0,40,75,0.8)" stroke="rgba(0,40,75,0.8)" stroke-width="2.4" stroke-linejoin="round"/><polygon points="152.1,836.5 150.8,860.3 130.6,846.7" fill="rgba(0,40,75,0.8)" stroke="rgba(0,40,75,0.8)" stroke-width="2.4" stroke-linejoin="round"/><polygon points="1073.8,464.4 1093.9,477.3 1072.1,488.2" fill="rgba(0,40,75,0.8)" stroke="rgba(0,40,75,0.8)" stroke-width="2.4" stroke-linejoin="round"/><polygon points="1352.9,1335.2 1351.7,1311.3 1373.3,1322.8" fill="rgba(0,40,75,0.8)" stroke="rgba(0,40,75,0.8)" stroke-width="2.4" stroke-linejoin="round"/><polygon points="308.2,893.6 328.0,907.0 305.9,917.3" fill="rgba(0,40,75,0.8)" stroke="rgba(0,40,75,0.8)" stroke-width="2.4" stroke-linejoin="round"/><polygon points="1396.8,1493.1 1417.8,1481.7 1416.8,1506.1" fill="rgba(0,40,75,0.8)" stroke="rgba(0,40,75,0.8)" stroke-width="2.4" stroke-linejoin="round"/><polygon points="1760.7,799.4 1739.4,810.2 1741.1,785.8" fill="rgba(0,40,75,0.8)" stroke="rgba(0,40,75,0.8)" stroke-width="2.4" stroke-linejoin="round"/><polygon points="1941.2,786.6 1937.3,763.1 1960.0,771.9" fill="rgba(0,40,75,0.8)" stroke="rgba(0,40,75,0.8)" stroke-width="2.4" stroke-linejoin="round"/><polygon points="341.0,821.8 359.5,806.7 363.1,830.8" fill="rgba(0,40,75,0.8)" stroke="rgba(0,40,75,0.8)" stroke-width="2.4" stroke-linejoin="round"/><polygon points="338.3,799.4 352.3,780.1 362.0,802.5" fill="rgba(0,40,75,0.8)" stroke="rgba(0,40,75,0.8)" stroke-width="2.4" stroke-linejoin="round"/><polygon points="1770.1,775.4 1746.2,776.1 1758.1,754.8" fill="rgba(0,40,75,0.8)" stroke="rgba(0,40,75,0.8)" stroke-width="2.4" stroke-linejoin="round"/><polygon points="1236.2,1404.6 1212.4,1406.5 1223.2,1384.6" fill="rgba(0,40,75,0.8)" stroke="rgba(0,40,75,0.8)" stroke-width="2.4" stroke-linejoin="round"/><polygon points="1790.8,893.6 1780.3,915.0 1767.0,894.6" fill="rgba(0,40,75,0.8)" stroke="rgba(0,40,75,0.8)" stroke-width="2.4" stroke-linejoin="round"/><polygon points="270.3,913.6 273.5,937.3 251.1,927.7" fill="rgba(0,40,75,0.8)" stroke="rgba(0,40,75,0.8)" stroke-width="2.4" stroke-linejoin="round"/><polygon points="1304.2,1335.2 1284.2,1322.3 1306.0,1311.4" fill="rgba(0,40,75,0.8)" stroke="rgba(0,40,75,0.8)" stroke-width="2.4" stroke-linejoin="round"/><polygon points="338.3,844.2 361.9,840.7 352.6,863.3" fill="rgba(0,40,75,0.8)" stroke="rgba(0,40,75,0.8)" stroke-width="2.4" stroke-linejoin="round"/><polygon points="1770.1,868.2 1754.6,886.3 1746.7,863.2" fill="rgba(0,40,75,0.8)" stroke="rgba(0,40,75,0.8)" stroke-width="2.4" stroke-linejoin="round"/><polygon points="1758.0,821.8 1739.5,836.9 1735.9,812.8" fill="rgba(0,40,75,0.8)" stroke="rgba(0,40,75,0.8)" stroke-width="2.4" stroke-linejoin="round"/><polygon points="1245.6,1380.6 1222.1,1376.9 1237.6,1358.2" fill="rgba(0,40,75,0.8)" stroke="rgba(0,40,75,0.8)" stroke-width="2.4" stroke-linejoin="round"/><polygon points="832.7,1355.2 841.1,1332.9 856.3,1352.0" fill="rgba(0,40,75,0.8)" stroke="rgba(0,40,75,0.8)" stroke-width="2.4" stroke-linejoin="round"/><polygon points="853.4,1380.6 868.9,1362.5 876.7,1385.6" fill="rgba(0,40,75,0.8)" stroke="rgba(0,40,75,0.8)" stroke-width="2.4" stroke-linejoin="round"/><polygon points="794.8,1335.2 793.0,1311.4 814.8,1322.3" fill="rgba(0,40,75,0.8)" stroke="rgba(0,40,75,0.8)" stroke-width="2.4" stroke-linejoin="round"/><polygon points="746.1,1335.2 733.4,1315.0 757.8,1314.3" fill="rgba(0,40,75,0.8)" stroke="rgba(0,40,75,0.8)" stroke-width="2.4" stroke-linejoin="round"/><polygon points="405.1,1116.2 409.3,1092.7 427.8,1108.7" fill="rgba(0,40,75,0.8)" stroke="rgba(0,40,75,0.8)" stroke-width="2.4" stroke-linejoin="round"/><polygon points="1511.7,571.6 1503.3,593.9 1488.1,574.8" fill="rgba(0,40,75,0.8)" stroke="rgba(0,40,75,0.8)" stroke-width="2.4" stroke-linejoin="round"/><polygon points="437.9,1188.0 460.1,1179.3 456.1,1203.4" fill="rgba(0,40,75,0.8)" stroke="rgba(0,40,75,0.8)" stroke-width="2.4" stroke-linejoin="round"/><polygon points="617.4,477.4 634.4,460.7 640.2,484.4" fill="rgba(0,40,75,0.8)" stroke="rgba(0,40,75,0.8)" stroke-width="2.4" stroke-linejoin="round"/><polygon points="308.2,750.0 324.4,732.5 331.3,755.8" fill="rgba(0,40,75,0.8)" stroke="rgba(0,40,75,0.8)" stroke-width="2.4" stroke-linejoin="round"/><polygon points="267.9,1246.2 277.2,1268.2 253.0,1264.9" fill="rgba(0,40,75,0.8)" stroke="rgba(0,40,75,0.8)" stroke-width="2.4" stroke-linejoin="round"/><polygon points="1850.7,1196.1 1858.8,1173.6 1874.3,1192.5" fill="rgba(0,40,75,0.8)" stroke="rgba(0,40,75,0.8)" stroke-width="2.4" stroke-linejoin="round"/><polygon points="1233.6,1427.0 1209.9,1430.0 1219.6,1407.7" fill="rgba(0,40,75,0.8)" stroke="rgba(0,40,75,0.8)" stroke-width="2.4" stroke-linejoin="round"/><polygon points="328.9,868.2 352.5,871.9 336.9,890.6" fill="rgba(0,40,75,0.8)" stroke="rgba(0,40,75,0.8)" stroke-width="2.4" stroke-linejoin="round"/><polygon points="318.6,1096.1 315.4,1072.5 337.8,1082.0" fill="rgba(0,40,75,0.8)" stroke="rgba(0,40,75,0.8)" stroke-width="2.4" stroke-linejoin="round"/><polygon points="500.7,591.6 499.9,615.5 479.4,602.3" fill="rgba(0,40,75,0.8)" stroke="rgba(0,40,75,0.8)" stroke-width="2.4" stroke-linejoin="round"/><polygon points="687.5,1380.6 666.1,1370.3 686.4,1356.8" fill="rgba(0,40,75,0.8)" stroke="rgba(0,40,75,0.8)" stroke-width="2.4" stroke-linejoin="round"/><polygon points="425.8,1234.3 447.3,1244.7 426.9,1258.2" fill="rgba(0,40,75,0.8)" stroke="rgba(0,40,75,0.8)" stroke-width="2.4" stroke-linejoin="round"/><polygon points="435.2,1165.6 454.6,1151.7 456.7,1176.0" fill="rgba(0,40,75,0.8)" stroke="rgba(0,40,75,0.8)" stroke-width="2.4" stroke-linejoin="round"/><polygon points="1390.8,1355.2 1401.2,1333.8 1414.6,1354.2" fill="rgba(0,40,75,0.8)" stroke="rgba(0,40,75,0.8)" stroke-width="2.4" stroke-linejoin="round"/><polygon points="425.8,1141.6 437.8,1121.0 449.7,1142.3" fill="rgba(0,40,75,0.8)" stroke="rgba(0,40,75,0.8)" stroke-width="2.4" stroke-linejoin="round"/><polygon points="1673.2,1234.3 1653.1,1247.2 1652.3,1222.8" fill="rgba(0,40,75,0.8)" stroke="rgba(0,40,75,0.8)" stroke-width="2.4" stroke-linejoin="round"/><polygon points="1025.2,464.4 1026.9,488.2 1005.1,477.3" fill="rgba(0,40,75,0.8)" stroke="rgba(0,40,75,0.8)" stroke-width="2.4" stroke-linejoin="round"/><polygon points="617.4,522.2 638.7,511.4 637.0,535.8" fill="rgba(0,40,75,0.8)" stroke="rgba(0,40,75,0.8)" stroke-width="2.4" stroke-linejoin="round"/><polygon points="367.2,1096.1 368.0,1072.3 388.6,1085.5" fill="rgba(0,40,75,0.8)" stroke="rgba(0,40,75,0.8)" stroke-width="2.4" stroke-linejoin="round"/><polygon points="1663.8,1165.6 1640.2,1169.1 1649.4,1146.5" fill="rgba(0,40,75,0.8)" stroke="rgba(0,40,75,0.8)" stroke-width="2.4" stroke-linejoin="round"/><polygon points="435.2,1210.4 459.0,1208.5 448.2,1230.4" fill="rgba(0,40,75,0.8)" stroke="rgba(0,40,75,0.8)" stroke-width="2.4" stroke-linejoin="round"/><polygon points="1411.5,1380.6 1431.6,1367.8 1432.4,1392.2" fill="rgba(0,40,75,0.8)" stroke="rgba(0,40,75,0.8)" stroke-width="2.4" stroke-linejoin="round"/><polygon points="862.8,1404.6 883.0,1392.0 883.5,1416.4" fill="rgba(0,40,75,0.8)" stroke="rgba(0,40,75,0.8)" stroke-width="2.4" stroke-linejoin="round"/><polygon points="752.8,1520.3 773.8,1531.6 752.9,1544.2" fill="rgba(0,40,75,0.8)" stroke="rgba(0,40,75,0.8)" stroke-width="2.4" stroke-linejoin="round"/><polygon points="462.8,571.6 446.7,589.1 439.7,565.7" fill="rgba(0,40,75,0.8)" stroke="rgba(0,40,75,0.8)" stroke-width="2.4" stroke-linejoin="round"/><polygon points="1481.6,477.4 1458.8,484.4 1464.6,460.7" fill="rgba(0,40,75,0.8)" stroke="rgba(0,40,75,0.8)" stroke-width="2.4" stroke-linejoin="round"/><polygon points="587.3,571.6 608.1,583.1 587.1,595.4" fill="rgba(0,40,75,0.8)" stroke="rgba(0,40,75,0.8)" stroke-width="2.4" stroke-linejoin="round"/><polygon points="1790.8,750.0 1768.1,742.5 1786.6,726.5" fill="rgba(0,40,75,0.8)" stroke="rgba(0,40,75,0.8)" stroke-width="2.4" stroke-linejoin="round"/><polygon points="865.4,1427.0 889.1,1424.0 879.4,1446.3" fill="rgba(0,40,75,0.8)" stroke="rgba(0,40,75,0.8)" stroke-width="2.4" stroke-linejoin="round"/><polygon points="1673.2,1141.6 1649.7,1146.2 1658.0,1123.2" fill="rgba(0,40,75,0.8)" stroke="rgba(0,40,75,0.8)" stroke-width="2.4" stroke-linejoin="round"/><polygon points="1661.1,1188.0 1638.9,1196.7 1642.9,1172.6" fill="rgba(0,40,75,0.8)" stroke="rgba(0,40,75,0.8)" stroke-width="2.4" stroke-linejoin="round"/><polygon points="1663.8,1210.4 1643.5,1223.0 1643.0,1198.6" fill="rgba(0,40,75,0.8)" stroke="rgba(0,40,75,0.8)" stroke-width="2.4" stroke-linejoin="round"/><polygon points="1760.7,844.2 1741.3,858.1 1739.2,833.8" fill="rgba(0,40,75,0.8)" stroke="rgba(0,40,75,0.8)" stroke-width="2.4" stroke-linejoin="round"/><polygon points="438.3,461.1 425.2,481.1 414.5,459.2" fill="rgba(0,40,75,0.8)" stroke="rgba(0,40,75,0.8)" stroke-width="2.4" stroke-linejoin="round"/><polygon points="708.2,1355.2 688.5,1341.8 710.6,1331.5" fill="rgba(0,40,75,0.8)" stroke="rgba(0,40,75,0.8)" stroke-width="2.4" stroke-linejoin="round"/><polygon points="608.0,546.1 631.4,541.6 623.1,564.6" fill="rgba(0,40,75,0.8)" stroke="rgba(0,40,75,0.8)" stroke-width="2.4" stroke-linejoin="round"/><polygon points="1693.9,1116.2 1670.2,1113.5 1684.9,1094.1" fill="rgba(0,40,75,0.8)" stroke="rgba(0,40,75,0.8)" stroke-width="2.4" stroke-linejoin="round"/><polygon points="1731.8,1096.1 1714.7,1079.5 1738.3,1073.2" fill="rgba(0,40,75,0.8)" stroke="rgba(0,40,75,0.8)" stroke-width="2.4" stroke-linejoin="round"/><polygon points="1780.4,1096.1 1789.3,1074.0 1804.1,1093.4" fill="rgba(0,40,75,0.8)" stroke="rgba(0,40,75,0.8)" stroke-width="2.4" stroke-linejoin="round"/><circle cx="1573.9" cy="499.8" r="86.5" fill="#E0E0E0"/><path d="M1573.9,499.8 L1573.9,413.3 A86.5,86.5 0 0 1 1580.2,413.5 Z" fill="#A51A4F"/><circle cx="1573.9" cy="499.8" r="86.5" fill="none" stroke="#4A8575" stroke-width="2.9"/><circle cx="1573.9" cy="499.8" r="68.5" fill="#7ECDBB" stroke="#4A8575" stroke-width="3.0"/><text x="1573.9" y="517.7" text-anchor="middle" class="nl">adapt</text><circle cx="1853.0" cy="821.8" r="86.5" fill="#E0E0E0"/><path d="M1853.0,821.8 L1853.0,735.3 A86.5,86.5 0 0 1 1885.1,741.5 Z" fill="#A51A4F"/><circle cx="1853.0" cy="821.8" r="86.5" fill="none" stroke="#A3A36A" stroke-width="2.9"/><circle cx="1853.0" cy="821.8" r="68.5" fill="#FFFFA6" stroke="#A3A36A" stroke-width="3.0"/><text x="1853.0" y="839.7" text-anchor="middle" class="nl">cohesion</text><circle cx="1756.1" cy="1188.0" r="86.5" fill="#E0E0E0"/><path d="M1756.1,1188.0 L1756.1,1101.5 A86.5,86.5 0 0 1 1840.4,1168.6 Z" fill="#A51A4F"/><circle cx="1756.1" cy="1188.0" r="86.5" fill="none" stroke="#6F6C8F" stroke-width="2.9"/><circle cx="1756.1" cy="1188.0" r="68.5" fill="#ADAAD2" stroke="#6F6C8F" stroke-width="3.0"/><text x="1756.1" y="1205.9" text-anchor="middle" class="nl">consensus</text><circle cx="1328.6" cy="1427.0" r="86.5" fill="#E0E0E0"/><path d="M1328.6,1427.0 L1328.6,1340.5 A86.5,86.5 0 0 1 1338.9,1341.1 Z" fill="#A51A4F"/><circle cx="1328.6" cy="1427.0" r="86.5" fill="none" stroke="#A8433B" stroke-width="2.9"/><circle cx="1328.6" cy="1427.0" r="68.5" fill="#F7675B" stroke="#A8433B" stroke-width="3.0"/><text x="1328.6" y="1444.9" text-anchor="middle" class="nl">coregulate</text><circle cx="770.4" cy="1427.0" r="86.5" fill="#E0E0E0"/><path d="M770.4,1427.0 L770.4,1340.5 A86.5,86.5 0 0 1 847.6,1388.0 Z" fill="#A51A4F"/><circle cx="770.4" cy="1427.0" r="86.5" fill="none" stroke="#4A6E8C" stroke-width="2.9"/><circle cx="770.4" cy="1427.0" r="68.5" fill="#6CA3CD" stroke="#4A6E8C" stroke-width="3.0"/><text x="770.4" y="1444.9" text-anchor="middle" class="nl">discuss</text><circle cx="342.9" cy="1188.0" r="86.5" fill="#E0E0E0"/><path d="M342.9,1188.0 L342.9,1101.5 A86.5,86.5 0 0 1 413.4,1137.8 Z" fill="#A51A4F"/><circle cx="342.9" cy="1188.0" r="86.5" fill="none" stroke="#A66D33" stroke-width="2.9"/><circle cx="342.9" cy="1188.0" r="68.5" fill="#FAA54C" stroke="#A66D33" stroke-width="3.0"/><text x="342.9" y="1205.9" text-anchor="middle" class="nl">emotion</text><circle cx="246.0" cy="821.8" r="86.5" fill="#E0E0E0"/><path d="M246.0,821.8 L246.0,735.3 A86.5,86.5 0 0 1 314.0,768.4 Z" fill="#A51A4F"/><circle cx="246.0" cy="821.8" r="86.5" fill="none" stroke="#6E9034" stroke-width="2.9"/><circle cx="246.0" cy="821.8" r="68.5" fill="#A6D755" stroke="#6E9034" stroke-width="3.0"/><text x="246.0" y="839.7" text-anchor="middle" class="nl">monitor</text><circle cx="525.1" cy="499.8" r="86.5" fill="#E0E0E0"/><path d="M525.1,499.8 L525.1,413.3 A86.5,86.5 0 0 1 608.0,475.4 Z" fill="#A51A4F"/><circle cx="525.1" cy="499.8" r="86.5" fill="none" stroke="#A67F94" stroke-width="2.9"/><circle cx="525.1" cy="499.8" r="68.5" fill="#F8BEE1" stroke="#A67F94" stroke-width="3.0"/><text x="525.1" y="517.7" text-anchor="middle" class="nl">plan</text><circle cx="1049.5" cy="372.6" r="86.5" fill="#E0E0E0"/><path d="M1049.5,372.6 L1049.5,286.1 A86.5,86.5 0 0 1 1060.1,286.7 Z" fill="#A51A4F"/><circle cx="1049.5" cy="372.6" r="86.5" fill="none" stroke="#8C8C8C" stroke-width="2.9"/><circle cx="1049.5" cy="372.6" r="68.5" fill="#D2D2D2" stroke="#8C8C8C" stroke-width="3.0"/><text x="1049.5" y="390.5" text-anchor="middle" class="nl">synthesis</text><rect x="1704.1" y="681.8" width="80.9" height="29.5" fill="#fff"/><text transform="translate(1744.5,708.5) scale(0.98,1.04)" text-anchor="middle" class="el">0.27</text><rect x="1651.1" y="931.1" width="80.9" height="29.5" fill="#fff"/><text transform="translate(1691.5,957.8) scale(0.98,1.04)" text-anchor="middle" class="el">0.48</text><rect x="1398.5" y="1104.9" width="80.9" height="29.5" fill="#fff"/><text transform="translate(1438.9,1131.6) scale(0.98,1.04)" text-anchor="middle" class="el">0.02</text><rect x="1024.1" y="1130.4" width="80.9" height="29.5" fill="#fff"/><text transform="translate(1064.5,1157.1) scale(0.98,1.04)" text-anchor="middle" class="el">0.06</text><rect x="704.7" y="948.5" width="80.9" height="29.5" fill="#fff"/><text transform="translate(745.1,975.2) scale(0.98,1.04)" text-anchor="middle" class="el">0.12</text><rect x="630.3" y="660.3" width="80.9" height="29.5" fill="#fff"/><text transform="translate(670.7,687.0) scale(0.98,1.04)" text-anchor="middle" class="el">0.03</text><rect x="837.1" y="485.7" width="80.9" height="29.5" fill="#fff"/><text transform="translate(877.5,512.4) scale(0.98,1.04)" text-anchor="middle" class="el">0.02</text><rect x="2044.6" y="780.8" width="80.9" height="29.5" fill="#fff"/><text transform="translate(2085.0,807.5) scale(0.98,1.04)" text-anchor="middle" class="el">0.03</text><rect x="1785.1" y="1031.5" width="57.8" height="29.5" fill="#fff"/><text transform="translate(1814.0,1058.2) scale(0.98,1.04)" text-anchor="middle" class="el">0.5</text><rect x="1487.0" y="1217.7" width="80.9" height="29.5" fill="#fff"/><text transform="translate(1527.4,1244.4) scale(0.98,1.04)" text-anchor="middle" class="el">0.12</text><rect x="1106.0" y="1246.5" width="80.9" height="29.5" fill="#fff"/><text transform="translate(1146.4,1273.2) scale(0.98,1.04)" text-anchor="middle" class="el">0.06</text><rect x="804.0" y="1102.8" width="80.9" height="29.5" fill="#fff"/><text transform="translate(844.4,1129.5) scale(0.98,1.04)" text-anchor="middle" class="el">0.12</text><rect x="725.3" y="754.7" width="80.9" height="29.5" fill="#fff"/><text transform="translate(765.7,781.4) scale(0.98,1.04)" text-anchor="middle" class="el">0.03</text><rect x="930.0" y="548.4" width="80.9" height="29.5" fill="#fff"/><text transform="translate(970.4,575.1) scale(0.98,1.04)" text-anchor="middle" class="el">0.14</text><rect x="1754.1" y="948.0" width="80.9" height="29.5" fill="#fff"/><text transform="translate(1794.5,974.7) scale(0.98,1.04)" text-anchor="middle" class="el">0.01</text><rect x="1933.4" y="1256.8" width="80.9" height="29.5" fill="#fff"/><text transform="translate(1973.8,1283.5) scale(0.98,1.04)" text-anchor="middle" class="el">0.08</text><rect x="1458.4" y="1340.8" width="80.9" height="29.5" fill="#fff"/><text transform="translate(1498.8,1367.5) scale(0.98,1.04)" text-anchor="middle" class="el">0.19</text><rect x="1069.6" y="1360.5" width="80.9" height="29.5" fill="#fff"/><text transform="translate(1110.0,1387.2) scale(0.98,1.04)" text-anchor="middle" class="el">0.19</text><rect x="763.6" y="1218.1" width="80.9" height="29.5" fill="#fff"/><text transform="translate(804.0,1244.8) scale(0.98,1.04)" text-anchor="middle" class="el">0.07</text><rect x="683.0" y="974.5" width="80.9" height="29.5" fill="#fff"/><text transform="translate(723.4,1001.2) scale(0.98,1.04)" text-anchor="middle" class="el">0.05</text><rect x="920.7" y="670.7" width="57.8" height="29.5" fill="#fff"/><text transform="translate(949.6,697.4) scale(0.98,1.04)" text-anchor="middle" class="el">0.4</text><rect x="1268.8" y="608.5" width="80.9" height="29.5" fill="#fff"/><text transform="translate(1309.2,635.2) scale(0.98,1.04)" text-anchor="middle" class="el">0.01</text><rect x="1422.3" y="791.8" width="80.9" height="29.5" fill="#fff"/><text transform="translate(1462.7,818.5) scale(0.98,1.04)" text-anchor="middle" class="el">0.02</text><rect x="1613.4" y="1002.1" width="80.9" height="29.5" fill="#fff"/><text transform="translate(1653.8,1028.8) scale(0.98,1.04)" text-anchor="middle" class="el">0.04</text><rect x="1545.2" y="1245.2" width="80.9" height="29.5" fill="#fff"/><text transform="translate(1585.6,1271.9) scale(0.98,1.04)" text-anchor="middle" class="el">0.13</text><rect x="1400.5" y="1617.7" width="80.9" height="29.5" fill="#fff"/><text transform="translate(1440.9,1644.4) scale(0.98,1.04)" text-anchor="middle" class="el">0.02</text><rect x="934.9" y="1432.4" width="80.9" height="29.5" fill="#fff"/><text transform="translate(975.3,1459.1) scale(0.98,1.04)" text-anchor="middle" class="el">0.27</text><rect x="627.5" y="1282.7" width="80.9" height="29.5" fill="#fff"/><text transform="translate(667.9,1309.4) scale(0.98,1.04)" text-anchor="middle" class="el">0.17</text><rect x="544.3" y="1039.7" width="80.9" height="29.5" fill="#fff"/><text transform="translate(584.7,1066.4) scale(0.98,1.04)" text-anchor="middle" class="el">0.09</text><rect x="721.1" y="817.1" width="80.9" height="29.5" fill="#fff"/><text transform="translate(761.5,843.8) scale(0.98,1.04)" text-anchor="middle" class="el">0.24</text><rect x="1134.8" y="702.0" width="80.9" height="29.5" fill="#fff"/><text transform="translate(1175.2,728.7) scale(0.98,1.04)" text-anchor="middle" class="el">0.02</text><rect x="1238.1" y="767.2" width="80.9" height="29.5" fill="#fff"/><text transform="translate(1278.5,793.9) scale(0.98,1.04)" text-anchor="middle" class="el">0.07</text><rect x="1435.9" y="973.1" width="80.9" height="29.5" fill="#fff"/><text transform="translate(1476.3,999.8) scale(0.98,1.04)" text-anchor="middle" class="el">0.05</text><rect x="1376.2" y="1224.5" width="80.9" height="29.5" fill="#fff"/><text transform="translate(1416.6,1251.2) scale(0.98,1.04)" text-anchor="middle" class="el">0.32</text><rect x="1083.7" y="1392.4" width="80.9" height="29.5" fill="#fff"/><text transform="translate(1124.1,1419.1) scale(0.98,1.04)" text-anchor="middle" class="el">0.08</text><rect x="617.8" y="1617.7" width="80.9" height="29.5" fill="#fff"/><text transform="translate(658.2,1644.4) scale(0.98,1.04)" text-anchor="middle" class="el">0.19</text><rect x="453.4" y="1280.3" width="80.9" height="29.5" fill="#fff"/><text transform="translate(493.8,1307.0) scale(0.98,1.04)" text-anchor="middle" class="el">0.11</text><rect x="370.6" y="1032.5" width="80.9" height="29.5" fill="#fff"/><text transform="translate(411.0,1059.2) scale(0.98,1.04)" text-anchor="middle" class="el">0.02</text><rect x="539.1" y="807.0" width="80.9" height="29.5" fill="#fff"/><text transform="translate(579.5,833.7) scale(0.98,1.04)" text-anchor="middle" class="el">0.01</text><rect x="883.9" y="702.0" width="80.9" height="29.5" fill="#fff"/><text transform="translate(924.3,728.7) scale(0.98,1.04)" text-anchor="middle" class="el">0.14</text><rect x="1310.6" y="877.3" width="80.9" height="29.5" fill="#fff"/><text transform="translate(1351.0,904.0) scale(0.98,1.04)" text-anchor="middle" class="el">0.33</text><rect x="1254.1" y="1127.8" width="80.9" height="29.5" fill="#fff"/><text transform="translate(1294.5,1154.5) scale(0.98,1.04)" text-anchor="middle" class="el">0.32</text><rect x="963.3" y="1302.1" width="80.9" height="29.5" fill="#fff"/><text transform="translate(1003.7,1328.8) scale(0.98,1.04)" text-anchor="middle" class="el">0.03</text><rect x="589.5" y="1305.5" width="57.8" height="29.5" fill="#fff"/><text transform="translate(618.4,1332.2) scale(0.98,1.04)" text-anchor="middle" class="el">0.1</text><rect x="84.3" y="1257.5" width="80.9" height="29.5" fill="#fff"/><text transform="translate(124.7,1284.2) scale(0.98,1.04)" text-anchor="middle" class="el">0.08</text><rect x="225.4" y="958.0" width="80.9" height="29.5" fill="#fff"/><text transform="translate(265.8,984.7) scale(0.98,1.04)" text-anchor="middle" class="el">0.04</text><rect x="412.2" y="723.0" width="57.8" height="29.5" fill="#fff"/><text transform="translate(441.1,749.7) scale(0.98,1.04)" text-anchor="middle" class="el">0.1</text><rect x="1108.3" y="633.3" width="80.9" height="29.5" fill="#fff"/><text transform="translate(1148.7,660.0) scale(0.98,1.04)" text-anchor="middle" class="el">0.01</text><rect x="1292.2" y="858.5" width="80.9" height="29.5" fill="#fff"/><text transform="translate(1332.6,885.2) scale(0.98,1.04)" text-anchor="middle" class="el">0.06</text><rect x="1237.8" y="1005.5" width="80.9" height="29.5" fill="#fff"/><text transform="translate(1278.2,1032.2) scale(0.98,1.04)" text-anchor="middle" class="el">0.16</text><rect x="949.4" y="1178.1" width="80.9" height="29.5" fill="#fff"/><text transform="translate(989.8,1204.8) scale(0.98,1.04)" text-anchor="middle" class="el">0.06</text><rect x="565.4" y="1188.0" width="80.9" height="29.5" fill="#fff"/><text transform="translate(605.8,1214.7) scale(0.98,1.04)" text-anchor="middle" class="el">0.38</text><rect x="283.4" y="1022.3" width="80.9" height="29.5" fill="#fff"/><text transform="translate(323.8,1049.0) scale(0.98,1.04)" text-anchor="middle" class="el">0.09</text><rect x="-27.0" y="780.7" width="80.9" height="29.5" fill="#fff"/><text transform="translate(13.4,807.4) scale(0.98,1.04)" text-anchor="middle" class="el">0.02</text><rect x="361.8" y="596.9" width="80.9" height="29.5" fill="#fff"/><text transform="translate(402.2,623.6) scale(0.98,1.04)" text-anchor="middle" class="el">0.22</text><rect x="722.5" y="486.8" width="80.9" height="29.5" fill="#fff"/><text transform="translate(762.9,513.5) scale(0.98,1.04)" text-anchor="middle" class="el">0.02</text><rect x="1367.2" y="744.1" width="80.9" height="29.5" fill="#fff"/><text transform="translate(1407.6,770.8) scale(0.98,1.04)" text-anchor="middle" class="el">0.03</text><rect x="1291.4" y="987.6" width="80.9" height="29.5" fill="#fff"/><text transform="translate(1331.8,1014.3) scale(0.98,1.04)" text-anchor="middle" class="el">0.29</text><rect x="1051.4" y="1080.9" width="80.9" height="29.5" fill="#fff"/><text transform="translate(1091.8,1107.6) scale(0.98,1.04)" text-anchor="middle" class="el">0.02</text><rect x="674.0" y="1091.3" width="80.9" height="29.5" fill="#fff"/><text transform="translate(714.4,1118.0) scale(0.98,1.04)" text-anchor="middle" class="el">0.07</text><rect x="386.2" y="936.0" width="80.9" height="29.5" fill="#fff"/><text transform="translate(426.6,962.7) scale(0.98,1.04)" text-anchor="middle" class="el">0.15</text><rect x="329.0" y="694.8" width="80.9" height="29.5" fill="#fff"/><text transform="translate(369.4,721.5) scale(0.98,1.04)" text-anchor="middle" class="el">0.08</text><rect x="301.5" y="338.5" width="80.9" height="29.5" fill="#fff"/><text transform="translate(341.9,365.2) scale(0.98,1.04)" text-anchor="middle" class="el">0.37</text><rect x="1339.9" y="438.4" width="80.9" height="29.5" fill="#fff"/><text transform="translate(1380.3,465.1) scale(0.98,1.04)" text-anchor="middle" class="el">0.23</text><rect x="1538.1" y="653.4" width="80.9" height="29.5" fill="#fff"/><text transform="translate(1578.5,680.1) scale(0.98,1.04)" text-anchor="middle" class="el">0.03</text><rect x="1453.5" y="922.4" width="80.9" height="29.5" fill="#fff"/><text transform="translate(1493.9,949.1) scale(0.98,1.04)" text-anchor="middle" class="el">0.47</text><rect x="1162.3" y="1067.6" width="80.9" height="29.5" fill="#fff"/><text transform="translate(1202.7,1094.3) scale(0.98,1.04)" text-anchor="middle" class="el">0.04</text><rect x="855.3" y="1068.1" width="80.9" height="29.5" fill="#fff"/><text transform="translate(895.7,1094.8) scale(0.98,1.04)" text-anchor="middle" class="el">0.06</text><rect x="538.8" y="900.1" width="80.9" height="29.5" fill="#fff"/><text transform="translate(579.2,926.8) scale(0.98,1.04)" text-anchor="middle" class="el">0.07</text><rect x="491.5" y="678.1" width="80.9" height="29.5" fill="#fff"/><text transform="translate(531.9,704.8) scale(0.98,1.04)" text-anchor="middle" class="el">0.01</text><rect x="678.8" y="437.7" width="80.9" height="29.5" fill="#fff"/><text transform="translate(719.2,464.4) scale(0.98,1.04)" text-anchor="middle" class="el">0.08</text></svg>
</body></html>
